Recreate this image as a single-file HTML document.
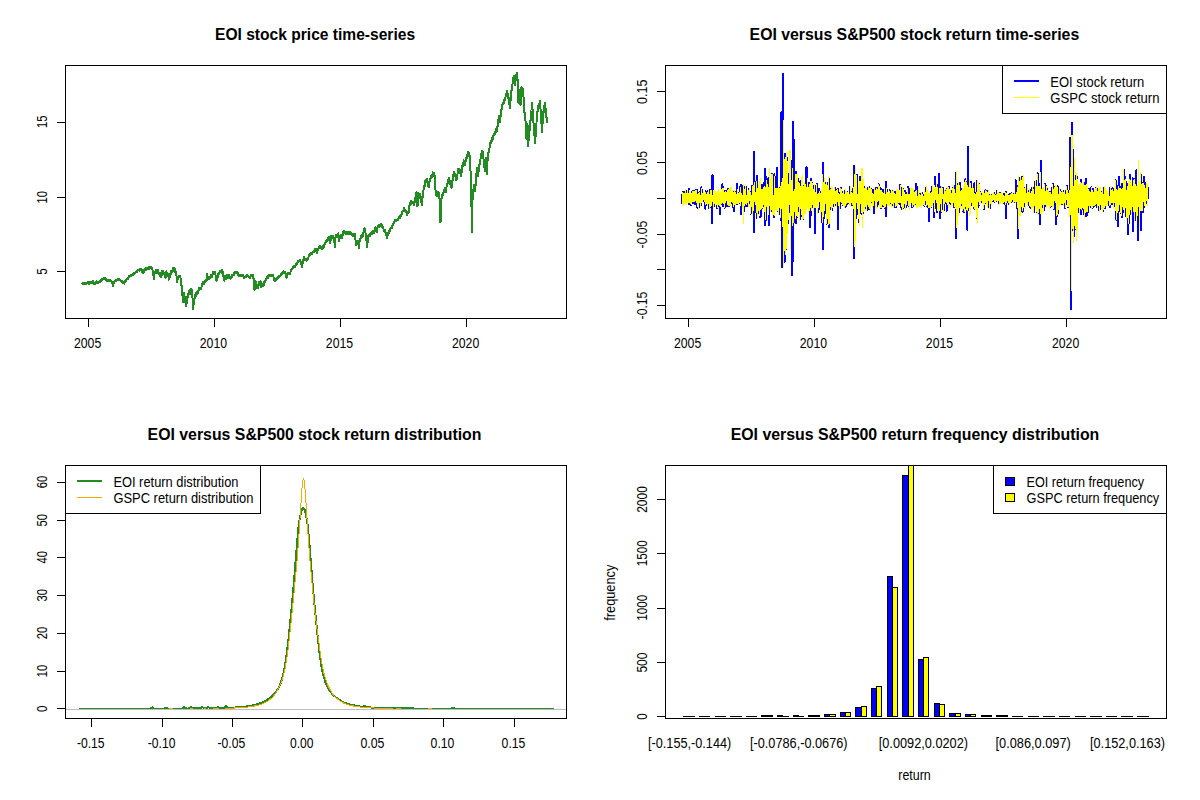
<!DOCTYPE html>
<html><head><meta charset="utf-8"><title>EOI vs S&amp;P500</title>
<style>html,body{margin:0;padding:0;background:#fff}svg{display:block}</style></head>
<body>
<svg width="1200" height="800" viewBox="0 0 1200 800">
<rect width="1200" height="800" fill="#fff"/>
<g shape-rendering="crispEdges">
<polyline points="82.3,283.6 82.4,283.3 82.5,283.4 82.6,284.0 82.7,284.0 82.8,284.0 82.9,283.4 83.0,283.2 83.1,283.6 83.2,283.9 83.3,283.1 83.4,283.2 83.5,284.1 83.6,283.9 83.7,283.9 83.8,284.2 83.9,283.2 84.0,283.3 84.1,283.4 84.2,283.6 84.3,284.0 84.4,284.0 84.5,283.5 84.6,283.4 84.7,283.4 84.8,283.5 84.9,283.5 85.0,283.8 85.1,283.1 85.2,283.4 85.3,283.9 85.4,283.9 85.5,284.1 85.6,283.6 85.7,283.4 85.8,282.7 85.9,283.2 86.0,283.4 86.1,283.8 86.2,283.8 86.3,283.3 86.4,283.2 86.5,282.7 86.6,283.1 86.7,282.9 86.8,283.0 86.9,283.1 87.0,283.1 87.1,283.5 87.2,282.6 87.3,282.8 87.4,282.2 87.5,282.3 87.6,282.6 87.7,282.3 87.8,282.7 87.9,282.9 88.0,282.6 88.1,282.8 88.2,282.9 88.3,282.8 88.4,282.9 88.5,282.3 88.6,283.3 88.7,283.8 88.8,284.0 88.9,283.9 89.0,283.1 89.1,283.3 89.2,283.2 89.3,282.9 89.4,282.7 89.5,282.7 89.6,282.8 89.7,283.1 89.8,282.3 89.9,282.9 90.0,282.6 90.1,282.5 90.2,282.5 90.3,282.0 90.4,282.3 90.5,282.4 90.6,282.4 90.7,282.6 90.8,282.5 90.9,282.7 91.0,282.5 91.1,282.2 91.2,282.5 91.3,282.6 91.4,282.4 91.5,282.3 91.6,282.9 91.7,282.8 91.8,282.7 91.9,283.3 92.0,283.0 92.1,282.7 92.2,282.8 92.3,281.8 92.4,282.5 92.5,282.2 92.6,281.6 92.7,281.5 92.8,281.6 92.9,281.8 93.0,281.6 93.1,281.4 93.2,281.3 93.3,281.4 93.4,281.8 93.5,281.8 93.6,282.5 93.7,282.7 93.8,282.9 93.9,283.3 94.0,283.7 94.1,283.9 94.2,283.4 94.3,283.1 94.4,282.7 94.5,283.4 94.6,284.0 94.7,283.4 94.8,283.5 94.9,282.9 95.0,283.0 95.1,283.1 95.2,282.9 95.3,283.1 95.4,282.8 95.5,282.8 95.6,283.5 95.7,283.7 95.8,282.9 95.9,282.5 96.0,283.3 96.1,283.2 96.2,282.1 96.3,282.4 96.4,281.2 96.5,281.3 96.6,282.0 96.7,282.3 96.8,282.0 96.9,281.9 97.0,282.2 97.1,282.5 97.2,282.2 97.3,282.3 97.4,282.0 97.5,282.1 97.6,281.9 97.7,282.6 97.8,282.7 97.9,282.7 98.0,282.8 98.1,282.6 98.2,282.3 98.3,282.7 98.4,282.3 98.5,281.8 98.6,281.8 98.7,282.0 98.8,282.1 98.9,282.1 99.0,281.7 99.1,281.5 99.2,281.3 99.3,281.6 99.4,282.0 99.5,282.2 99.6,282.1 99.7,281.6 99.8,281.7 99.9,282.0 100.0,281.9 100.1,281.8 100.2,281.6 100.3,281.2 100.4,281.4 100.5,281.5 100.6,281.3 100.7,281.2 100.8,281.0 100.9,280.2 101.0,281.0 101.1,281.0 101.2,280.7 101.3,280.8 101.4,280.6 101.5,280.5 101.6,280.3 101.7,280.4 101.8,279.7 101.9,280.1 102.0,279.3 102.1,279.1 102.2,278.9 102.3,278.7 102.4,278.9 102.5,279.5 102.6,279.6 102.7,279.7 102.8,279.4 102.9,279.2 103.0,278.8 103.1,278.4 103.2,278.6 103.3,278.6 103.4,278.3 103.5,278.1 103.6,278.4 103.7,277.8 103.8,277.8 103.9,277.8 104.0,278.6 104.1,278.5 104.2,278.5 104.3,278.6 104.4,278.5 104.5,277.9 104.6,277.7 104.7,278.1 104.8,279.0 104.9,278.8 105.0,279.4 105.1,279.4 105.2,279.7 105.3,279.6 105.4,279.2 105.5,279.1 105.6,279.4 105.7,279.7 105.8,280.0 105.9,280.0 106.0,279.4 106.1,279.3 106.2,279.6 106.3,279.8 106.4,280.7 106.5,279.9 106.6,280.1 106.7,280.2 106.8,280.5 106.9,280.8 107.0,280.7 107.1,280.3 107.2,280.6 107.3,280.2 107.4,280.0 107.5,280.6 107.6,280.2 107.7,280.1 107.8,279.7 107.9,279.7 108.0,280.0 108.1,280.8 108.2,280.3 108.3,279.9 108.4,280.6 108.5,280.1 108.6,280.5 108.7,280.9 108.8,280.8 108.9,281.0 109.0,280.7 109.1,280.9 109.2,280.4 109.3,280.6 109.4,280.6 109.5,280.1 109.6,281.0 109.7,280.6 109.8,280.2 109.9,280.5 110.0,280.3 110.1,280.6 110.2,280.8 110.3,280.8 110.4,280.6 110.5,280.3 110.6,280.4 110.7,280.3 110.8,280.5 110.9,280.7 111.0,280.5 111.1,280.7 111.2,280.6 111.3,280.8 111.4,281.0 111.5,280.9 111.6,281.0 111.7,281.1 111.8,281.6 111.9,281.7 112.0,281.9 112.1,282.6 112.2,282.7 112.3,282.8 112.4,283.0 112.5,283.6 112.6,284.0 112.7,284.4 112.8,284.4 112.9,284.9 113.0,285.7 113.1,285.5 113.2,284.7 113.3,284.0 113.4,283.8 113.5,283.6 113.6,283.3 113.7,282.8 113.8,282.2 113.9,282.0 114.0,281.6 114.1,282.0 114.2,281.3 114.3,281.3 114.4,282.2 114.5,282.2 114.6,281.9 114.7,281.8 114.8,281.6 114.9,281.0 115.0,280.5 115.1,280.4 115.2,280.6 115.3,280.2 115.4,280.2 115.5,280.0 115.6,280.4 115.7,280.0 115.8,280.1 115.9,280.3 116.0,280.4 116.1,280.1 116.2,280.6 116.3,280.8 116.4,280.3 116.5,279.9 116.6,280.3 116.7,280.1 116.8,279.8 116.9,279.8 117.0,279.8 117.1,280.2 117.2,280.0 117.3,280.0 117.4,279.4 117.5,279.8 117.6,279.5 117.7,279.8 117.8,279.9 117.9,279.8 118.0,278.8 118.1,279.3 118.2,279.9 118.3,279.8 118.4,279.5 118.5,279.6 118.6,280.2 118.7,280.2 118.8,280.1 118.9,279.6 119.0,279.4 119.1,279.8 119.2,279.6 119.3,279.4 119.4,279.6 119.5,279.6 119.6,279.5 119.7,279.8 119.8,279.7 119.9,279.7 120.0,279.4 120.1,279.4 120.2,279.7 120.3,279.7 120.4,280.7 120.5,280.6 120.6,280.4 120.7,280.8 120.8,280.6 120.9,280.9 121.0,281.1 121.1,281.3 121.2,281.2 121.3,281.3 121.4,280.6 121.5,281.5 121.6,281.3 121.7,281.6 121.8,281.7 121.9,281.6 122.0,281.1 122.1,281.5 122.2,281.9 122.3,282.0 122.4,282.6 122.5,282.2 122.6,282.7 122.7,282.8 122.8,282.9 122.9,282.4 123.0,282.0 123.1,282.0 123.2,282.7 123.3,282.9 123.4,282.7 123.5,283.1 123.6,283.1 123.7,283.1 123.8,282.7 123.9,282.4 124.0,283.0 124.1,283.4 124.2,283.6 124.3,283.4 124.4,282.4 124.5,282.6 124.6,282.3 124.7,281.7 124.8,281.5 124.9,281.2 125.0,281.4 125.1,281.9 125.2,282.0 125.3,282.1 125.4,281.8 125.5,281.7 125.6,281.4 125.7,281.3 125.8,281.2 125.9,281.2 126.0,281.2 126.1,280.2 126.2,280.0 126.3,280.1 126.4,279.5 126.5,279.2 126.6,279.0 126.7,279.2 126.8,278.8 126.9,278.6 127.0,278.9 127.1,279.1 127.2,278.9 127.3,278.5 127.4,278.3 127.5,278.2 127.6,278.3 127.7,278.6 127.8,279.0 127.9,278.6 128.0,278.0 128.1,278.3 128.2,277.8 128.3,277.7 128.4,277.4 128.5,277.8 128.6,277.4 128.7,277.4 128.8,277.4 128.9,277.2 129.0,277.1 129.1,277.0 129.2,276.3 129.3,276.4 129.4,276.7 129.5,276.8 129.6,276.4 129.7,276.8 129.8,276.1 129.9,275.7 130.0,276.0 130.1,275.7 130.2,275.9 130.3,275.7 130.4,275.2 130.5,275.5 130.6,275.5 130.7,275.3 130.8,275.8 130.9,275.8 131.0,274.5 131.1,274.9 131.2,274.8 131.3,275.0 131.4,274.7 131.5,274.7 131.6,274.8 131.7,275.2 131.8,275.0 131.9,275.1 132.0,274.6 132.1,275.1 132.2,274.9 132.3,274.7 132.4,274.7 132.5,274.7 132.6,275.2 132.7,275.0 132.8,274.3 132.9,273.6 133.0,273.8 133.1,273.7 133.2,274.0 133.3,274.0 133.4,273.3 133.5,273.8 133.6,273.4 133.7,273.7 133.8,273.0 133.9,273.2 134.0,273.7 134.1,273.3 134.2,273.1 134.3,273.2 134.4,273.4 134.5,273.3 134.6,273.1 134.7,273.8 134.8,273.1 134.9,272.5 135.0,272.8 135.1,272.7 135.2,272.7 135.3,273.1 135.4,272.8 135.5,272.6 135.6,272.9 135.7,272.5 135.8,272.4 135.9,271.9 136.0,272.1 136.1,272.4 136.2,272.0 136.3,272.2 136.4,271.8 136.5,271.9 136.6,271.2 136.7,272.0 136.8,271.7 136.9,271.2 137.0,270.6 137.1,270.6 137.2,270.7 137.3,270.7 137.4,270.5 137.5,271.0 137.6,271.1 137.7,270.6 137.8,270.7 137.9,270.3 138.0,270.5 138.1,270.4 138.2,269.8 138.3,270.2 138.4,270.4 138.5,269.7 138.6,270.4 138.7,270.5 138.8,270.4 138.9,269.5 139.0,270.0 139.1,270.2 139.2,270.6 139.3,269.5 139.4,269.4 139.5,269.7 139.6,269.3 139.7,269.4 139.8,269.3 139.9,269.5 140.0,269.3 140.1,269.2 140.2,269.3 140.3,269.8 140.4,269.6 140.5,269.3 140.6,269.0 140.7,269.2 140.8,269.1 140.9,269.3 141.0,269.0 141.1,268.8 141.2,268.7 141.3,269.0 141.4,269.0 141.5,269.2 141.6,269.9 141.7,270.6 141.8,270.5 141.9,271.1 142.0,271.2 142.1,271.2 142.2,271.3 142.3,271.9 142.4,272.1 142.5,272.6 142.6,273.4 142.7,273.2 142.8,273.1 142.9,273.2 143.0,273.2 143.1,273.4 143.2,272.8 143.3,272.5 143.4,272.3 143.5,271.8 143.6,271.7 143.7,271.5 143.8,272.4 143.9,271.4 144.0,271.7 144.1,270.7 144.2,269.9 144.3,269.5 144.4,269.9 144.5,269.7 144.6,269.5 144.7,269.8 144.8,269.8 144.9,270.3 145.0,270.0 145.1,270.2 145.2,270.1 145.3,269.4 145.4,269.1 145.5,268.9 145.6,268.4 145.7,268.4 145.8,269.2 145.9,269.6 146.0,269.3 146.1,269.6 146.2,270.2 146.3,268.8 146.4,268.4 146.5,268.4 146.6,268.5 146.7,268.6 146.8,268.8 146.9,268.9 147.0,269.4 147.1,268.6 147.2,268.8 147.3,268.1 147.4,268.3 147.5,268.5 147.6,268.9 147.7,268.8 147.8,267.8 147.9,267.9 148.0,268.7 148.1,269.1 148.2,268.7 148.3,267.9 148.4,268.0 148.5,268.1 148.6,267.9 148.7,267.5 148.8,268.2 148.9,268.8 149.0,268.5 149.1,268.4 149.2,268.1 149.3,268.0 149.4,267.7 149.5,267.8 149.6,267.5 149.7,267.2 149.8,267.6 149.9,267.1 150.0,266.7 150.1,267.3 150.2,267.8 150.3,266.7 150.4,267.2 150.5,266.8 150.6,267.4 150.7,267.9 150.8,267.2 150.9,267.9 151.0,267.5 151.1,267.8 151.2,267.7 151.3,268.0 151.4,268.3 151.5,268.5 151.6,268.2 151.7,267.8 151.8,268.2 151.9,268.3 152.0,268.7 152.1,268.4 152.2,269.2 152.3,268.8 152.4,269.4 152.5,270.4 152.6,270.0 152.7,270.2 152.8,270.7 152.9,270.9 153.0,272.0 153.1,272.7 153.2,273.1 153.3,273.5 153.4,274.7 153.5,275.9 153.6,276.3 153.7,276.6 153.8,277.4 153.9,278.3 154.0,279.2 154.1,278.1 154.2,276.3 154.3,274.5 154.4,274.3 154.5,273.8 154.6,273.0 154.7,272.6 154.8,272.6 154.9,272.8 155.0,273.1 155.1,272.9 155.2,272.5 155.3,272.7 155.4,271.8 155.5,272.1 155.6,271.2 155.7,272.2 155.8,271.7 155.9,272.1 156.0,272.5 156.1,271.8 156.2,271.4 156.3,270.5 156.4,269.8 156.5,272.6 156.6,272.0 156.7,271.1 156.8,271.9 156.9,272.4 157.0,271.3 157.1,272.4 157.2,271.4 157.3,272.3 157.4,271.1 157.5,270.7 157.6,271.0 157.7,270.3 157.8,269.8 157.9,271.9 158.0,272.3 158.1,271.7 158.2,272.0 158.3,273.0 158.4,273.3 158.5,272.5 158.6,272.5 158.7,272.5 158.8,272.8 158.9,272.6 159.0,273.2 159.1,272.8 159.2,273.1 159.3,274.2 159.4,273.9 159.5,274.8 159.6,273.9 159.7,275.1 159.8,275.9 159.9,275.9 160.0,273.7 160.1,273.5 160.2,274.7 160.3,273.2 160.4,272.8 160.5,274.8 160.6,275.2 160.7,276.7 160.8,276.9 160.9,277.0 161.0,276.9 161.1,276.8 161.2,276.1 161.3,275.3 161.4,274.0 161.5,274.8 161.6,274.4 161.7,273.7 161.8,273.5 161.9,272.7 162.0,270.8 162.1,271.9 162.2,272.4 162.3,274.3 162.4,275.3 162.5,275.4 162.6,273.8 162.7,273.5 162.8,272.5 162.9,271.6 163.0,271.1 163.1,271.3 163.2,272.3 163.3,272.4 163.4,273.5 163.5,272.8 163.6,272.6 163.7,273.1 163.8,273.5 163.9,273.6 164.0,273.6 164.1,272.4 164.2,273.7 164.3,272.9 164.4,274.3 164.5,273.5 164.6,274.2 164.7,275.0 164.8,275.0 164.9,275.0 165.0,274.9 165.1,275.1 165.2,276.7 165.3,276.9 165.4,277.0 165.5,276.6 165.6,277.6 165.7,276.5 165.8,276.0 165.9,274.6 166.0,273.9 166.1,273.0 166.2,271.6 166.3,271.5 166.4,271.3 166.5,271.8 166.6,274.0 166.7,273.4 166.8,273.9 166.9,273.3 167.0,273.1 167.1,273.7 167.2,273.0 167.3,274.1 167.4,273.1 167.5,273.9 167.6,273.8 167.7,273.9 167.8,275.0 167.9,274.6 168.0,275.4 168.1,275.3 168.2,276.6 168.3,276.9 168.4,275.3 168.5,276.2 168.6,276.5 168.7,277.4 168.8,279.8 168.9,279.5 169.0,279.5 169.1,278.8 169.2,277.9 169.3,277.8 169.4,277.2 169.5,277.3 169.6,276.3 169.7,277.9 169.8,276.5 169.9,275.7 170.0,276.6 170.1,274.1 170.2,275.3 170.3,273.8 170.4,274.4 170.5,274.3 170.6,273.9 170.7,271.7 170.8,272.3 170.9,274.3 171.0,273.1 171.1,271.8 171.2,271.3 171.3,272.2 171.4,271.4 171.5,272.9 171.6,272.6 171.7,272.6 171.8,271.2 171.9,270.9 172.0,270.7 172.1,271.5 172.2,270.7 172.3,270.9 172.4,271.3 172.5,270.8 172.6,271.2 172.7,269.5 172.8,270.1 172.9,270.1 173.0,269.6 173.1,268.3 173.2,268.2 173.3,268.3 173.4,269.3 173.5,270.0 173.6,269.9 173.7,270.2 173.8,270.3 173.9,271.4 174.0,270.3 174.1,269.4 174.2,268.8 174.3,268.4 174.4,268.7 174.5,267.7 174.6,269.2 174.7,270.0 174.8,269.1 174.9,269.4 175.0,268.8 175.1,271.7 175.2,271.8 175.3,272.2 175.4,272.6 175.5,270.7 175.6,271.0 175.7,271.4 175.8,272.7 175.9,272.8 176.0,272.2 176.1,272.8 176.2,275.1 176.3,274.9 176.4,276.0 176.5,275.9 176.6,276.8 176.7,279.9 176.8,280.4 176.9,281.0 177.0,281.7 177.1,280.6 177.2,280.1 177.3,279.3 177.4,279.8 177.5,280.1 177.6,279.7 177.7,278.5 177.8,278.8 177.9,277.9 178.0,277.8 178.1,278.5 178.2,277.7 178.3,276.9 178.4,276.4 178.5,277.1 178.6,277.5 178.7,276.1 178.8,276.7 178.9,277.4 179.0,277.0 179.1,277.5 179.2,277.1 179.3,276.2 179.4,276.6 179.5,276.9 179.6,276.8 179.7,276.8 179.8,276.8 179.9,276.5 180.0,275.7 180.1,276.6 180.2,276.4 180.3,277.3 180.4,277.6 180.5,277.7 180.6,278.1 180.7,278.6 180.8,278.7 180.9,278.5 181.0,280.3 181.1,281.0 181.2,282.7 181.3,284.1 181.4,285.2 181.5,284.7 181.6,285.3 181.7,285.6 181.8,285.9 181.9,288.7 182.0,288.0 182.1,289.0 182.2,290.1 182.3,292.1 182.4,293.8 182.5,295.9 182.6,297.8 182.7,299.2 182.8,298.9 182.9,300.0 183.0,302.1 183.1,301.2 183.2,300.0 183.3,300.4 183.4,298.4 183.5,297.9 183.6,297.8 183.7,295.4 183.8,293.6 183.9,294.3 184.0,294.3 184.1,292.6 184.2,293.7 184.3,295.1 184.4,295.9 184.5,296.5 184.6,297.0 184.7,297.2 184.8,296.7 184.9,297.6 185.0,298.6 185.1,300.1 185.2,299.6 185.3,301.5 185.4,302.2 185.5,302.3 185.6,302.9 185.7,303.5 185.8,304.8 185.9,305.7 186.0,305.8 186.1,306.2 186.2,304.9 186.3,304.7 186.4,303.8 186.5,303.4 186.6,304.0 186.7,302.8 186.8,302.2 186.9,300.1 187.0,300.6 187.1,299.5 187.2,297.9 187.3,297.0 187.4,297.3 187.5,297.0 187.6,297.7 187.7,296.9 187.8,297.5 187.9,297.6 188.0,295.8 188.1,295.7 188.2,294.7 188.3,293.4 188.4,293.2 188.5,293.4 188.6,292.5 188.7,291.7 188.8,291.5 188.9,293.0 189.0,291.9 189.1,291.2 189.2,291.6 189.3,291.5 189.4,290.9 189.5,290.9 189.6,291.1 189.7,290.4 189.8,290.0 189.9,291.3 190.0,293.8 190.1,292.7 190.2,291.0 190.3,290.5 190.4,290.2 190.5,290.0 190.6,289.0 190.7,288.7 190.8,290.2 190.9,290.3 191.0,290.8 191.1,290.8 191.2,291.3 191.3,290.6 191.4,290.2 191.5,290.6 191.6,289.7 191.7,289.9 191.8,290.1 191.9,289.8 192.0,290.1 192.1,290.6 192.2,292.0 192.3,294.6 192.4,295.8 192.5,298.2 192.6,300.2 192.7,303.3 192.8,305.4 192.9,307.0 193.0,308.7 193.1,309.4 193.2,309.0 193.3,307.3 193.4,305.6 193.5,304.6 193.6,304.3 193.7,302.8 193.8,302.3 193.9,302.1 194.0,301.5 194.1,300.8 194.2,300.8 194.3,301.1 194.4,298.3 194.5,299.1 194.6,298.8 194.7,298.3 194.8,298.6 194.9,298.1 195.0,296.8 195.1,296.5 195.2,295.2 195.3,295.5 195.4,296.2 195.5,297.1 195.6,296.2 195.7,295.9 195.8,295.8 195.9,294.4 196.0,294.9 196.1,295.0 196.2,294.5 196.3,294.7 196.4,294.1 196.5,292.1 196.6,292.0 196.7,292.1 196.8,292.9 196.9,292.9 197.0,292.9 197.1,294.0 197.2,294.4 197.3,293.3 197.4,293.9 197.5,293.1 197.6,293.9 197.7,293.5 197.8,293.0 197.9,292.4 198.0,293.0 198.1,291.6 198.2,290.6 198.3,290.9 198.4,291.2 198.5,291.4 198.6,289.6 198.7,288.2 198.8,288.5 198.9,288.5 199.0,288.2 199.1,288.8 199.2,288.6 199.3,289.5 199.4,290.2 199.5,290.5 199.6,289.1 199.7,289.1 199.8,288.5 199.9,287.7 200.0,289.1 200.1,288.8 200.2,289.1 200.3,289.0 200.4,289.3 200.5,289.0 200.6,289.5 200.7,289.0 200.8,289.3 200.9,289.5 201.0,289.2 201.1,288.1 201.2,289.4 201.3,287.9 201.4,287.4 201.5,287.0 201.6,285.1 201.7,285.5 201.8,286.7 201.9,286.0 202.0,285.9 202.1,285.3 202.2,285.3 202.3,283.7 202.4,284.1 202.5,284.2 202.6,283.7 202.7,283.1 202.8,283.6 202.9,282.0 203.0,281.6 203.1,281.8 203.2,281.9 203.3,282.7 203.4,282.8 203.5,282.3 203.6,282.7 203.7,283.0 203.8,283.1 203.9,283.3 204.0,283.9 204.1,284.1 204.2,283.0 204.3,282.6 204.4,282.6 204.5,283.4 204.6,282.6 204.7,281.3 204.8,281.5 204.9,282.4 205.0,281.7 205.1,281.0 205.2,280.7 205.3,280.6 205.4,281.4 205.5,280.6 205.6,281.3 205.7,281.2 205.8,281.0 205.9,281.4 206.0,280.5 206.1,279.4 206.2,279.8 206.3,279.9 206.4,280.5 206.5,280.8 206.6,279.9 206.7,277.6 206.8,275.9 206.9,274.1 207.0,273.6 207.1,275.1 207.2,274.7 207.3,276.7 207.4,277.8 207.5,279.3 207.6,278.8 207.7,278.7 207.8,278.8 207.9,278.5 208.0,278.0 208.1,278.3 208.2,277.4 208.3,278.3 208.4,278.8 208.5,278.2 208.6,278.2 208.7,278.5 208.8,279.3 208.9,278.4 209.0,279.3 209.1,278.5 209.2,278.7 209.3,278.7 209.4,278.8 209.5,278.2 209.6,278.0 209.7,277.7 209.8,278.1 209.9,277.0 210.0,276.5 210.1,276.4 210.2,276.7 210.3,277.3 210.4,277.9 210.5,277.3 210.6,276.5 210.7,275.8 210.8,276.0 210.9,275.3 211.0,276.5 211.1,276.9 211.2,276.6 211.3,276.4 211.4,275.7 211.5,276.0 211.6,276.0 211.7,275.6 211.8,276.4 211.9,276.3 212.0,275.6 212.1,276.2 212.2,276.6 212.3,275.8 212.4,275.4 212.5,274.0 212.6,274.4 212.7,274.1 212.8,273.1 212.9,274.3 213.0,273.6 213.1,273.2 213.2,271.8 213.3,272.8 213.4,272.7 213.5,274.0 213.6,274.0 213.7,272.9 213.8,272.9 213.9,273.1 214.0,272.7 214.1,272.4 214.2,272.6 214.3,272.0 214.4,271.8 214.5,272.4 214.6,273.2 214.7,272.7 214.8,272.6 214.9,272.1 215.0,272.9 215.1,273.2 215.2,273.0 215.3,273.6 215.4,273.9 215.5,274.8 215.6,275.8 215.7,276.2 215.8,276.2 215.9,277.0 216.0,277.1 216.1,278.0 216.2,279.7 216.3,280.3 216.4,280.6 216.5,280.9 216.6,281.0 216.7,280.7 216.8,279.1 216.9,279.3 217.0,279.5 217.1,279.5 217.2,279.2 217.3,279.1 217.4,278.4 217.5,277.9 217.6,277.9 217.7,276.2 217.8,275.8 217.9,275.3 218.0,274.5 218.1,274.3 218.2,275.1 218.3,274.3 218.4,275.0 218.5,274.2 218.6,274.1 218.7,274.0 218.8,273.9 218.9,273.3 219.0,273.0 219.1,272.5 219.2,272.6 219.3,273.2 219.4,272.9 219.5,271.8 219.6,271.8 219.7,270.7 219.8,271.2 219.9,271.3 220.0,272.1 220.1,271.4 220.2,271.3 220.3,271.2 220.4,271.4 220.5,271.7 220.6,271.0 220.7,271.5 220.8,271.3 220.9,271.8 221.0,272.4 221.1,272.3 221.2,271.8 221.3,271.2 221.4,270.6 221.5,270.6 221.6,271.0 221.7,270.6 221.8,269.9 221.9,270.3 222.0,270.3 222.1,270.9 222.2,271.9 222.3,271.4 222.4,273.9 222.5,273.7 222.6,273.5 222.7,274.1 222.8,273.7 222.9,273.5 223.0,273.8 223.1,272.2 223.2,274.1 223.3,273.7 223.4,276.5 223.5,275.3 223.6,276.2 223.7,278.3 223.8,279.6 223.9,280.4 224.0,279.8 224.1,280.4 224.2,279.8 224.3,279.7 224.4,280.6 224.5,280.4 224.6,279.0 224.7,278.8 224.8,279.4 224.9,278.1 225.0,276.7 225.1,277.2 225.2,276.8 225.3,277.1 225.4,276.3 225.5,276.6 225.6,277.6 225.7,276.7 225.8,276.6 225.9,278.1 226.0,277.5 226.1,278.5 226.2,279.0 226.3,277.5 226.4,278.5 226.5,276.5 226.6,276.7 226.7,276.4 226.8,276.5 226.9,276.9 227.0,274.9 227.1,276.3 227.2,277.4 227.3,276.2 227.4,275.5 227.5,276.2 227.6,277.4 227.7,276.6 227.8,277.9 227.9,277.1 228.0,276.5 228.1,277.0 228.2,275.9 228.3,275.5 228.4,275.5 228.5,274.9 228.6,275.5 228.7,275.6 228.8,275.6 228.9,275.3 229.0,275.5 229.1,275.7 229.2,275.0 229.3,276.2 229.4,275.5 229.5,275.5 229.6,276.5 229.7,277.4 229.8,277.6 229.9,278.1 230.0,277.6 230.1,277.0 230.2,278.2 230.3,278.4 230.4,278.2 230.5,278.9 230.6,278.5 230.7,277.8 230.8,277.3 230.9,277.7 231.0,277.7 231.1,277.4 231.2,277.5 231.3,276.8 231.4,277.0 231.5,276.8 231.6,277.3 231.7,277.1 231.8,276.1 231.9,276.2 232.0,276.3 232.1,275.8 232.2,275.7 232.3,275.1 232.4,275.0 232.5,275.1 232.6,274.9 232.7,274.7 232.8,275.2 232.9,275.1 233.0,274.6 233.1,275.0 233.2,275.1 233.3,275.0 233.4,274.2 233.5,273.7 233.6,273.5 233.7,273.6 233.8,274.1 233.9,273.4 234.0,273.6 234.1,273.4 234.2,273.9 234.3,273.6 234.4,274.6 234.5,274.2 234.6,273.4 234.7,273.2 234.8,272.8 234.9,272.2 235.0,272.9 235.1,272.9 235.2,271.6 235.3,271.9 235.4,272.1 235.5,272.0 235.6,271.8 235.7,271.9 235.8,272.1 235.9,272.5 236.0,272.1 236.1,272.3 236.2,271.8 236.3,272.2 236.4,272.0 236.5,272.2 236.6,272.4 236.7,271.8 236.8,272.5 236.9,272.9 237.0,272.6 237.1,272.8 237.2,272.8 237.3,272.8 237.4,272.2 237.5,272.4 237.6,272.7 237.7,273.6 237.8,273.3 237.9,274.4 238.0,274.1 238.1,274.2 238.2,274.5 238.3,274.8 238.4,274.9 238.5,275.4 238.6,275.5 238.7,276.1 238.8,275.9 238.9,275.7 239.0,275.6 239.1,275.3 239.2,275.4 239.3,275.4 239.4,275.7 239.5,275.6 239.6,275.7 239.7,275.3 239.8,275.9 239.9,275.5 240.0,275.3 240.1,275.0 240.2,275.2 240.3,274.5 240.4,275.0 240.5,274.9 240.6,275.3 240.7,275.3 240.8,275.2 240.9,275.3 241.0,275.9 241.1,275.3 241.2,276.0 241.3,275.6 241.4,276.2 241.5,275.6 241.6,275.8 241.7,275.5 241.8,275.1 241.9,275.5 242.0,275.4 242.1,275.4 242.2,275.1 242.3,276.1 242.4,275.9 242.5,276.0 242.6,276.1 242.7,275.8 242.8,275.3 242.9,275.2 243.0,275.0 243.1,276.0 243.2,275.9 243.3,276.2 243.4,276.4 243.5,276.8 243.6,276.5 243.7,277.3 243.8,277.3 243.9,277.5 244.0,278.3 244.1,277.4 244.2,277.5 244.3,277.9 244.4,277.9 244.5,277.2 244.6,277.2 244.7,277.4 244.8,277.4 244.9,277.1 245.0,276.6 245.1,277.0 245.2,277.4 245.3,276.9 245.4,276.9 245.5,277.3 245.6,277.1 245.7,276.5 245.8,276.1 245.9,275.9 246.0,276.3 246.1,276.3 246.2,275.6 246.3,276.4 246.4,276.5 246.5,276.0 246.6,276.3 246.7,275.9 246.8,276.0 246.9,275.8 247.0,275.6 247.1,275.1 247.2,275.1 247.3,275.6 247.4,276.0 247.5,275.3 247.6,275.6 247.7,275.5 247.8,275.6 247.9,275.6 248.0,275.7 248.1,276.0 248.2,275.6 248.3,275.7 248.4,275.7 248.5,276.0 248.6,276.6 248.7,276.8 248.8,276.7 248.9,276.8 249.0,277.6 249.1,277.5 249.2,277.5 249.3,277.9 249.4,277.7 249.5,277.7 249.6,277.4 249.7,277.1 249.8,278.1 249.9,278.2 250.0,278.2 250.1,277.5 250.2,276.8 250.3,276.7 250.4,277.0 250.5,276.6 250.6,276.1 250.7,276.4 250.8,276.2 250.9,275.4 251.0,274.9 251.1,275.0 251.2,274.9 251.3,275.4 251.4,275.5 251.5,275.6 251.6,275.9 251.7,275.9 251.8,275.3 251.9,275.9 252.0,276.2 252.1,275.5 252.2,275.2 252.3,275.2 252.4,275.6 252.5,276.1 252.6,276.1 252.7,275.8 252.8,275.4 252.9,275.1 253.0,275.1 253.1,276.2 253.2,277.0 253.3,277.2 253.4,278.2 253.5,278.0 253.6,280.4 253.7,279.4 253.8,280.1 253.9,282.0 254.0,283.2 254.1,284.2 254.2,285.5 254.3,287.1 254.4,286.6 254.5,289.7 254.6,288.9 254.7,287.1 254.8,287.2 254.9,285.9 255.0,284.6 255.1,284.5 255.2,284.7 255.3,284.5 255.4,282.2 255.5,281.2 255.6,282.6 255.7,283.3 255.8,282.9 255.9,282.9 256.0,283.2 256.1,284.4 256.2,283.6 256.3,285.1 256.4,285.6 256.5,285.3 256.6,283.9 256.7,285.3 256.8,284.7 256.9,285.4 257.0,286.2 257.1,286.1 257.2,286.1 257.3,285.7 257.4,287.4 257.5,288.5 257.6,288.4 257.7,287.4 257.8,287.4 257.9,288.1 258.0,288.6 258.1,288.3 258.2,287.8 258.3,286.9 258.4,286.8 258.5,286.5 258.6,285.2 258.7,284.6 258.8,283.2 258.9,283.6 259.0,282.4 259.1,283.3 259.2,282.5 259.3,281.8 259.4,282.7 259.5,282.4 259.6,283.4 259.7,283.2 259.8,282.6 259.9,283.1 260.0,283.1 260.1,282.9 260.2,284.4 260.3,283.4 260.4,283.6 260.5,282.3 260.6,281.4 260.7,281.9 260.8,282.7 260.9,283.4 261.0,284.5 261.1,284.2 261.2,286.1 261.3,287.1 261.4,287.2 261.5,287.0 261.6,285.0 261.7,286.1 261.8,286.2 261.9,285.0 262.0,284.7 262.1,284.6 262.2,285.4 262.3,285.3 262.4,284.9 262.5,285.2 262.6,283.8 262.7,284.9 262.8,283.8 262.9,283.5 263.0,283.4 263.1,284.2 263.2,285.1 263.3,286.3 263.4,285.1 263.5,285.2 263.6,285.4 263.7,285.6 263.8,283.8 263.9,283.6 264.0,283.3 264.1,282.5 264.2,281.3 264.3,282.1 264.4,282.5 264.5,282.2 264.6,282.1 264.7,281.4 264.8,281.8 264.9,281.3 265.0,281.0 265.1,281.9 265.2,281.5 265.3,281.1 265.4,281.1 265.5,280.3 265.6,280.1 265.7,279.9 265.8,278.8 265.9,278.7 266.0,279.4 266.1,278.8 266.2,279.0 266.3,279.5 266.4,279.9 266.5,278.5 266.6,278.8 266.7,278.7 266.8,277.9 266.9,277.8 267.0,277.6 267.1,277.2 267.2,277.5 267.3,276.5 267.4,276.9 267.5,277.1 267.6,276.5 267.7,276.8 267.8,277.0 267.9,277.5 268.0,277.7 268.1,277.1 268.2,276.9 268.3,276.0 268.4,276.2 268.5,276.6 268.6,276.5 268.7,276.3 268.8,275.0 268.9,275.7 269.0,276.3 269.1,275.8 269.2,276.2 269.3,275.3 269.4,275.9 269.5,275.5 269.6,275.5 269.7,275.3 269.8,276.5 269.9,276.3 270.0,275.1 270.1,275.2 270.2,274.8 270.3,275.2 270.4,275.8 270.5,275.8 270.6,275.4 270.7,275.8 270.8,275.4 270.9,275.7 271.0,275.4 271.1,275.7 271.2,276.2 271.3,275.7 271.4,275.5 271.5,275.4 271.6,275.8 271.7,275.8 271.8,275.5 271.9,275.7 272.0,276.0 272.1,276.1 272.2,276.5 272.3,276.2 272.4,275.7 272.5,275.8 272.6,275.1 272.7,275.1 272.8,275.8 272.9,275.0 273.0,275.5 273.1,275.2 273.2,276.2 273.3,276.5 273.4,276.5 273.5,277.0 273.6,277.7 273.7,277.8 273.8,277.9 273.9,278.4 274.0,279.5 274.1,279.8 274.2,279.4 274.3,280.2 274.4,279.4 274.5,279.1 274.6,279.6 274.7,280.1 274.8,280.6 274.9,280.9 275.0,281.2 275.1,280.5 275.2,281.0 275.3,280.9 275.4,280.6 275.5,280.9 275.6,281.0 275.7,280.0 275.8,279.9 275.9,280.1 276.0,279.4 276.1,279.0 276.2,279.4 276.3,279.4 276.4,279.7 276.5,279.6 276.6,279.6 276.7,278.6 276.8,278.9 276.9,278.7 277.0,278.9 277.1,278.7 277.2,278.2 277.3,277.9 277.4,278.9 277.5,279.1 277.6,278.4 277.7,278.4 277.8,278.4 277.9,277.7 278.0,277.1 278.1,277.3 278.2,277.3 278.3,277.2 278.4,277.1 278.5,276.5 278.6,277.4 278.7,276.8 278.8,277.0 278.9,277.0 279.0,277.1 279.1,276.5 279.2,276.9 279.3,276.8 279.4,276.4 279.5,276.1 279.6,277.0 279.7,276.4 279.8,276.1 279.9,275.9 280.0,276.2 280.1,276.0 280.2,275.9 280.3,276.0 280.4,275.6 280.5,274.7 280.6,274.8 280.7,275.3 280.8,274.1 280.9,274.5 281.0,274.1 281.1,274.2 281.2,274.5 281.3,274.2 281.4,275.0 281.5,274.5 281.6,273.5 281.7,273.2 281.8,273.4 281.9,273.9 282.0,272.9 282.1,272.5 282.2,273.2 282.3,273.3 282.4,273.4 282.5,273.3 282.6,272.4 282.7,272.0 282.8,272.1 282.9,271.8 283.0,271.9 283.1,271.4 283.2,271.3 283.3,271.4 283.4,271.9 283.5,271.7 283.6,272.4 283.7,272.7 283.8,272.3 283.9,272.3 284.0,272.3 284.1,271.9 284.2,271.7 284.3,271.8 284.4,271.9 284.5,272.2 284.6,271.8 284.7,272.2 284.8,271.9 284.9,271.5 285.0,271.5 285.1,271.6 285.2,271.9 285.3,273.0 285.4,273.2 285.5,273.4 285.6,273.1 285.7,274.4 285.8,274.9 285.9,274.7 286.0,274.8 286.1,275.5 286.2,275.8 286.3,276.6 286.4,277.1 286.5,277.5 286.6,277.4 286.7,277.9 286.8,277.3 286.9,276.8 287.0,276.8 287.1,276.1 287.2,275.7 287.3,275.6 287.4,275.7 287.5,275.4 287.6,274.7 287.7,274.0 287.8,273.2 287.9,273.9 288.0,274.1 288.1,273.5 288.2,273.7 288.3,273.6 288.4,273.8 288.5,273.4 288.6,273.3 288.7,273.6 288.8,273.5 288.9,272.7 289.0,273.7 289.1,273.8 289.2,272.7 289.3,272.8 289.4,273.0 289.5,272.6 289.6,273.6 289.7,274.5 289.8,273.7 289.9,272.8 290.0,273.1 290.1,272.8 290.2,272.5 290.3,272.5 290.4,272.3 290.5,271.9 290.6,271.7 290.7,271.3 290.8,270.8 290.9,270.3 291.0,270.3 291.1,269.9 291.2,269.3 291.3,269.2 291.4,269.6 291.5,269.7 291.6,269.1 291.7,269.2 291.8,268.9 291.9,268.5 292.0,269.2 292.1,268.5 292.2,268.7 292.3,268.7 292.4,269.3 292.5,268.8 292.6,268.5 292.7,268.5 292.8,268.3 292.9,268.0 293.0,267.3 293.1,267.6 293.2,267.1 293.3,267.0 293.4,266.7 293.5,267.5 293.6,267.2 293.7,266.9 293.8,266.9 293.9,265.7 294.0,266.7 294.1,266.3 294.2,266.4 294.3,266.3 294.4,266.4 294.5,266.8 294.6,266.3 294.7,265.6 294.8,265.8 294.9,266.2 295.0,266.8 295.1,266.1 295.2,266.3 295.3,265.4 295.4,265.1 295.5,265.3 295.6,264.7 295.7,264.7 295.8,265.2 295.9,264.9 296.0,265.5 296.1,265.0 296.2,264.1 296.3,264.2 296.4,264.1 296.5,264.0 296.6,264.4 296.7,264.4 296.8,264.5 296.9,264.4 297.0,263.6 297.1,263.0 297.2,263.5 297.3,263.7 297.4,263.1 297.5,262.8 297.6,263.0 297.7,262.6 297.8,262.0 297.9,261.9 298.0,261.2 298.1,262.3 298.2,262.3 298.3,262.1 298.4,261.5 298.5,261.7 298.6,261.4 298.7,261.4 298.8,261.0 298.9,261.0 299.0,260.9 299.1,261.1 299.2,260.9 299.3,260.6 299.4,260.5 299.5,260.6 299.6,260.6 299.7,260.7 299.8,260.3 299.9,260.7 300.0,260.2 300.1,260.5 300.2,260.4 300.3,261.0 300.4,261.1 300.5,261.4 300.6,261.6 300.7,261.5 300.8,262.0 300.9,261.5 301.0,262.0 301.1,261.9 301.2,263.3 301.3,263.8 301.4,264.5 301.5,264.6 301.6,265.6 301.7,266.2 301.8,266.2 301.9,266.5 302.0,266.7 302.1,265.6 302.2,265.6 302.3,265.3 302.4,264.2 302.5,263.5 302.6,263.3 302.7,262.5 302.8,261.9 302.9,261.9 303.0,261.7 303.1,261.1 303.2,260.4 303.3,260.0 303.4,259.7 303.5,259.8 303.6,259.1 303.7,258.6 303.8,258.2 303.9,258.0 304.0,258.3 304.1,257.8 304.2,257.0 304.3,257.6 304.4,258.0 304.5,258.7 304.6,258.2 304.7,258.7 304.8,259.6 304.9,259.8 305.0,259.6 305.1,258.9 305.2,259.5 305.3,259.3 305.4,260.1 305.5,259.7 305.6,259.6 305.7,259.6 305.8,259.7 305.9,259.9 306.0,260.1 306.1,259.5 306.2,259.6 306.3,260.0 306.4,259.7 306.5,259.9 306.6,260.2 306.7,259.9 306.8,260.6 306.9,260.1 307.0,260.3 307.1,260.2 307.2,259.7 307.3,258.9 307.4,259.2 307.5,258.3 307.6,258.5 307.7,257.8 307.8,257.7 307.9,257.8 308.0,257.5 308.1,258.3 308.2,258.4 308.3,257.5 308.4,258.6 308.5,257.1 308.6,256.6 308.7,255.2 308.8,255.6 308.9,256.3 309.0,256.2 309.1,255.8 309.2,255.9 309.3,255.4 309.4,255.7 309.5,255.3 309.6,254.9 309.7,255.0 309.8,255.7 309.9,255.3 310.0,255.4 310.1,254.9 310.2,254.3 310.3,253.5 310.4,254.1 310.5,254.3 310.6,254.2 310.7,253.6 310.8,254.1 310.9,253.8 311.0,253.3 311.1,253.7 311.2,253.5 311.3,253.9 311.4,254.1 311.5,253.3 311.6,253.5 311.7,253.3 311.8,253.0 311.9,253.1 312.0,253.4 312.1,254.4 312.2,253.9 312.3,253.2 312.4,253.3 312.5,252.7 312.6,252.8 312.7,252.1 312.8,252.5 312.9,252.3 313.0,252.0 313.1,252.4 313.2,252.3 313.3,251.6 313.4,251.8 313.5,252.2 313.6,251.8 313.7,252.3 313.8,251.5 313.9,251.6 314.0,251.7 314.1,251.4 314.2,251.6 314.3,250.5 314.4,250.4 314.5,249.9 314.6,250.0 314.7,250.4 314.8,249.8 314.9,249.3 315.0,249.3 315.1,248.9 315.2,248.8 315.3,249.2 315.4,248.5 315.5,248.5 315.6,249.1 315.7,249.1 315.8,249.3 315.9,249.0 316.0,249.3 316.1,249.4 316.2,249.7 316.3,250.9 316.4,251.3 316.5,251.5 316.6,251.3 316.7,251.5 316.8,252.9 316.9,252.1 317.0,251.9 317.1,252.3 317.2,252.2 317.3,251.9 317.4,251.0 317.5,251.0 317.6,250.6 317.7,249.6 317.8,249.0 317.9,248.7 318.0,249.6 318.1,248.7 318.2,248.6 318.3,248.8 318.4,248.8 318.5,248.1 318.6,248.4 318.7,248.2 318.8,247.7 318.9,248.1 319.0,248.0 319.1,247.5 319.2,247.4 319.3,247.0 319.4,248.0 319.5,247.0 319.6,245.8 319.7,246.7 319.8,246.7 319.9,246.8 320.0,246.4 320.1,246.4 320.2,245.9 320.3,246.9 320.4,246.7 320.5,247.5 320.6,247.8 320.7,247.7 320.8,247.7 320.9,248.2 321.0,248.2 321.1,248.3 321.2,247.8 321.3,247.9 321.4,247.8 321.5,248.0 321.6,248.3 321.7,248.7 321.8,249.5 321.9,248.7 322.0,248.4 322.1,248.1 322.2,248.4 322.3,248.1 322.4,247.4 322.5,246.4 322.6,246.8 322.7,246.6 322.8,246.5 322.9,248.4 323.0,248.4 323.1,247.9 323.2,246.6 323.3,245.4 323.4,245.7 323.5,246.2 323.6,245.8 323.7,246.7 323.8,246.8 323.9,246.4 324.0,246.5 324.1,245.8 324.2,244.5 324.3,244.2 324.4,244.8 324.5,243.7 324.6,244.2 324.7,244.6 324.8,244.1 324.9,243.2 325.0,242.9 325.1,243.2 325.2,243.0 325.3,242.8 325.4,242.0 325.5,241.8 325.6,242.7 325.7,242.4 325.8,241.9 325.9,241.1 326.0,242.0 326.1,242.1 326.2,242.1 326.3,240.5 326.4,240.8 326.5,242.2 326.6,240.7 326.7,241.0 326.8,241.5 326.9,241.3 327.0,241.4 327.1,240.5 327.2,239.5 327.3,239.7 327.4,239.3 327.5,239.3 327.6,239.5 327.7,238.9 327.8,240.3 327.9,239.6 328.0,237.7 328.1,238.5 328.2,239.1 328.3,239.5 328.4,238.6 328.5,237.0 328.6,238.8 328.7,238.5 328.8,238.0 328.9,237.4 329.0,237.8 329.1,238.8 329.2,239.2 329.3,238.4 329.4,237.5 329.5,238.4 329.6,238.9 329.7,239.0 329.8,241.3 329.9,242.2 330.0,243.1 330.1,242.2 330.2,241.1 330.3,240.5 330.4,240.0 330.5,240.8 330.6,239.8 330.7,239.5 330.8,238.3 330.9,237.7 331.0,236.6 331.1,236.1 331.2,236.1 331.3,236.2 331.4,236.0 331.5,236.6 331.6,236.9 331.7,237.2 331.8,237.2 331.9,237.2 332.0,236.9 332.1,236.5 332.2,236.2 332.3,237.0 332.4,236.9 332.5,236.9 332.6,237.2 332.7,237.2 332.8,237.1 332.9,237.3 333.0,236.8 333.1,237.9 333.2,237.0 333.3,236.8 333.4,236.3 333.5,236.7 333.6,237.3 333.7,237.5 333.8,237.6 333.9,238.4 334.0,238.7 334.1,239.3 334.2,240.3 334.3,241.2 334.4,241.2 334.5,242.5 334.6,242.6 334.7,244.4 334.8,246.1 334.9,247.0 335.0,247.1 335.1,246.0 335.2,243.9 335.3,242.3 335.4,239.2 335.5,237.4 335.6,236.9 335.7,235.4 335.8,236.0 335.9,235.8 336.0,235.2 336.1,235.9 336.2,235.2 336.3,236.9 336.4,236.5 336.5,236.7 336.6,237.1 336.7,235.9 336.8,237.1 336.9,237.3 337.0,236.0 337.1,236.7 337.2,236.4 337.3,236.9 337.4,236.7 337.5,235.6 337.6,235.5 337.7,235.0 337.8,235.8 337.9,235.7 338.0,235.2 338.1,234.2 338.2,234.0 338.3,233.3 338.4,234.5 338.5,235.2 338.6,236.5 338.7,236.8 338.8,238.9 338.9,240.1 339.0,241.5 339.1,240.2 339.2,239.2 339.3,238.5 339.4,239.8 339.5,238.1 339.6,238.7 339.7,238.8 339.8,238.1 339.9,237.5 340.0,237.7 340.1,237.7 340.2,237.5 340.3,237.1 340.4,237.3 340.5,235.9 340.6,235.5 340.7,236.3 340.8,236.5 340.9,237.6 341.0,236.9 341.1,236.3 341.2,236.6 341.3,236.4 341.4,235.4 341.5,237.3 341.6,236.8 341.7,236.9 341.8,236.9 341.9,237.6 342.0,238.4 342.1,237.5 342.2,236.6 342.3,237.5 342.4,237.6 342.5,235.2 342.6,235.8 342.7,235.8 342.8,235.2 342.9,234.7 343.0,234.5 343.1,234.5 343.2,234.2 343.3,232.7 343.4,232.3 343.5,231.4 343.6,233.2 343.7,233.4 343.8,233.6 343.9,233.0 344.0,232.5 344.1,230.8 344.2,232.2 344.3,231.7 344.4,231.6 344.5,231.6 344.6,232.2 344.7,233.0 344.8,232.4 344.9,232.7 345.0,233.6 345.1,233.2 345.2,233.2 345.3,231.6 345.4,231.8 345.5,231.7 345.6,231.7 345.7,231.9 345.8,233.8 345.9,233.7 346.0,234.4 346.1,233.9 346.2,232.9 346.3,232.0 346.4,232.0 346.5,233.0 346.6,232.5 346.7,232.0 346.8,232.3 346.9,231.9 347.0,232.0 347.1,232.3 347.2,232.8 347.3,232.6 347.4,233.0 347.5,233.8 347.6,233.3 347.7,233.5 347.8,232.1 347.9,231.8 348.0,232.5 348.1,233.0 348.2,232.5 348.3,232.4 348.4,231.8 348.5,233.1 348.6,234.3 348.7,232.9 348.8,232.0 348.9,232.0 349.0,232.4 349.1,232.0 349.2,232.2 349.3,233.8 349.4,234.4 349.5,233.9 349.6,233.1 349.7,233.0 349.8,232.3 349.9,231.9 350.0,232.3 350.1,232.3 350.2,232.0 350.3,232.6 350.4,233.2 350.5,233.0 350.6,233.9 350.7,233.8 350.8,233.7 350.9,234.4 351.0,233.3 351.1,234.4 351.2,233.8 351.3,234.3 351.4,234.5 351.5,234.8 351.6,234.0 351.7,235.0 351.8,235.3 351.9,234.8 352.0,233.8 352.1,234.1 352.2,234.0 352.3,234.5 352.4,235.4 352.5,235.6 352.6,234.9 352.7,235.7 352.8,234.3 352.9,235.2 353.0,235.4 353.1,235.9 353.2,236.1 353.3,235.0 353.4,235.1 353.5,235.6 353.6,235.7 353.7,235.5 353.8,235.7 353.9,235.6 354.0,235.6 354.1,234.8 354.2,234.2 354.3,234.8 354.4,235.8 354.5,236.5 354.6,235.4 354.7,234.7 354.8,235.7 354.9,234.9 355.0,234.0 355.1,235.4 355.2,236.7 355.3,239.1 355.4,238.9 355.5,239.6 355.6,241.0 355.7,241.4 355.8,242.7 355.9,243.8 356.0,244.9 356.1,244.3 356.2,244.7 356.3,244.2 356.4,243.8 356.5,244.0 356.6,242.3 356.7,241.9 356.8,242.6 356.9,243.4 357.0,242.0 357.1,241.2 357.2,241.3 357.3,242.6 357.4,242.8 357.5,243.5 357.6,242.4 357.7,241.1 357.8,242.4 357.9,241.2 358.0,242.4 358.1,242.4 358.2,243.4 358.3,243.6 358.4,244.6 358.5,245.3 358.6,245.5 358.7,243.9 358.8,246.0 358.9,246.7 359.0,247.9 359.1,246.4 359.2,244.7 359.3,242.9 359.4,244.3 359.5,242.5 359.6,241.6 359.7,241.1 359.8,241.4 359.9,241.7 360.0,241.4 360.1,240.0 360.2,240.0 360.3,238.7 360.4,238.8 360.5,238.3 360.6,238.8 360.7,238.1 360.8,238.0 360.9,237.3 361.0,236.3 361.1,236.5 361.2,236.0 361.3,236.3 361.4,237.6 361.5,237.3 361.6,236.5 361.7,236.2 361.8,235.3 361.9,235.8 362.0,235.1 362.1,235.7 362.2,236.5 362.3,237.2 362.4,237.3 362.5,236.3 362.6,235.6 362.7,236.2 362.8,236.3 362.9,236.4 363.0,236.5 363.1,235.3 363.2,235.6 363.3,234.0 363.4,232.2 363.5,232.3 363.6,232.5 363.7,231.9 363.8,231.9 363.9,232.7 364.0,232.2 364.1,230.4 364.2,231.8 364.3,230.5 364.4,229.3 364.5,228.5 364.6,229.1 364.7,230.5 364.8,230.4 364.9,231.5 365.0,231.6 365.1,231.8 365.2,230.4 365.3,231.6 365.4,232.6 365.5,233.3 365.6,233.6 365.7,234.4 365.8,235.9 365.9,235.6 366.0,235.5 366.1,236.7 366.2,236.6 366.3,238.0 366.4,240.0 366.5,241.2 366.6,243.5 366.7,244.3 366.8,246.0 366.9,246.9 367.0,245.9 367.1,245.4 367.2,243.6 367.3,244.1 367.4,243.7 367.5,242.5 367.6,242.0 367.7,240.8 367.8,240.5 367.9,239.4 368.0,236.7 368.1,235.9 368.2,237.6 368.3,236.4 368.4,236.8 368.5,236.8 368.6,236.9 368.7,236.2 368.8,235.9 368.9,235.4 369.0,236.2 369.1,235.5 369.2,235.4 369.3,235.5 369.4,236.3 369.5,235.8 369.6,235.6 369.7,235.3 369.8,235.8 369.9,236.3 370.0,234.3 370.1,235.3 370.2,234.4 370.3,234.3 370.4,233.1 370.5,234.5 370.6,234.8 370.7,234.4 370.8,234.7 370.9,233.9 371.0,233.2 371.1,232.9 371.2,234.0 371.3,233.0 371.4,234.2 371.5,234.0 371.6,233.8 371.7,234.4 371.8,234.1 371.9,232.8 372.0,232.5 372.1,232.1 372.2,232.4 372.3,232.3 372.4,232.5 372.5,231.3 372.6,231.9 372.7,232.1 372.8,233.2 372.9,233.5 373.0,233.0 373.1,232.4 373.2,232.3 373.3,232.2 373.4,231.0 373.5,230.7 373.6,231.6 373.7,231.3 373.8,231.1 373.9,230.9 374.0,231.4 374.1,232.0 374.2,232.9 374.3,231.4 374.4,230.7 374.5,230.7 374.6,230.5 374.7,230.2 374.8,230.8 374.9,229.8 375.0,229.5 375.1,229.5 375.2,228.6 375.3,229.3 375.4,228.6 375.5,227.5 375.6,229.5 375.7,229.0 375.8,228.9 375.9,228.2 376.0,228.6 376.1,229.3 376.2,228.8 376.3,229.5 376.4,229.3 376.5,230.3 376.6,231.2 376.7,232.2 376.8,230.9 376.9,231.4 377.0,231.9 377.1,232.2 377.2,230.7 377.3,229.0 377.4,228.2 377.5,227.8 377.6,228.1 377.7,226.8 377.8,227.3 377.9,226.5 378.0,226.8 378.1,226.9 378.2,226.3 378.3,226.9 378.4,226.2 378.5,225.6 378.6,225.8 378.7,224.7 378.8,225.3 378.9,225.4 379.0,225.4 379.1,225.2 379.2,225.4 379.3,224.9 379.4,224.7 379.5,225.7 379.6,226.3 379.7,226.6 379.8,226.2 379.9,225.6 380.0,226.2 380.1,226.1 380.2,225.6 380.3,225.1 380.4,225.6 380.5,225.6 380.6,225.9 380.7,225.4 380.8,225.0 380.9,224.9 381.0,224.2 381.1,224.0 381.2,224.8 381.3,225.2 381.4,226.0 381.5,225.5 381.6,225.0 381.7,225.4 381.8,225.4 381.9,225.2 382.0,225.8 382.1,226.3 382.2,227.1 382.3,226.0 382.4,226.2 382.5,225.9 382.6,226.6 382.7,227.8 382.8,227.3 382.9,228.3 383.0,227.9 383.1,227.9 383.2,227.9 383.3,227.7 383.4,227.7 383.5,229.2 383.6,229.4 383.7,229.9 383.8,230.3 383.9,230.8 384.0,230.3 384.1,230.7 384.2,230.8 384.3,230.9 384.4,232.1 384.5,231.6 384.6,231.6 384.7,229.9 384.8,231.5 384.9,231.2 385.0,231.3 385.1,231.7 385.2,232.4 385.3,231.8 385.4,230.7 385.5,231.8 385.6,232.4 385.7,232.4 385.8,233.3 385.9,233.2 386.0,234.0 386.1,234.0 386.2,234.4 386.3,235.1 386.4,235.6 386.5,235.6 386.6,235.9 386.7,237.0 386.8,236.7 386.9,237.6 387.0,238.5 387.1,238.3 387.2,238.0 387.3,237.3 387.4,237.2 387.5,236.0 387.6,235.1 387.7,235.0 387.8,235.5 387.9,234.7 388.0,233.2 388.1,233.4 388.2,233.7 388.3,234.0 388.4,233.1 388.5,232.7 388.6,232.3 388.7,233.0 388.8,231.1 388.9,231.3 389.0,231.6 389.1,231.7 389.2,231.9 389.3,231.7 389.4,230.5 389.5,229.8 389.6,230.0 389.7,230.3 389.8,231.1 389.9,230.2 390.0,230.3 390.1,229.6 390.2,229.6 390.3,228.9 390.4,228.5 390.5,228.3 390.6,228.2 390.7,228.1 390.8,227.7 390.9,228.1 391.0,228.0 391.1,227.7 391.2,227.8 391.3,227.7 391.4,227.9 391.5,228.5 391.6,228.3 391.7,228.3 391.8,228.1 391.9,228.0 392.0,226.8 392.1,227.0 392.2,225.8 392.3,226.0 392.4,225.7 392.5,225.4 392.6,225.5 392.7,225.5 392.8,225.6 392.9,224.6 393.0,224.9 393.1,224.5 393.2,224.6 393.3,224.2 393.4,223.8 393.5,223.6 393.6,223.5 393.7,223.1 393.8,222.4 393.9,222.1 394.0,222.6 394.1,222.4 394.2,223.1 394.3,222.1 394.4,222.0 394.5,222.0 394.6,221.6 394.7,221.7 394.8,221.2 394.9,220.9 395.0,220.4 395.1,221.0 395.2,220.5 395.3,220.0 395.4,220.0 395.5,220.1 395.6,220.2 395.7,220.3 395.8,220.9 395.9,220.7 396.0,220.7 396.1,221.1 396.2,220.3 396.3,220.3 396.4,220.7 396.5,220.4 396.6,220.3 396.7,220.3 396.8,220.6 396.9,220.3 397.0,220.3 397.1,220.2 397.2,219.5 397.3,220.1 397.4,219.1 397.5,220.1 397.6,220.4 397.7,220.1 397.8,219.6 397.9,219.2 398.0,219.0 398.1,219.6 398.2,219.1 398.3,219.0 398.4,219.0 398.5,218.9 398.6,218.8 398.7,218.6 398.8,217.7 398.9,217.2 399.0,218.0 399.1,218.0 399.2,218.2 399.3,217.8 399.4,217.5 399.5,217.8 399.6,217.1 399.7,216.9 399.8,217.8 399.9,217.2 400.0,216.7 400.1,216.4 400.2,216.1 400.3,216.0 400.4,215.9 400.5,215.9 400.6,216.1 400.7,216.1 400.8,215.9 400.9,215.9 401.0,215.3 401.1,215.2 401.2,214.4 401.3,214.3 401.4,214.5 401.5,214.2 401.6,213.4 401.7,213.0 401.8,212.8 401.9,212.9 402.0,212.6 402.1,213.8 402.2,212.9 402.3,212.8 402.4,212.1 402.5,211.0 402.6,211.4 402.7,210.9 402.8,211.2 402.9,210.5 403.0,210.5 403.1,211.0 403.2,210.4 403.3,210.7 403.4,210.7 403.5,210.4 403.6,210.0 403.7,209.0 403.8,208.1 403.9,208.4 404.0,208.3 404.1,209.0 404.2,208.8 404.3,208.7 404.4,209.2 404.5,209.8 404.6,210.8 404.7,210.4 404.8,210.9 404.9,210.3 405.0,210.8 405.1,210.2 405.2,210.1 405.3,210.7 405.4,210.5 405.5,210.1 405.6,210.3 405.7,211.2 405.8,210.5 405.9,210.5 406.0,210.5 406.1,211.6 406.2,212.0 406.3,212.5 406.4,212.2 406.5,212.8 406.6,213.2 406.7,213.8 406.8,214.1 406.9,214.7 407.0,215.2 407.1,215.5 407.2,213.8 407.3,213.6 407.4,214.1 407.5,214.2 407.6,214.1 407.7,213.2 407.8,213.4 407.9,212.8 408.0,213.2 408.1,212.4 408.2,212.1 408.3,211.8 408.4,212.4 408.5,212.6 408.6,212.8 408.7,211.5 408.8,210.0 408.9,208.8 409.0,208.2 409.1,207.2 409.2,206.8 409.3,205.9 409.4,206.1 409.5,205.7 409.6,204.9 409.7,204.6 409.8,204.3 409.9,204.3 410.0,203.8 410.1,202.9 410.2,203.1 410.3,203.1 410.4,203.6 410.5,203.0 410.6,202.8 410.7,202.0 410.8,201.9 410.9,200.7 411.0,201.5 411.1,201.8 411.2,201.7 411.3,202.0 411.4,202.3 411.5,201.9 411.6,202.2 411.7,202.8 411.8,203.6 411.9,202.7 412.0,202.4 412.1,202.4 412.2,202.9 412.3,202.8 412.4,203.0 412.5,203.1 412.6,202.8 412.7,202.9 412.8,202.4 412.9,202.5 413.0,202.0 413.1,202.9 413.2,202.6 413.3,202.9 413.4,202.8 413.5,203.0 413.6,203.2 413.7,203.5 413.8,203.9 413.9,204.5 414.0,205.0 414.1,204.4 414.2,203.8 414.3,204.4 414.4,202.6 414.5,202.4 414.6,202.1 414.7,201.5 414.8,200.7 414.9,199.5 415.0,200.1 415.1,198.8 415.2,199.1 415.3,198.8 415.4,198.0 415.5,197.2 415.6,196.5 415.7,196.7 415.8,195.9 415.9,195.8 416.0,194.9 416.1,194.4 416.2,193.8 416.3,193.8 416.4,193.0 416.5,192.1 416.6,194.6 416.7,195.5 416.8,197.2 416.9,198.5 417.0,199.9 417.1,200.3 417.2,202.6 417.3,203.4 417.4,204.7 417.5,206.5 417.6,204.9 417.7,201.9 417.8,201.0 417.9,199.6 418.0,197.6 418.1,195.2 418.2,193.2 418.3,193.3 418.4,194.6 418.5,194.8 418.6,194.5 418.7,194.7 418.8,194.2 418.9,194.9 419.0,195.9 419.1,196.7 419.2,197.2 419.3,196.4 419.4,197.6 419.5,195.7 419.6,195.0 419.7,194.3 419.8,194.2 419.9,193.8 420.0,193.9 420.1,193.7 420.2,194.5 420.3,194.2 420.4,194.0 420.5,196.2 420.6,196.5 420.7,196.4 420.8,196.9 420.9,197.6 421.0,198.3 421.1,198.4 421.2,200.7 421.3,200.7 421.4,201.0 421.5,203.0 421.6,202.9 421.7,202.9 421.8,202.3 421.9,205.2 422.0,204.1 422.1,202.4 422.2,200.1 422.3,199.6 422.4,198.6 422.5,197.4 422.6,197.2 422.7,197.4 422.8,195.4 422.9,193.2 423.0,193.0 423.1,191.0 423.2,190.6 423.3,191.4 423.4,190.7 423.5,190.3 423.6,189.1 423.7,188.4 423.8,189.7 423.9,187.7 424.0,188.1 424.1,188.3 424.2,187.5 424.3,186.0 424.4,186.9 424.5,185.8 424.6,185.6 424.7,185.8 424.8,186.0 424.9,184.7 425.0,183.7 425.1,183.5 425.2,181.5 425.3,181.8 425.4,180.4 425.5,181.0 425.6,181.1 425.7,181.6 425.8,180.1 425.9,181.8 426.0,181.1 426.1,179.9 426.2,180.5 426.3,181.0 426.4,179.7 426.5,180.5 426.6,178.6 426.7,178.6 426.8,179.2 426.9,179.4 427.0,179.5 427.1,180.6 427.2,181.6 427.3,181.3 427.4,181.1 427.5,180.7 427.6,181.4 427.7,182.6 427.8,181.9 427.9,182.6 428.0,184.5 428.1,183.8 428.2,184.1 428.3,185.9 428.4,185.2 428.5,185.7 428.6,185.9 428.7,187.2 428.8,185.8 428.9,186.0 429.0,185.5 429.1,185.7 429.2,183.0 429.3,182.4 429.4,182.2 429.5,181.4 429.6,181.2 429.7,181.2 429.8,179.7 429.9,180.8 430.0,181.0 430.1,180.9 430.2,179.9 430.3,179.1 430.4,178.4 430.5,177.7 430.6,178.2 430.7,178.3 430.8,177.1 430.9,176.8 431.0,176.1 431.1,176.8 431.2,176.7 431.3,176.9 431.4,177.7 431.5,177.5 431.6,176.7 431.7,176.5 431.8,176.8 431.9,177.1 432.0,175.4 432.1,176.4 432.2,174.3 432.3,175.5 432.4,175.4 432.5,174.2 432.6,173.4 432.7,172.4 432.8,173.2 432.9,172.6 433.0,173.3 433.1,172.8 433.2,173.5 433.3,173.3 433.4,174.6 433.5,173.9 433.6,173.8 433.7,173.2 433.8,172.9 433.9,173.5 434.0,175.7 434.1,175.0 434.2,175.6 434.3,175.3 434.4,175.5 434.5,176.0 434.6,175.7 434.7,175.9 434.8,178.3 434.9,180.1 435.0,182.0 435.1,184.5 435.2,186.6 435.3,188.4 435.4,189.0 435.5,190.0 435.6,192.2 435.7,190.9 435.8,191.1 435.9,191.7 436.0,192.3 436.1,193.0 436.2,193.7 436.3,195.4 436.4,194.3 436.5,195.0 436.6,194.8 436.7,194.2 436.8,195.2 436.9,194.6 437.0,196.6 437.1,196.2 437.2,195.9 437.3,194.8 437.4,194.1 437.5,195.1 437.6,195.2 437.7,194.8 437.8,194.5 437.9,191.4 438.0,192.5 438.1,192.1 438.2,192.5 438.3,192.3 438.4,192.1 438.5,192.3 438.6,193.4 438.7,192.6 438.8,194.3 438.9,195.0 439.0,195.6 439.1,196.7 439.2,197.9 439.3,197.2 439.4,198.8 439.5,199.1 439.6,201.3 439.7,204.4 439.8,207.5 439.9,208.7 440.0,210.9 440.1,213.3 440.2,216.0 440.3,217.5 440.4,220.3 440.5,222.5 440.6,217.9 440.7,212.9 440.8,207.8 440.9,203.1 441.0,199.6 441.1,199.6 441.2,199.4 441.3,199.0 441.4,198.7 441.5,198.6 441.6,198.8 441.7,197.6 441.8,197.0 441.9,196.4 442.0,197.8 442.1,197.3 442.2,196.4 442.3,194.9 442.4,195.9 442.5,195.2 442.6,193.5 442.7,194.5 442.8,194.5 442.9,195.1 443.0,194.2 443.1,192.9 443.2,192.8 443.3,192.2 443.4,192.8 443.5,193.4 443.6,190.4 443.7,192.3 443.8,191.7 443.9,190.7 444.0,191.2 444.1,190.9 444.2,190.0 444.3,190.0 444.4,189.6 444.5,189.5 444.6,189.9 444.7,189.2 444.8,190.3 444.9,189.5 445.0,188.2 445.1,188.0 445.2,188.5 445.3,189.8 445.4,189.6 445.5,189.9 445.6,191.3 445.7,192.3 445.8,191.1 445.9,191.6 446.0,192.4 446.1,191.1 446.2,190.1 446.3,189.0 446.4,187.0 446.5,187.0 446.6,185.9 446.7,186.7 446.8,184.9 446.9,186.3 447.0,186.2 447.1,185.3 447.2,183.3 447.3,184.3 447.4,183.4 447.5,182.7 447.6,182.8 447.7,183.1 447.8,181.6 447.9,181.8 448.0,183.2 448.1,180.5 448.2,180.8 448.3,180.1 448.4,179.9 448.5,179.5 448.6,178.5 448.7,179.4 448.8,179.8 448.9,178.0 449.0,178.3 449.1,179.6 449.2,179.2 449.3,180.1 449.4,179.8 449.5,181.2 449.6,180.2 449.7,180.7 449.8,180.8 449.9,181.7 450.0,181.7 450.1,182.3 450.2,181.9 450.3,182.6 450.4,183.9 450.5,185.3 450.6,185.2 450.7,186.6 450.8,186.1 450.9,183.3 451.0,184.9 451.1,186.9 451.2,186.6 451.3,187.3 451.4,187.6 451.5,187.5 451.6,187.6 451.7,185.7 451.8,184.5 451.9,183.1 452.0,182.4 452.1,182.6 452.2,181.0 452.3,180.2 452.4,180.7 452.5,181.3 452.6,180.9 452.7,180.2 452.8,178.0 452.9,178.6 453.0,176.0 453.1,175.0 453.2,176.3 453.3,174.9 453.4,174.9 453.5,175.6 453.6,175.3 453.7,173.9 453.8,175.8 453.9,173.9 454.0,172.3 454.1,172.0 454.2,174.2 454.3,174.0 454.4,174.0 454.5,173.6 454.6,174.0 454.7,175.4 454.8,175.8 454.9,175.4 455.0,175.3 455.1,176.1 455.2,176.5 455.3,175.1 455.4,176.6 455.5,175.0 455.6,175.6 455.7,176.2 455.8,177.2 455.9,178.4 456.0,179.5 456.1,180.2 456.2,178.6 456.3,178.7 456.4,179.3 456.5,179.9 456.6,178.9 456.7,178.3 456.8,178.4 456.9,178.3 457.0,176.9 457.1,176.3 457.2,175.4 457.3,174.8 457.4,174.0 457.5,174.1 457.6,172.8 457.7,172.4 457.8,172.0 457.9,171.0 458.0,170.8 458.1,169.9 458.2,169.9 458.3,169.0 458.4,169.3 458.5,171.4 458.6,171.1 458.7,169.9 458.8,171.1 458.9,170.3 459.0,170.1 459.1,170.1 459.2,170.5 459.3,168.7 459.4,169.7 459.5,169.4 459.6,170.5 459.7,171.4 459.8,171.6 459.9,171.5 460.0,172.7 460.1,172.4 460.2,172.2 460.3,172.4 460.4,172.4 460.5,174.2 460.6,174.0 460.7,173.8 460.8,175.1 460.9,175.7 461.0,175.7 461.1,175.6 461.2,174.6 461.3,173.2 461.4,173.3 461.5,172.8 461.6,171.9 461.7,170.8 461.8,168.7 461.9,167.5 462.0,166.2 462.1,166.0 462.2,166.0 462.3,165.6 462.4,165.5 462.5,166.2 462.6,166.8 462.7,165.2 462.8,164.9 462.9,165.7 463.0,163.9 463.1,165.4 463.2,164.8 463.3,164.4 463.4,163.0 463.5,162.5 463.6,160.1 463.7,161.7 463.8,162.0 463.9,160.7 464.0,161.9 464.1,162.9 464.2,163.2 464.3,162.6 464.4,162.8 464.5,164.1 464.6,165.4 464.7,164.8 464.8,164.0 464.9,163.7 465.0,163.2 465.1,162.2 465.2,163.1 465.3,162.4 465.4,162.6 465.5,161.9 465.6,160.6 465.7,160.1 465.8,159.2 465.9,159.1 466.0,159.8 466.1,157.7 466.2,157.3 466.3,158.7 466.4,157.5 466.5,157.8 466.6,157.8 466.7,157.5 466.8,158.4 466.9,157.3 467.0,157.7 467.1,154.9 467.2,155.5 467.3,155.2 467.4,155.3 467.5,154.8 467.6,153.6 467.7,153.6 467.8,155.1 467.9,155.1 468.0,155.8 468.1,155.3 468.2,153.9 468.3,152.1 468.4,152.1 468.5,152.3 468.6,152.1 468.7,154.0 468.8,154.3 468.9,154.2 469.0,153.9 469.1,153.8 469.2,154.9 469.3,154.3 469.4,155.1 469.5,155.3 469.6,156.1 469.7,156.9 469.8,157.6 469.9,157.9 470.0,157.7 470.1,160.5 470.2,163.4 470.3,166.9 470.4,168.2 470.5,170.8 470.6,173.0 470.7,177.9 470.8,181.2 470.9,182.1 471.0,184.4 471.1,189.0 471.2,195.4 471.3,199.3 471.4,203.0 471.5,207.3 471.6,213.1 471.7,218.3 471.8,222.1 471.9,225.9 472.0,231.8 472.1,224.7 472.2,218.6 472.3,210.7 472.4,204.4 472.5,199.6 472.6,199.5 472.7,197.3 472.8,196.9 472.9,196.1 473.0,195.6 473.1,195.0 473.2,194.1 473.3,191.6 473.4,190.0 473.5,188.7 473.6,188.9 473.7,188.9 473.8,189.8 473.9,189.7 474.0,187.4 474.1,185.8 474.2,185.4 474.3,184.7 474.4,186.2 474.5,186.2 474.6,187.5 474.7,187.5 474.8,188.0 474.9,190.5 475.0,191.0 475.1,190.8 475.2,190.2 475.3,189.0 475.4,187.6 475.5,186.4 475.6,184.6 475.7,183.5 475.8,180.6 475.9,180.4 476.0,178.1 476.1,176.5 476.2,175.2 476.3,174.3 476.4,174.7 476.5,173.5 476.6,171.2 476.7,171.9 476.8,169.6 476.9,169.2 477.0,168.3 477.1,168.6 477.2,169.1 477.3,170.9 477.4,171.6 477.5,173.2 477.6,174.1 477.7,174.0 477.8,174.5 477.9,175.4 478.0,175.1 478.1,175.7 478.2,175.6 478.3,174.5 478.4,173.6 478.5,172.1 478.6,171.3 478.7,170.2 478.8,170.6 478.9,169.5 479.0,168.9 479.1,167.8 479.2,167.4 479.3,166.9 479.4,165.8 479.5,164.5 479.6,164.0 479.7,162.4 479.8,161.5 479.9,162.2 480.0,161.2 480.1,160.7 480.2,161.4 480.3,160.7 480.4,159.9 480.5,159.0 480.6,157.2 480.7,157.2 480.8,155.7 480.9,155.5 481.0,154.7 481.1,155.2 481.2,155.9 481.3,155.4 481.4,153.7 481.5,153.1 481.6,154.1 481.7,153.6 481.8,153.6 481.9,153.8 482.0,152.7 482.1,152.4 482.2,152.2 482.3,152.6 482.4,150.8 482.5,150.6 482.6,151.4 482.7,151.6 482.8,151.3 482.9,152.3 483.0,153.0 483.1,153.6 483.2,153.4 483.3,154.3 483.4,157.2 483.5,159.1 483.6,160.3 483.7,161.6 483.8,163.0 483.9,163.5 484.0,166.5 484.1,166.4 484.2,166.9 484.3,165.2 484.4,166.3 484.5,167.6 484.6,168.1 484.7,169.5 484.8,169.7 484.9,171.1 485.0,169.8 485.1,168.1 485.2,167.2 485.3,166.4 485.4,165.4 485.5,163.2 485.6,161.8 485.7,161.4 485.8,160.4 485.9,158.5 486.0,157.8 486.1,159.6 486.2,161.1 486.3,161.8 486.4,164.0 486.5,166.2 486.6,167.7 486.7,168.1 486.8,170.8 486.9,172.3 487.0,174.3 487.1,172.1 487.2,169.4 487.3,166.2 487.4,162.1 487.5,161.4 487.6,159.1 487.7,158.0 487.8,158.5 487.9,157.8 488.0,156.2 488.1,155.1 488.2,154.7 488.3,154.7 488.4,153.4 488.5,152.5 488.6,152.6 488.7,152.0 488.8,151.7 488.9,150.5 489.0,150.8 489.1,150.6 489.2,150.3 489.3,148.8 489.4,148.8 489.5,148.3 489.6,147.1 489.7,146.2 489.8,147.1 489.9,145.1 490.0,145.9 490.1,145.9 490.2,143.4 490.3,142.5 490.4,143.7 490.5,143.7 490.6,144.1 490.7,143.3 490.8,142.2 490.9,141.6 491.0,141.7 491.1,141.0 491.2,142.0 491.3,142.1 491.4,141.4 491.5,142.2 491.6,140.5 491.7,140.5 491.8,140.9 491.9,138.1 492.0,138.2 492.1,138.8 492.2,139.8 492.3,139.0 492.4,138.7 492.5,139.4 492.6,139.1 492.7,137.6 492.8,136.6 492.9,137.0 493.0,137.4 493.1,136.7 493.2,136.9 493.3,135.4 493.4,135.5 493.5,136.0 493.6,135.1 493.7,135.8 493.8,134.5 493.9,134.7 494.0,134.2 494.1,134.3 494.2,133.8 494.3,134.4 494.4,134.6 494.5,135.2 494.6,133.8 494.7,133.0 494.8,133.3 494.9,132.2 495.0,132.4 495.1,133.1 495.2,133.9 495.3,134.5 495.4,133.5 495.5,132.4 495.6,132.7 495.7,132.6 495.8,132.4 495.9,132.0 496.0,130.4 496.1,130.0 496.2,129.1 496.3,129.4 496.4,130.1 496.5,131.8 496.6,130.6 496.7,131.7 496.8,130.1 496.9,128.8 497.0,128.6 497.1,129.7 497.2,128.8 497.3,126.3 497.4,126.7 497.5,127.2 497.6,125.7 497.7,124.6 497.8,123.8 497.9,123.9 498.0,121.3 498.1,120.3 498.2,120.9 498.3,119.9 498.4,119.1 498.5,119.0 498.6,117.7 498.7,117.9 498.8,117.5 498.9,116.2 499.0,116.2 499.1,115.7 499.2,116.4 499.3,116.9 499.4,116.1 499.5,117.5 499.6,118.1 499.7,118.8 499.8,120.2 499.9,120.4 500.0,121.7 500.1,121.6 500.2,121.1 500.3,120.3 500.4,118.2 500.5,117.5 500.6,116.5 500.7,113.5 500.8,113.8 500.9,113.5 501.0,112.5 501.1,110.7 501.2,111.9 501.3,110.6 501.4,109.6 501.5,110.9 501.6,108.8 501.7,107.6 501.8,107.2 501.9,107.5 502.0,107.4 502.1,106.3 502.2,106.4 502.3,106.6 502.4,105.4 502.5,103.8 502.6,103.3 502.7,103.7 502.8,104.5 502.9,104.2 503.0,103.1 503.1,103.1 503.2,104.1 503.3,103.5 503.4,104.3 503.5,104.1 503.6,103.0 503.7,101.9 503.8,102.2 503.9,102.2 504.0,101.0 504.1,99.9 504.2,101.1 504.3,101.3 504.4,100.7 504.5,101.8 504.6,100.2 504.7,100.2 504.8,100.5 504.9,100.3 505.0,100.2 505.1,99.6 505.2,99.4 505.3,98.5 505.4,99.0 505.5,96.7 505.6,96.6 505.7,95.6 505.8,96.3 505.9,95.6 506.0,95.0 506.1,94.7 506.2,94.1 506.3,94.2 506.4,94.7 506.5,94.3 506.6,92.8 506.7,92.9 506.8,91.8 506.9,91.0 507.0,92.7 507.1,92.3 507.2,94.0 507.3,95.1 507.4,94.7 507.5,94.2 507.6,93.9 507.7,94.1 507.8,95.0 507.9,96.1 508.0,94.2 508.1,95.2 508.2,95.7 508.3,95.8 508.4,97.3 508.5,99.1 508.6,97.8 508.7,98.3 508.8,99.5 508.9,99.3 509.0,101.0 509.1,102.0 509.2,102.9 509.3,102.4 509.4,104.3 509.5,104.2 509.6,104.8 509.7,105.7 509.8,106.2 509.9,107.6 510.0,108.6 510.1,106.6 510.2,105.6 510.3,103.6 510.4,101.6 510.5,101.1 510.6,99.6 510.7,98.4 510.8,97.2 510.9,96.1 511.0,95.6 511.1,93.5 511.2,93.0 511.3,92.4 511.4,90.9 511.5,90.1 511.6,90.0 511.7,90.1 511.8,88.0 511.9,86.2 512.0,86.8 512.1,88.4 512.2,88.1 512.3,87.0 512.4,85.4 512.5,84.2 512.6,83.1 512.7,83.1 512.8,81.8 512.9,80.7 513.0,79.6 513.1,80.2 513.2,79.4 513.3,79.4 513.4,77.6 513.5,79.7 513.6,78.5 513.7,78.2 513.8,78.7 513.9,77.2 514.0,75.4 514.1,76.4 514.2,78.3 514.3,78.9 514.4,80.6 514.5,80.9 514.6,81.9 514.7,83.5 514.8,83.2 514.9,84.4 515.0,85.3 515.1,84.6 515.2,84.2 515.3,82.7 515.4,81.3 515.5,80.1 515.6,80.8 515.7,79.6 515.8,78.4 515.9,78.2 516.0,76.2 516.1,76.7 516.2,75.6 516.3,76.3 516.4,75.9 516.5,74.4 516.6,75.4 516.7,76.3 516.8,75.5 516.9,73.3 517.0,72.5 517.1,74.5 517.2,75.4 517.3,76.7 517.4,76.8 517.5,78.4 517.6,79.9 517.7,80.4 517.8,81.9 517.9,82.8 518.0,82.6 518.1,86.0 518.2,90.0 518.3,94.0 518.4,98.6 518.5,102.6 518.6,101.3 518.7,98.5 518.8,98.0 518.9,95.7 519.0,95.1 519.1,95.0 519.2,93.8 519.3,91.2 519.4,90.0 519.5,90.2 519.6,90.9 519.7,93.4 519.8,95.6 519.9,95.4 520.0,97.3 520.1,99.7 520.2,101.5 520.3,101.5 520.4,103.5 520.5,105.1 520.6,103.1 520.7,100.3 520.8,99.6 520.9,97.1 521.0,97.0 521.1,95.7 521.2,94.2 521.3,92.6 521.4,89.6 521.5,87.4 521.6,88.6 521.7,89.4 521.8,87.4 521.9,88.8 522.0,89.3 522.1,88.3 522.2,88.1 522.3,88.0 522.4,88.7 522.5,89.1 522.6,89.4 522.7,90.3 522.8,90.1 522.9,88.9 523.0,90.4 523.1,91.4 523.2,92.5 523.3,94.1 523.4,96.3 523.5,97.0 523.6,98.9 523.7,101.0 523.8,103.1 523.9,104.2 524.0,107.6 524.1,109.0 524.2,110.3 524.3,109.2 524.4,110.9 524.5,113.0 524.6,112.5 524.7,113.0 524.8,112.8 524.9,113.1 525.0,114.9 525.1,117.1 525.2,115.5 525.3,117.7 525.4,118.0 525.5,121.1 525.6,121.8 525.7,121.5 525.8,123.1 525.9,123.7 526.0,124.6 526.1,127.3 526.2,129.6 526.3,133.1 526.4,135.4 526.5,139.2 526.6,137.6 526.7,135.9 526.8,135.4 526.9,132.8 527.0,130.6 527.1,130.0 527.2,128.3 527.3,127.9 527.4,126.4 527.5,124.2 527.6,128.2 527.7,133.2 527.8,137.0 527.9,141.2 528.0,145.7 528.1,145.6 528.2,144.0 528.3,142.4 528.4,139.9 528.5,141.2 528.6,140.0 528.7,138.0 528.8,138.0 528.9,137.1 529.0,135.8 529.1,134.5 529.2,133.6 529.3,133.1 529.4,133.6 529.5,130.8 529.6,130.1 529.7,130.3 529.8,129.1 529.9,127.8 530.0,127.3 530.1,126.7 530.2,125.8 530.3,125.1 530.4,123.1 530.5,120.0 530.6,120.0 530.7,120.2 530.8,118.1 530.9,116.3 531.0,114.9 531.1,114.8 531.2,113.2 531.3,111.9 531.4,111.0 531.5,110.5 531.6,108.8 531.7,106.3 531.8,104.7 531.9,103.0 532.0,103.1 532.1,104.1 532.2,104.2 532.3,104.9 532.4,106.4 532.5,108.7 532.6,109.7 532.7,110.6 532.8,112.5 532.9,114.0 533.0,115.5 533.1,116.7 533.2,118.1 533.3,119.9 533.4,120.7 533.5,123.1 533.6,125.0 533.7,125.5 533.8,125.4 533.9,126.9 534.0,129.0 534.1,131.0 534.2,131.3 534.3,132.1 534.4,133.3 534.5,135.5 534.6,135.0 534.7,137.1 534.8,138.7 534.9,141.9 535.0,143.5 535.1,141.9 535.2,140.5 535.3,139.2 535.4,138.3 535.5,136.6 535.6,136.6 535.7,134.8 535.8,133.4 535.9,131.4 536.0,130.1 536.1,129.1 536.2,127.8 536.3,127.2 536.4,124.1 536.5,122.9 536.6,119.8 536.7,119.4 536.8,118.7 536.9,117.1 537.0,116.3 537.1,115.5 537.2,113.7 537.3,113.6 537.4,111.3 537.5,111.5 537.6,111.6 537.7,110.7 537.8,109.6 537.9,108.9 538.0,107.5 538.1,106.7 538.2,105.5 538.3,106.8 538.4,106.9 538.5,105.7 538.6,104.6 538.7,104.1 538.8,104.2 538.9,103.6 539.0,104.0 539.1,104.6 539.2,105.6 539.3,104.2 539.4,102.9 539.5,102.9 539.6,103.2 539.7,103.0 539.8,101.8 539.9,101.5 540.0,101.0 540.1,101.9 540.2,104.5 540.3,106.6 540.4,108.1 540.5,108.7 540.6,110.4 540.7,112.7 540.8,114.4 540.9,117.0 541.0,119.0 541.1,119.8 541.2,119.3 541.3,120.0 541.4,123.2 541.5,124.2 541.6,125.1 541.7,126.3 541.8,128.4 541.9,131.1 542.0,132.5 542.1,129.0 542.2,127.4 542.3,126.4 542.4,124.5 542.5,124.4 542.6,122.2 542.7,120.4 542.8,118.4 542.9,115.7 543.0,114.1 543.1,113.9 543.2,113.1 543.3,112.8 543.4,113.3 543.5,111.1 543.6,112.4 543.7,109.9 543.8,108.1 543.9,108.6 544.0,106.3 544.1,106.3 544.2,106.6 544.3,106.8 544.4,105.7 544.5,105.8 544.6,105.6 544.7,104.1 544.8,103.6 544.9,103.2 545.0,104.3 545.1,104.7 545.2,105.6 545.3,106.0 545.4,105.9 545.5,107.6 545.6,109.2 545.7,111.4 545.8,114.2 545.9,114.9 546.0,115.7 546.1,116.2 546.2,116.8 546.3,117.8 546.4,117.7 546.5,117.1 546.6,118.6 546.7,118.9 546.8,120.8 546.9,121.2 547.0,122.4 547.1,120.9 547.2,121.8 547.3,120.8 547.4,119.0 547.5,119.0" fill="none" stroke="#228B22" stroke-width="2" stroke-linejoin="round" stroke-linecap="round"/>
<rect x="65.5" y="65.5" width="501.0" height="253.0" fill="none" stroke="#000" stroke-width="1"/>
<line x1="88.5" y1="318.5" x2="88.5" y2="326.5" stroke="#000" stroke-width="1"/>
<line x1="214.5" y1="318.5" x2="214.5" y2="326.5" stroke="#000" stroke-width="1"/>
<line x1="340.5" y1="318.5" x2="340.5" y2="326.5" stroke="#000" stroke-width="1"/>
<line x1="466.5" y1="318.5" x2="466.5" y2="326.5" stroke="#000" stroke-width="1"/>
<line x1="57" y1="122.5" x2="65.5" y2="122.5" stroke="#000" stroke-width="1"/>
<line x1="57" y1="197.5" x2="65.5" y2="197.5" stroke="#000" stroke-width="1"/>
<line x1="57" y1="271.5" x2="65.5" y2="271.5" stroke="#000" stroke-width="1"/>
<polyline points="682.3,204.5 682.4,197.5 682.5,194.1 682.6,193.5 682.7,196.6 682.8,199.5 682.9,200.4 683.0,192.1 683.1,194.8 683.2,203.2 683.3,202.2 683.4,201.0 683.5,204.2 683.6,195.0 683.7,194.1 683.8,197.2 683.9,194.8 684.0,194.9 684.1,201.7 684.2,198.5 684.3,191.5 684.4,198.7 684.5,203.1 684.6,198.8 684.7,195.5 684.8,201.7 684.9,194.0 685.0,197.5 685.1,196.1 685.2,202.9 685.3,201.4 685.4,195.8 685.5,190.9 685.6,198.3 685.7,193.2 685.8,203.0 685.9,199.3 686.0,198.8 686.1,199.7 686.2,196.9 686.3,198.5 686.4,197.0 686.5,199.4 686.6,192.8 686.7,197.1 686.8,199.5 686.9,198.9 687.0,201.0 687.1,202.4 687.2,195.0 687.3,190.6 687.4,200.4 687.5,197.2 687.6,196.5 687.7,202.2 687.8,195.1 687.9,194.4 688.0,201.3 688.1,199.1 688.2,195.2 688.3,196.0 688.4,194.8 688.5,193.3 688.6,195.3 688.7,194.1 688.8,196.0 688.9,204.3 689.0,197.6 689.1,191.6 689.2,188.6 689.3,193.3 689.4,197.6 689.5,198.2 689.6,196.9 689.7,196.3 689.8,200.9 689.9,201.4 690.0,202.3 690.1,198.1 690.2,196.2 690.3,197.7 690.4,199.9 690.5,197.9 690.6,198.9 690.7,200.5 690.8,200.1 690.9,199.0 691.0,204.5 691.1,195.0 691.2,198.4 691.3,204.9 691.4,200.3 691.5,197.9 691.6,200.8 691.7,202.3 691.8,194.8 691.9,195.7 692.0,200.4 692.1,197.1 692.2,191.3 692.3,199.1 692.4,198.8 692.5,192.7 692.6,194.0 692.7,201.1 692.8,202.6 692.9,198.5 693.0,190.9 693.1,203.1 693.2,197.2 693.3,200.0 693.4,198.5 693.5,197.4 693.6,193.2 693.7,197.2 693.8,194.9 693.9,197.8 694.0,194.9 694.1,196.9 694.2,196.4 694.3,201.3 694.4,197.0 694.5,202.8 694.6,199.0 694.7,201.7 694.8,195.9 694.9,192.2 695.0,190.8 695.1,199.2 695.2,199.5 695.3,204.0 695.4,194.7 695.5,201.5 695.6,194.3 695.7,200.6 695.8,190.3 695.9,195.7 696.0,201.7 696.1,195.5 696.2,201.2 696.3,202.8 696.4,198.3 696.5,202.0 696.6,199.8 696.7,196.1 696.8,189.5 696.9,197.7 697.0,202.5 697.1,198.6 697.2,207.2 697.3,201.1 697.4,199.0 697.5,198.1 697.6,193.9 697.7,196.8 697.8,196.6 697.9,195.9 698.0,196.5 698.1,196.8 698.2,201.5 698.3,193.6 698.4,199.8 698.5,208.8 698.6,195.6 698.7,200.2 698.8,203.0 699.0,204.2 699.1,193.1 699.2,197.1 699.3,196.9 699.4,192.2 699.5,196.5 699.6,194.9 699.7,196.4 699.8,202.5 699.9,192.7 700.0,199.3 700.1,202.6 700.2,205.3 700.3,203.4 700.4,199.7 700.5,195.8 700.6,197.9 700.7,199.0 700.8,192.8 700.9,202.2 701.0,194.6 701.1,204.9 701.2,201.5 701.3,199.4 701.4,197.1 701.5,187.3 701.6,199.2 701.7,200.6 701.8,198.7 701.9,196.5 702.0,199.7 702.1,194.7 702.2,198.0 702.3,201.3 702.4,195.6 702.5,195.8 702.6,198.5 702.7,198.6 702.8,197.6 702.9,200.2 703.0,195.6 703.1,195.1 703.2,197.8 703.3,194.8 703.4,193.1 703.5,196.4 703.6,195.7 703.7,199.0 703.8,201.0 703.9,193.7 704.0,196.9 704.1,197.1 704.2,198.0 704.3,200.7 704.4,196.9 704.5,193.8 704.6,197.7 704.7,198.1 704.8,195.9 704.9,198.7 705.0,197.6 705.1,201.9 705.2,195.3 705.3,202.7 705.4,199.2 705.5,209.0 705.6,191.2 705.7,196.8 705.8,195.4 705.9,194.2 706.0,194.7 706.1,200.0 706.2,201.8 706.3,194.6 706.4,198.1 706.5,202.0 706.6,201.8 706.7,200.2 706.8,195.9 706.9,200.6 707.0,200.6 707.1,198.8 707.2,203.1 707.3,194.5 707.4,204.2 707.5,199.0 707.6,197.0 707.7,190.8 707.8,196.2 707.9,202.6 708.0,197.6 708.1,204.1 708.2,199.2 708.3,194.6 708.4,194.4 708.5,190.1 708.6,194.3 708.7,192.4 708.8,201.4 708.9,189.6 709.0,198.9 709.1,200.5 709.2,195.1 709.3,196.6 709.4,208.3 709.5,192.3 709.6,200.3 709.7,202.7 709.8,203.1 709.9,193.8 710.0,198.9 710.1,194.0 710.2,190.4 710.3,201.7 710.4,200.8 710.5,198.8 710.6,195.4 710.7,207.3 710.8,196.3 710.9,194.6 711.0,201.1 711.1,200.8 711.2,195.5 711.3,206.4 711.4,205.2 711.5,189.9 711.6,199.8 711.7,199.0 711.8,194.0 711.9,197.9 712.0,198.0 712.1,203.9 712.2,200.7 712.3,223.2 712.4,200.9 712.5,175.2 712.6,197.5 712.7,197.0 712.8,196.4 712.9,198.2 713.0,197.0 713.1,200.9 713.2,195.1 713.3,204.3 713.4,197.8 713.5,200.9 713.6,190.7 713.7,206.4 713.8,193.1 713.9,199.5 714.0,194.5 714.1,191.4 714.2,199.5 714.3,201.7 714.4,196.8 714.5,199.5 714.6,196.1 714.7,199.0 714.8,191.4 714.9,191.8 715.0,191.7 715.1,198.2 715.2,198.2 715.3,200.9 715.4,192.5 715.5,201.5 715.6,198.4 715.7,201.6 715.8,198.9 715.9,204.5 716.0,196.5 716.1,197.3 716.2,197.6 716.3,194.6 716.4,199.1 716.5,200.5 716.6,197.2 716.7,203.3 716.8,197.2 716.9,204.9 717.0,202.0 717.1,194.9 717.2,205.1 717.3,206.4 717.4,208.4 717.5,196.4 717.6,207.1 717.7,193.3 717.8,197.8 717.9,201.9 718.0,204.1 718.1,204.7 718.2,198.8 718.3,202.4 718.4,203.9 718.5,191.0 718.6,203.2 718.7,198.2 718.8,196.8 718.9,198.8 719.0,200.8 719.1,205.0 719.2,195.4 719.3,200.4 719.4,193.0 719.5,201.8 719.6,199.8 719.7,200.5 719.8,195.3 719.9,203.9 720.0,214.0 720.1,194.6 720.2,206.6 720.3,199.5 720.4,194.4 720.5,195.0 720.6,194.5 720.7,193.5 720.8,195.1 720.9,203.1 721.0,195.5 721.1,204.6 721.2,200.2 721.3,196.8 721.4,199.4 721.5,199.2 721.6,190.2 721.7,195.6 721.8,197.3 721.9,192.8 722.0,197.8 722.1,201.5 722.2,199.7 722.3,198.3 722.4,196.8 722.5,184.0 722.6,196.1 722.7,203.7 722.8,201.3 722.9,198.1 723.0,196.7 723.1,206.0 723.2,200.3 723.3,188.3 723.4,194.3 723.5,202.0 723.6,200.1 723.7,199.8 723.8,201.5 723.9,200.1 724.0,202.6 724.1,190.9 724.2,195.9 724.3,198.8 724.4,200.0 724.5,199.0 724.6,198.0 724.7,207.8 724.8,199.2 724.9,196.6 725.0,199.7 725.1,204.1 725.2,203.2 725.3,201.4 725.4,191.6 725.5,195.0 725.6,201.4 725.7,198.8 725.8,191.1 725.9,197.8 726.0,190.9 726.1,198.9 726.2,197.8 726.3,200.7 726.4,197.1 726.5,195.4 726.6,195.9 726.7,195.5 726.8,193.5 726.9,198.6 727.0,200.9 727.1,193.6 727.2,197.7 727.3,205.9 727.4,199.0 727.5,199.4 727.6,203.3 727.7,193.6 727.8,197.8 727.9,196.5 728.0,199.2 728.1,188.8 728.2,205.9 728.3,198.3 728.4,200.2 728.5,199.7 728.6,199.3 728.7,202.1 728.8,202.2 728.9,199.3 729.0,202.0 729.1,199.2 729.2,192.5 729.3,196.9 729.4,206.3 729.5,205.0 729.6,190.0 729.7,199.7 729.8,201.6 729.9,194.5 730.0,197.6 730.1,203.6 730.2,196.5 730.3,197.6 730.4,198.1 730.5,199.2 730.6,193.9 730.7,202.7 730.8,195.5 730.9,188.3 731.0,194.2 731.1,202.9 731.2,193.2 731.3,188.0 731.4,192.3 731.5,195.9 731.6,196.2 731.7,195.5 731.8,192.6 731.9,199.6 732.0,192.0 732.1,196.8 732.3,197.4 732.4,197.8 732.5,198.2 732.6,200.7 732.7,201.7 732.8,200.5 732.9,197.9 733.0,191.9 733.1,195.7 733.2,202.0 733.3,196.9 733.4,207.5 733.5,203.1 733.6,192.4 733.7,205.2 733.8,198.5 733.9,200.4 734.0,211.0 734.1,197.9 734.2,206.0 734.3,203.0 734.4,200.9 734.5,194.1 734.6,191.5 734.7,197.7 734.8,200.2 734.9,195.9 735.0,203.0 735.1,205.2 735.2,196.8 735.3,199.8 735.4,202.8 735.5,203.6 735.6,200.9 735.7,197.6 735.8,194.9 735.9,192.3 736.0,195.2 736.1,202.1 736.2,202.8 736.3,195.4 736.4,204.0 736.5,192.8 736.6,200.2 736.7,202.7 736.8,197.0 736.9,194.6 737.0,183.5 737.1,197.2 737.2,199.0 737.3,203.6 737.4,188.3 737.5,203.8 737.6,201.1 737.7,196.6 737.8,195.1 737.9,200.4 738.0,196.7 738.1,194.1 738.2,196.8 738.3,195.5 738.4,193.8 738.5,196.0 738.6,194.1 738.7,202.1 738.8,194.7 738.9,203.6 739.0,193.4 739.1,192.8 739.2,201.3 739.3,201.0 739.4,196.2 739.5,192.8 739.6,194.6 739.7,198.3 739.8,199.0 739.9,202.1 740.0,200.3 740.1,187.1 740.2,202.1 740.3,197.5 740.4,194.8 740.5,193.4 740.6,193.9 740.7,198.3 740.8,191.2 740.9,204.2 741.0,184.5 741.1,197.6 741.2,197.3 741.3,214.0 741.4,200.1 741.5,196.8 741.6,196.8 741.7,195.5 741.8,194.0 741.9,195.9 742.0,194.9 742.1,199.0 742.2,195.7 742.3,197.8 742.4,201.8 742.5,199.5 742.6,197.0 742.7,194.0 742.8,199.5 742.9,207.5 743.0,206.3 743.1,205.2 743.2,199.3 743.3,203.6 743.4,185.6 743.5,191.5 743.6,204.8 743.7,203.8 743.8,211.5 743.9,202.3 744.0,198.4 744.1,198.0 744.2,201.5 744.3,194.0 744.4,199.3 744.5,203.9 744.6,194.4 744.7,192.8 744.8,189.9 744.9,203.9 745.0,193.3 745.1,186.6 745.2,195.9 745.3,195.6 745.4,197.5 745.5,194.3 745.6,204.1 745.7,186.6 745.8,186.7 745.9,197.7 746.0,193.8 746.1,195.9 746.2,204.3 746.3,201.3 746.4,199.0 746.5,206.5 746.6,203.2 746.7,200.0 746.8,195.5 746.9,202.6 747.0,194.3 747.1,200.4 747.2,193.7 747.3,193.8 747.4,197.1 747.5,203.0 747.6,199.7 747.7,198.0 747.8,200.7 747.9,201.5 748.0,192.5 748.1,206.0 748.2,197.4 748.3,198.0 748.4,204.6 748.5,192.3 748.6,199.6 748.7,189.2 748.8,193.9 748.9,193.6 749.0,190.2 749.1,199.8 749.2,192.0 749.3,197.7 749.4,194.2 749.5,198.2 749.6,197.6 749.7,195.2 749.8,193.3 749.9,197.3 750.0,202.7 750.1,191.7 750.2,192.7 750.3,195.4 750.4,203.1 750.5,198.4 750.6,195.2 750.7,213.6 750.8,196.4 750.9,208.3 751.0,206.6 751.1,201.3 751.2,199.5 751.3,200.1 751.4,198.2 751.5,199.6 751.6,199.1 751.7,199.7 751.8,196.5 751.9,201.0 752.0,198.3 752.1,188.1 752.2,185.9 752.3,196.4 752.4,195.1 752.5,191.9 752.6,202.6 752.7,206.5 752.8,200.7 752.9,213.1 753.0,198.4 753.1,193.1 753.2,209.4 753.3,191.6 753.4,192.6 753.5,187.1 753.6,198.7 753.7,206.8 753.8,188.2 753.9,191.3 754.0,152.0 754.1,195.2 754.2,232.2 754.3,194.5 754.4,196.1 754.5,194.2 754.6,204.6 754.7,197.2 754.8,182.2 754.9,194.2 755.0,200.5 755.1,194.6 755.2,193.4 755.3,195.9 755.4,202.8 755.5,198.9 755.6,198.3 755.7,198.7 755.8,198.2 755.9,198.3 756.0,199.7 756.1,202.9 756.2,194.6 756.3,195.1 756.4,212.7 756.5,194.7 756.6,206.3 756.7,194.0 756.8,181.1 756.9,205.6 757.0,212.9 757.1,195.8 757.2,218.6 757.3,175.7 757.4,206.5 757.5,211.0 757.6,201.0 757.7,198.2 757.8,188.5 757.9,202.6 758.0,190.0 758.1,190.4 758.2,203.3 758.3,193.3 758.4,186.2 758.5,211.6 758.6,193.7 758.7,213.1 758.8,191.8 758.9,195.0 759.0,213.4 759.1,207.3 759.2,202.7 759.3,188.7 759.4,194.0 759.5,199.3 759.6,187.4 759.7,217.5 759.8,209.3 759.9,202.9 760.0,182.3 760.1,181.7 760.2,200.6 760.3,205.0 760.4,191.9 760.5,211.9 760.6,202.2 760.7,216.2 760.8,196.3 760.9,210.2 761.0,198.1 761.1,189.5 761.2,202.6 761.3,207.0 761.4,197.4 761.5,195.4 761.6,197.1 761.7,194.2 761.8,201.1 761.9,195.6 762.0,193.9 762.1,185.0 762.2,208.6 762.3,201.2 762.4,191.0 762.5,197.0 762.6,204.9 762.7,204.3 762.8,203.9 762.9,194.7 763.0,201.4 763.1,204.4 763.2,204.5 763.3,187.3 763.4,198.4 763.5,198.0 763.6,201.5 763.7,197.5 763.8,193.3 763.9,198.8 764.0,203.1 764.1,183.2 764.2,206.6 764.3,194.8 764.4,203.2 764.5,197.2 764.6,211.1 764.7,194.4 764.8,204.3 764.9,211.4 765.0,169.2 765.1,184.7 765.2,208.1 765.3,225.5 765.5,210.4 765.6,196.6 765.7,193.4 765.8,199.8 765.9,220.0 766.0,196.1 766.1,200.1 766.2,177.4 766.3,189.7 766.4,197.4 766.5,205.0 766.6,193.2 766.7,196.0 766.8,205.4 766.9,204.2 767.0,206.1 767.1,191.8 767.2,203.5 767.3,190.3 767.4,207.9 767.5,194.5 767.6,198.9 767.7,185.5 767.8,194.6 767.9,203.3 768.0,190.7 768.1,201.2 768.2,198.8 768.3,186.6 768.4,204.6 768.5,178.0 768.6,193.7 768.7,225.5 768.8,189.0 768.9,212.0 769.0,190.4 769.1,203.5 769.2,197.7 769.3,198.8 769.4,190.3 769.5,184.4 769.6,185.8 769.7,190.4 769.8,195.2 769.9,188.7 770.0,196.2 770.1,189.5 770.2,182.8 770.3,202.5 770.4,199.4 770.5,210.7 770.6,191.4 770.7,202.5 770.8,204.9 770.9,209.9 771.0,197.3 771.1,196.4 771.2,207.4 771.3,194.5 771.4,190.7 771.5,205.8 771.6,198.3 771.7,190.2 771.8,202.6 771.9,194.0 772.0,174.0 772.1,185.4 772.2,211.4 772.3,199.3 772.4,198.3 772.5,201.1 772.6,208.9 772.7,187.3 772.8,195.2 772.9,201.1 773.0,211.5 773.1,199.5 773.2,194.0 773.3,196.7 773.4,200.3 773.5,212.3 773.6,196.0 773.7,208.6 773.8,206.4 773.9,199.2 774.0,217.6 774.1,215.8 774.2,213.2 774.3,195.9 774.4,203.6 774.5,174.5 774.6,182.2 774.7,198.2 774.8,205.3 774.9,198.2 775.0,206.6 775.1,192.1 775.2,206.8 775.3,199.2 775.4,196.5 775.5,200.7 775.6,201.3 775.7,199.6 775.8,200.9 775.9,206.0 776.0,186.5 776.1,206.2 776.2,196.1 776.3,196.0 776.4,193.6 776.5,203.8 776.6,192.9 776.7,187.4 776.8,195.0 776.9,193.9 777.0,168.0 777.1,189.2 777.2,209.6 777.3,190.2 777.4,209.3 777.5,203.9 777.6,188.4 777.7,197.2 777.8,189.9 777.9,201.5 778.0,191.2 778.1,211.3 778.2,197.0 778.3,200.8 778.4,205.5 778.5,187.9 778.6,194.0 778.7,194.1 778.8,212.5 778.9,196.5 779.0,206.2 779.1,194.3 779.2,190.1 779.3,205.3 779.4,203.0 779.5,193.6 779.6,213.0 779.7,200.6 779.8,214.5 779.9,189.6 780.0,188.5 780.1,197.5 780.2,202.0 780.3,187.4 780.4,203.7 780.5,187.2 780.6,188.2 780.7,200.6 780.8,192.8 780.9,220.1 781.0,191.0 781.1,195.5 781.2,181.7 781.3,203.0 781.4,205.9 781.5,111.8 781.6,192.8 781.7,199.0 781.8,267.0 781.9,193.6 782.0,205.3 782.1,181.5 782.2,201.1 782.3,182.7 782.4,201.2 782.5,224.3 782.6,182.8 782.7,185.6 782.8,74.0 782.9,213.0 783.0,211.8 783.1,172.8 783.2,229.7 783.3,210.2 783.4,196.9 783.5,229.5 783.6,195.1 783.7,183.4 783.8,197.7 783.9,169.2 784.0,243.1 784.1,184.0 784.2,159.0 784.3,199.3 784.4,202.7 784.5,262.0 784.6,195.3 784.7,184.5 784.8,248.4 784.9,247.7 785.0,215.7 785.1,183.5 785.2,153.6 785.3,169.1 785.4,185.3 785.5,183.8 785.6,210.6 785.7,192.0 785.8,209.3 785.9,174.9 786.0,203.7 786.1,191.1 786.2,227.1 786.3,196.5 786.4,248.9 786.5,167.7 786.6,215.4 786.7,158.4 786.8,232.0 786.9,157.6 787.0,186.2 787.1,187.1 787.2,187.2 787.3,224.7 787.4,228.2 787.5,173.0 787.6,217.6 787.7,223.9 787.8,178.2 787.9,185.1 788.0,181.7 788.1,199.5 788.2,183.4 788.3,197.3 788.4,191.8 788.5,213.3 788.6,199.3 788.7,208.2 788.8,193.8 788.9,199.1 789.0,186.3 789.1,202.1 789.2,196.1 789.3,175.6 789.4,184.5 789.5,188.4 789.6,183.3 789.7,191.3 789.8,195.3 789.9,191.4 790.0,202.5 790.1,212.6 790.2,191.6 790.3,183.5 790.4,189.4 790.5,181.1 790.6,195.0 790.7,160.6 790.8,204.8 790.9,207.2 791.0,186.0 791.1,176.9 791.2,190.9 791.3,190.2 791.4,208.8 791.5,208.0 791.6,204.4 791.7,210.7 791.8,210.6 791.9,195.8 792.0,275.4 792.1,205.1 792.2,188.8 792.3,173.2 792.4,213.2 792.5,200.6 792.6,262.0 792.7,186.8 792.8,173.6 792.9,202.4 793.0,122.0 793.1,196.6 793.2,211.5 793.3,200.8 793.4,197.9 793.5,194.5 793.6,192.5 793.7,192.1 793.8,222.7 793.9,196.5 794.0,140.0 794.1,202.2 794.2,208.0 794.3,207.1 794.4,202.5 794.5,209.7 794.6,198.2 794.7,199.0 794.8,208.7 794.9,202.1 795.0,207.3 795.1,194.7 795.2,191.9 795.3,208.3 795.4,205.3 795.5,183.0 795.6,190.8 795.7,205.5 795.8,220.4 795.9,193.2 796.0,172.2 796.1,193.1 796.2,223.1 796.3,212.6 796.4,187.8 796.5,192.0 796.6,189.9 796.7,217.8 796.8,182.0 796.9,195.0 797.0,209.1 797.1,212.2 797.2,214.6 797.3,191.2 797.4,213.1 797.5,179.1 797.6,179.3 797.7,185.3 797.8,188.3 797.9,178.7 798.0,195.6 798.1,201.3 798.2,183.1 798.3,186.4 798.4,202.4 798.5,207.9 798.7,194.1 798.8,187.8 798.9,194.5 799.0,195.7 799.1,186.8 799.2,190.0 799.3,191.4 799.4,195.1 799.5,211.9 799.6,183.6 799.7,217.5 799.8,219.4 799.9,181.9 800.0,198.4 800.1,197.3 800.2,207.5 800.3,190.4 800.4,192.8 800.5,188.7 800.6,204.9 800.7,201.6 800.8,194.4 800.9,202.7 801.0,193.3 801.1,212.1 801.2,180.5 801.3,201.3 801.4,191.0 801.5,208.0 801.6,203.5 801.7,205.7 801.8,210.7 801.9,198.3 802.0,208.3 802.1,196.4 802.2,182.9 802.3,199.8 802.4,216.6 802.5,215.7 802.6,216.9 802.7,192.8 802.8,192.4 802.9,195.0 803.0,219.3 803.1,206.4 803.2,186.4 803.3,205.6 803.4,204.7 803.5,207.9 803.6,193.1 803.7,197.0 803.8,198.3 803.9,197.0 804.0,206.0 804.1,212.5 804.2,200.2 804.3,199.0 804.4,207.8 804.5,189.2 804.6,183.3 804.7,192.9 804.8,205.6 804.9,193.0 805.0,200.2 805.1,190.3 805.2,211.3 805.3,200.7 805.4,200.6 805.5,194.2 805.6,202.6 805.7,187.1 805.8,195.8 805.9,202.9 806.0,191.3 806.1,192.6 806.2,195.4 806.3,198.4 806.4,197.9 806.5,167.0 806.6,206.4 806.7,189.5 806.8,203.6 806.9,197.2 807.0,201.6 807.1,205.4 807.2,202.7 807.3,204.6 807.4,197.3 807.5,191.7 807.6,198.6 807.7,182.3 807.8,186.0 807.9,202.9 808.0,188.4 808.1,196.2 808.2,191.0 808.3,191.4 808.4,189.5 808.5,206.8 808.6,208.4 808.7,198.9 808.8,202.6 808.9,183.0 809.0,206.3 809.1,187.1 809.2,197.4 809.3,205.3 809.4,200.8 809.5,199.4 809.6,189.4 809.7,194.0 809.8,202.5 809.9,188.8 810.0,227.0 810.1,197.4 810.2,190.8 810.3,192.1 810.4,205.9 810.5,205.4 810.6,194.6 810.7,198.7 810.8,189.3 810.9,194.3 811.0,178.9 811.1,192.0 811.2,202.0 811.3,214.9 811.4,205.0 811.5,190.0 811.6,207.3 811.7,203.9 811.8,194.1 811.9,191.8 812.0,200.7 812.1,196.3 812.2,182.6 812.3,199.3 812.4,205.7 812.5,194.9 812.6,195.4 812.7,189.6 812.8,194.6 812.9,194.8 813.0,196.9 813.1,196.0 813.2,197.7 813.3,185.5 813.4,193.2 813.5,193.1 813.6,192.3 813.7,196.1 813.8,211.0 813.9,200.0 814.0,198.5 814.1,203.2 814.2,202.0 814.3,198.1 814.4,207.6 814.5,200.4 814.6,185.5 814.7,196.3 814.8,199.4 814.9,196.7 815.0,233.0 815.1,207.0 815.2,209.7 815.3,203.2 815.4,204.3 815.5,194.3 815.6,194.0 815.7,193.8 815.8,202.6 815.9,200.1 816.0,205.5 816.1,196.4 816.2,203.0 816.3,194.6 816.4,196.2 816.5,202.0 816.6,198.2 816.7,199.9 816.8,199.6 816.9,183.9 817.0,201.1 817.1,200.8 817.2,196.7 817.3,191.5 817.4,196.7 817.5,197.2 817.6,212.9 817.7,205.2 817.8,198.8 817.9,202.4 818.0,202.1 818.1,201.2 818.2,202.0 818.3,195.5 818.4,199.6 818.5,194.3 818.6,204.8 818.7,203.1 818.8,203.4 818.9,195.5 819.0,204.9 819.1,204.8 819.2,191.0 819.3,193.9 819.4,188.7 819.5,195.6 819.6,201.1 819.7,194.5 819.8,194.2 819.9,196.7 820.0,193.0 820.1,192.8 820.2,202.4 820.3,192.7 820.4,209.8 820.5,203.3 820.6,191.5 820.7,205.9 820.8,200.0 820.9,204.7 821.0,201.5 821.1,196.2 821.2,200.0 821.3,208.2 821.4,203.0 821.5,192.7 821.6,208.0 821.7,204.7 821.8,195.8 821.9,192.2 822.0,193.1 822.1,197.7 822.2,201.1 822.3,207.2 822.4,189.7 822.5,222.7 822.6,198.6 822.7,198.9 822.8,173.8 822.9,197.9 823.0,162.6 823.1,199.8 823.2,199.8 823.3,249.0 823.4,212.8 823.5,207.1 823.6,189.0 823.7,215.8 823.8,205.6 823.9,218.1 824.0,202.3 824.1,192.8 824.2,207.7 824.3,201.6 824.4,184.5 824.5,196.6 824.6,195.8 824.7,206.4 824.8,206.4 824.9,186.7 825.0,186.8 825.1,183.7 825.2,185.9 825.3,193.9 825.4,190.3 825.5,183.3 825.6,186.3 825.7,193.4 825.8,201.3 825.9,188.1 826.0,208.2 826.1,206.0 826.2,190.1 826.3,208.7 826.4,213.8 826.5,186.1 826.6,224.1 826.7,191.2 826.8,182.9 826.9,218.6 827.0,203.9 827.1,185.7 827.2,202.3 827.3,201.4 827.4,216.7 827.5,197.3 827.6,203.4 827.7,189.9 827.8,183.6 827.9,198.4 828.0,191.1 828.1,208.9 828.2,202.5 828.3,223.8 828.4,198.0 828.5,194.9 828.6,191.0 828.7,206.6 828.8,178.4 828.9,213.6 829.0,227.0 829.1,206.9 829.2,222.2 829.3,192.2 829.4,195.2 829.5,197.0 829.6,203.8 829.7,193.6 829.8,205.1 829.9,193.2 830.0,203.7 830.1,206.0 830.2,189.0 830.3,195.9 830.4,199.9 830.5,190.3 830.6,201.2 830.7,189.5 830.8,200.1 830.9,197.3 831.0,193.5 831.1,201.5 831.2,202.7 831.3,209.3 831.4,200.0 831.5,200.6 831.6,196.1 831.7,202.0 831.8,195.4 832.0,189.0 832.1,193.1 832.2,199.8 832.3,198.6 832.4,204.4 832.5,209.8 832.6,198.0 832.7,205.8 832.8,197.1 832.9,198.3 833.0,200.5 833.1,203.0 833.2,198.2 833.3,192.9 833.4,199.1 833.5,197.9 833.6,197.5 833.7,202.5 833.8,192.5 833.9,202.1 834.0,196.8 834.1,200.3 834.2,200.2 834.3,199.9 834.4,198.5 834.5,205.6 834.6,200.7 834.7,198.2 834.8,197.5 834.9,188.1 835.0,198.9 835.1,199.8 835.2,196.7 835.3,193.1 835.4,198.9 835.5,202.0 835.6,190.6 835.7,199.9 835.8,192.2 835.9,196.0 836.0,204.7 836.1,198.1 836.2,198.7 836.3,204.3 836.4,200.5 836.5,197.7 836.6,200.8 836.7,199.0 836.8,190.4 836.9,192.3 837.0,193.8 837.1,198.6 837.2,200.5 837.3,203.2 837.4,198.3 837.5,194.0 837.6,188.7 837.7,190.7 837.8,199.6 837.9,194.4 838.0,229.0 838.1,195.8 838.2,194.6 838.3,194.5 838.4,196.4 838.5,199.0 838.6,198.0 838.7,198.1 838.8,193.0 838.9,203.0 839.0,202.7 839.1,199.4 839.2,195.1 839.3,201.0 839.4,197.4 839.5,200.6 839.6,193.9 839.7,197.6 839.8,208.6 839.9,193.5 840.0,198.4 840.1,195.3 840.2,192.5 840.3,195.6 840.4,195.5 840.5,197.0 840.6,198.3 840.7,197.6 840.8,188.1 840.9,200.1 841.0,200.2 841.1,190.4 841.2,189.9 841.3,194.6 841.4,197.3 841.5,198.7 841.6,199.9 841.7,202.6 841.8,194.0 841.9,198.8 842.0,196.3 842.1,197.7 842.2,201.6 842.3,191.9 842.4,196.2 842.5,194.7 842.6,204.6 842.7,196.1 842.8,198.3 842.9,203.8 843.0,198.3 843.1,203.8 843.2,193.0 843.3,196.6 843.4,203.8 843.5,199.9 843.6,197.4 843.7,197.0 843.8,196.5 843.9,193.0 844.0,202.0 844.1,201.8 844.2,198.1 844.3,198.6 844.4,195.4 844.5,194.9 844.6,204.3 844.7,201.7 844.8,196.2 844.9,207.6 845.0,195.6 845.1,194.4 845.2,195.2 845.3,205.2 845.4,190.1 845.5,199.8 845.6,202.7 845.7,202.3 845.8,206.4 845.9,204.1 846.0,197.5 846.1,193.3 846.2,201.1 846.3,196.1 846.4,194.1 846.5,192.0 846.6,198.4 846.7,191.6 846.8,201.9 846.9,193.1 847.0,196.6 847.1,198.6 847.2,194.9 847.3,199.2 847.4,202.6 847.5,203.9 847.6,199.9 847.7,200.4 847.8,198.2 847.9,201.7 848.0,193.6 848.1,200.1 848.2,196.2 848.3,196.0 848.4,199.4 848.5,194.9 848.6,198.1 848.7,197.3 848.8,203.6 848.9,198.6 849.0,198.6 849.1,199.0 849.2,200.5 849.3,197.8 849.4,193.8 849.5,201.0 849.6,204.9 849.7,202.9 849.8,203.4 849.9,194.6 850.0,195.7 850.1,204.1 850.2,202.2 850.3,186.8 850.4,193.7 850.5,199.2 850.6,196.6 850.7,192.9 850.8,191.3 850.9,193.9 851.0,193.0 851.1,197.5 851.2,202.1 851.3,198.1 851.4,193.1 851.5,195.9 851.6,200.9 851.7,201.5 851.8,196.4 851.9,203.8 852.0,195.8 852.1,196.1 852.2,194.5 852.3,204.9 852.4,203.4 852.5,198.3 852.6,194.9 852.7,197.6 852.8,197.2 852.9,200.2 853.0,189.2 853.1,199.6 853.2,196.5 853.3,196.2 853.4,198.7 853.5,199.0 853.6,210.4 853.7,208.3 853.8,215.0 853.9,208.9 854.0,166.0 854.1,190.1 854.2,193.4 854.3,258.0 854.4,178.3 854.5,178.4 854.6,208.8 854.7,199.5 854.8,186.7 854.9,203.5 855.0,200.3 855.1,202.4 855.2,211.0 855.3,210.9 855.4,224.7 855.5,203.3 855.6,198.5 855.7,198.6 855.8,212.5 855.9,218.2 856.0,206.6 856.1,199.2 856.2,188.9 856.3,195.5 856.4,197.1 856.5,192.7 856.6,204.1 856.7,179.5 856.8,174.5 856.9,201.8 857.0,205.1 857.1,204.3 857.2,194.3 857.3,192.6 857.4,207.5 857.5,199.6 857.6,207.1 857.7,198.6 857.8,204.4 857.9,195.3 858.0,202.6 858.1,207.0 858.2,214.7 858.3,210.6 858.4,187.7 858.5,190.7 858.6,198.3 858.7,218.4 858.8,200.8 858.9,203.4 859.0,192.8 859.1,202.9 859.2,189.7 859.3,200.3 859.4,222.6 859.5,203.5 859.6,181.7 859.7,212.8 859.8,189.1 859.9,190.9 860.0,192.3 860.1,204.3 860.2,203.8 860.3,192.3 860.4,176.7 860.5,209.0 860.6,196.3 860.7,192.6 860.8,198.5 860.9,201.0 861.0,194.8 861.1,177.6 861.2,196.2 861.3,203.2 861.4,204.1 861.5,214.3 861.6,195.9 861.7,185.7 861.8,196.0 861.9,201.0 862.0,198.6 862.1,189.7 862.2,192.7 862.3,191.4 862.4,189.2 862.5,196.0 862.6,198.4 862.7,204.6 862.8,202.0 862.9,194.8 863.0,186.2 863.1,213.4 863.2,185.0 863.3,198.7 863.4,206.1 863.5,188.6 863.6,194.4 863.7,198.4 863.8,202.0 863.9,202.3 864.0,190.0 864.1,203.2 864.2,196.6 864.3,186.7 864.4,197.3 864.5,200.3 864.6,199.9 864.7,208.9 864.8,201.1 864.9,195.4 865.0,207.1 865.2,193.2 865.3,194.2 865.4,198.5 865.5,201.5 865.6,188.7 865.7,201.9 865.8,191.2 865.9,195.3 866.0,196.4 866.1,200.2 866.2,197.4 866.3,201.6 866.4,195.0 866.5,198.6 866.6,187.5 866.7,188.1 866.8,194.3 866.9,210.1 867.0,194.9 867.1,191.8 867.2,193.0 867.3,191.1 867.4,195.5 867.5,196.9 867.6,196.9 867.7,198.0 867.8,199.8 867.9,199.8 868.0,201.4 868.1,193.3 868.2,193.4 868.3,199.5 868.4,194.2 868.5,194.7 868.6,191.7 868.7,187.1 868.8,207.1 868.9,209.4 869.0,197.4 869.1,187.2 869.2,198.3 869.3,203.6 869.4,196.6 869.5,202.3 869.6,198.6 869.7,191.5 869.8,201.3 869.9,208.7 870.0,196.3 870.1,199.9 870.2,204.3 870.3,209.5 870.4,193.7 870.5,189.0 870.6,192.8 870.7,192.1 870.8,189.7 870.9,198.6 871.0,190.3 871.1,200.6 871.2,196.1 871.3,199.3 871.4,189.1 871.5,190.5 871.6,189.4 871.7,191.0 871.8,201.8 871.9,198.2 872.0,200.8 872.1,194.4 872.2,197.6 872.3,192.4 872.4,195.0 872.5,197.7 872.6,206.2 872.7,190.0 872.8,199.1 872.9,191.8 873.0,199.1 873.1,196.7 873.2,205.4 873.3,201.5 873.4,194.8 873.5,195.4 873.6,195.9 873.7,191.9 873.8,199.3 873.9,204.4 874.0,205.5 874.1,198.2 874.2,194.8 874.3,213.5 874.4,192.3 874.5,200.1 874.6,195.8 874.7,197.5 874.8,187.5 874.9,194.9 875.0,198.0 875.1,192.6 875.2,196.6 875.3,194.3 875.4,201.4 875.5,199.1 875.6,191.7 875.7,195.5 875.8,196.0 875.9,200.7 876.0,204.9 876.1,207.0 876.2,194.3 876.3,198.4 876.4,204.7 876.5,206.9 876.6,193.2 876.7,195.4 876.8,206.5 876.9,187.9 877.0,194.8 877.1,199.2 877.2,192.9 877.3,201.8 877.4,191.9 877.5,199.1 877.6,195.8 877.7,189.3 877.8,197.3 877.9,198.6 878.0,202.7 878.1,194.1 878.2,201.7 878.3,200.6 878.4,192.8 878.5,194.4 878.6,200.8 878.7,184.4 878.8,199.2 878.9,202.3 879.0,198.7 879.1,194.6 879.2,194.1 879.3,194.7 879.4,205.1 879.5,199.1 879.6,199.4 879.7,203.6 879.8,187.5 879.9,201.9 880.0,195.4 880.1,190.3 880.2,201.7 880.3,200.4 880.4,199.3 880.5,194.2 880.6,192.4 880.7,201.1 880.8,196.4 880.9,208.5 881.0,196.7 881.1,197.0 881.2,198.1 881.3,196.8 881.4,201.4 881.5,200.1 881.6,189.2 881.7,206.3 881.8,203.3 881.9,200.7 882.0,202.9 882.1,198.7 882.2,200.6 882.3,192.8 882.4,190.7 882.5,204.1 882.6,193.5 882.7,201.4 882.8,201.0 882.9,202.4 883.0,198.9 883.1,196.4 883.2,195.7 883.3,196.4 883.4,206.1 883.5,194.7 883.6,202.8 883.7,200.4 883.8,204.1 883.9,192.9 884.0,195.3 884.1,199.8 884.2,194.5 884.3,190.0 884.4,206.8 884.5,195.8 884.6,193.5 884.7,207.8 884.8,193.1 884.9,199.6 885.0,202.4 885.1,199.2 885.2,204.4 885.3,200.4 885.4,198.4 885.5,202.0 885.6,204.1 885.7,216.0 885.8,200.0 885.9,202.9 886.0,182.0 886.1,196.3 886.2,199.0 886.3,189.7 886.4,199.4 886.5,189.1 886.6,202.1 886.7,196.2 886.8,191.3 886.9,197.1 887.0,205.6 887.1,192.4 887.2,200.8 887.3,208.9 887.4,195.6 887.5,197.9 887.6,200.0 887.7,199.6 887.8,198.7 887.9,203.6 888.0,196.6 888.1,195.1 888.2,199.8 888.3,197.0 888.4,197.8 888.5,195.5 888.6,197.9 888.7,205.4 888.8,193.8 888.9,195.5 889.0,194.1 889.1,194.9 889.2,199.9 889.3,196.5 889.4,202.0 889.5,204.4 889.6,201.0 889.7,190.4 889.8,197.4 889.9,197.4 890.0,198.4 890.1,202.9 890.2,196.1 890.3,196.6 890.4,195.6 890.5,201.7 890.6,199.1 890.7,201.4 890.8,196.2 890.9,201.4 891.0,193.9 891.1,198.1 891.2,191.8 891.3,197.2 891.4,203.2 891.5,200.7 891.6,198.6 891.7,205.5 891.8,201.5 891.9,197.9 892.0,195.2 892.1,200.4 892.2,197.2 892.3,200.0 892.4,193.7 892.5,192.2 892.6,196.4 892.7,198.5 892.8,191.1 892.9,202.6 893.0,202.0 893.1,205.3 893.2,192.2 893.3,199.9 893.4,198.8 893.5,199.2 893.6,194.0 893.7,194.2 893.8,196.9 893.9,206.8 894.0,199.4 894.1,194.0 894.2,198.8 894.3,200.6 894.4,203.7 894.5,195.6 894.6,202.9 894.7,196.7 894.8,191.9 894.9,196.6 895.0,194.1 895.1,196.1 895.2,197.5 895.3,203.4 895.4,202.9 895.5,200.5 895.6,195.0 895.7,199.0 895.8,193.0 895.9,198.9 896.0,206.7 896.1,196.1 896.2,201.2 896.3,195.7 896.4,193.5 896.5,194.8 896.6,198.9 896.7,190.6 896.8,191.4 896.9,192.4 897.0,199.6 897.1,205.5 897.2,195.6 897.3,202.2 897.4,198.1 897.5,195.6 897.6,202.0 897.7,197.0 897.8,190.5 897.9,193.0 898.0,197.8 898.1,203.5 898.2,196.4 898.4,198.8 898.5,196.4 898.6,200.9 898.7,197.9 898.8,192.1 898.9,198.8 899.0,191.4 899.1,203.4 899.2,199.3 899.3,197.0 899.4,200.4 899.5,203.9 899.6,204.0 899.7,192.8 899.8,200.7 899.9,204.0 900.0,192.0 900.1,200.5 900.2,184.9 900.3,194.9 900.4,195.1 900.5,201.5 900.6,194.1 900.7,201.0 900.8,201.9 900.9,198.0 901.0,196.4 901.1,193.4 901.2,201.4 901.3,207.0 901.4,196.8 901.5,205.1 901.6,198.8 901.7,200.2 901.8,198.6 901.9,198.6 902.0,204.5 902.1,196.6 902.2,194.0 902.3,187.8 902.4,209.4 902.5,197.1 902.6,195.8 902.7,200.9 902.8,200.2 902.9,196.1 903.0,197.9 903.1,197.2 903.2,199.3 903.3,195.4 903.4,189.0 903.5,191.9 903.6,202.9 903.7,195.4 903.8,192.0 903.9,207.7 904.0,199.4 904.1,196.0 904.2,195.7 904.3,195.0 904.4,198.2 904.5,198.3 904.6,197.7 904.7,190.6 904.8,198.9 904.9,203.6 905.0,198.8 905.1,195.3 905.2,197.5 905.3,203.9 905.4,199.5 905.5,195.6 905.6,208.1 905.7,197.7 905.8,199.3 905.9,193.4 906.0,198.0 906.1,194.6 906.2,199.9 906.3,196.3 906.4,200.8 906.5,197.5 906.6,200.2 906.7,194.7 906.8,205.4 906.9,193.1 907.0,194.9 907.1,195.9 907.2,200.7 907.3,195.6 907.4,199.6 907.5,196.9 907.6,196.0 907.7,200.1 907.8,193.7 907.9,187.1 908.0,193.8 908.1,201.6 908.2,198.4 908.3,197.5 908.4,197.8 908.5,197.4 908.6,204.4 908.7,199.7 908.8,203.1 908.9,201.2 909.0,199.0 909.1,206.7 909.2,200.6 909.3,201.4 909.4,199.9 909.5,197.1 909.6,204.2 909.7,191.5 909.8,197.4 909.9,198.2 910.0,200.3 910.1,195.7 910.2,196.7 910.3,192.2 910.4,193.8 910.5,187.8 910.6,200.3 910.7,201.3 910.8,190.4 910.9,200.4 911.0,202.9 911.1,202.3 911.2,199.6 911.3,195.4 911.4,195.8 911.5,190.8 911.6,196.4 911.7,195.9 911.8,206.2 911.9,203.5 912.0,189.6 912.1,207.3 912.2,195.0 912.3,203.8 912.4,198.9 912.5,199.2 912.6,200.1 912.7,192.9 912.8,194.4 912.9,196.2 913.0,193.3 913.1,190.9 913.2,201.6 913.3,203.2 913.4,205.8 913.5,195.9 913.6,195.3 913.7,199.5 913.8,204.0 913.9,204.2 914.0,197.1 914.1,204.6 914.2,200.6 914.3,190.8 914.4,196.6 914.5,203.6 914.6,201.3 914.7,199.9 914.8,204.7 914.9,203.9 915.0,196.4 915.1,195.4 915.2,202.4 915.3,199.6 915.4,193.6 915.5,196.6 915.6,193.9 915.7,195.9 915.8,190.4 915.9,198.3 916.0,183.6 916.1,202.0 916.2,200.7 916.3,204.3 916.4,194.1 916.5,191.9 916.6,197.1 916.7,206.9 916.8,201.3 916.9,203.0 917.0,205.5 917.1,195.3 917.2,204.6 917.3,199.8 917.4,201.1 917.5,197.9 917.6,202.3 917.7,201.1 917.8,198.3 917.9,203.4 918.0,195.7 918.1,199.1 918.2,186.9 918.3,197.2 918.4,198.7 918.5,202.0 918.6,202.8 918.7,204.3 918.8,202.1 918.9,197.7 919.0,198.0 919.1,200.5 919.2,196.8 919.3,200.7 919.4,196.3 919.5,205.1 919.6,199.2 919.7,203.1 919.8,195.4 919.9,199.0 920.0,194.2 920.1,195.9 920.2,198.9 920.3,199.2 920.4,194.1 920.5,195.6 920.6,203.8 920.7,196.0 920.8,204.5 920.9,203.5 921.0,198.5 921.1,198.9 921.2,202.3 921.3,201.2 921.4,205.8 921.5,201.1 921.6,200.6 921.7,193.5 921.8,200.7 921.9,195.9 922.0,203.9 922.1,192.7 922.2,201.2 922.3,198.4 922.4,199.3 922.5,200.0 922.6,201.5 922.7,199.3 922.8,194.7 922.9,196.4 923.0,196.6 923.1,198.0 923.2,199.3 923.3,201.1 923.4,202.0 923.5,199.4 923.6,197.9 923.7,203.6 923.8,200.7 923.9,196.4 924.0,201.9 924.1,203.9 924.2,200.8 924.3,201.4 924.4,197.7 924.5,206.1 924.6,197.7 924.7,191.5 924.8,203.3 924.9,194.7 925.0,198.5 925.1,195.7 925.2,197.5 925.3,196.0 925.4,201.4 925.5,201.6 925.6,200.2 925.7,197.4 925.8,198.4 925.9,190.3 926.0,192.7 926.1,201.5 926.2,187.3 926.3,201.7 926.4,189.5 926.5,192.4 926.6,193.9 926.7,201.4 926.8,206.5 926.9,199.1 927.0,202.0 927.1,191.3 927.2,195.5 927.3,199.9 927.4,196.7 927.5,194.4 927.6,193.8 927.7,196.7 927.8,197.7 927.9,206.7 928.0,194.6 928.1,202.4 928.2,205.6 928.3,202.6 928.4,199.8 928.5,206.9 928.6,207.8 928.7,195.7 928.8,194.8 928.9,194.7 929.0,200.2 929.1,202.0 929.2,204.5 929.3,205.9 929.4,221.5 929.5,196.0 929.6,207.3 929.7,196.6 929.8,196.3 929.9,196.5 930.0,195.9 930.1,201.7 930.2,195.1 930.3,199.3 930.4,205.4 930.5,201.2 930.6,195.3 930.7,194.7 930.8,192.0 930.9,207.2 931.0,205.6 931.1,195.9 931.2,202.3 931.3,193.4 931.4,192.3 931.5,200.1 931.7,197.8 931.8,205.4 931.9,198.8 932.0,198.5 932.1,198.1 932.2,194.7 932.3,186.2 932.4,198.2 932.5,196.4 932.6,193.3 932.7,205.0 932.8,199.7 932.9,196.3 933.0,199.5 933.1,201.4 933.2,197.7 933.3,190.6 933.4,193.8 933.5,196.0 933.6,192.4 933.7,201.7 933.8,201.5 933.9,200.5 934.0,217.0 934.1,198.2 934.2,198.9 934.3,190.6 934.4,205.0 934.5,211.2 934.6,197.0 934.7,185.3 934.8,193.4 934.9,201.5 935.0,177.0 935.1,197.7 935.2,194.4 935.3,191.4 935.4,200.0 935.5,189.6 935.6,197.5 935.7,196.7 935.8,197.6 935.9,188.5 936.0,201.1 936.1,196.1 936.2,191.4 936.3,199.4 936.4,194.2 936.5,197.1 936.6,183.9 936.7,192.2 936.8,202.0 936.9,203.4 937.0,194.0 937.1,189.0 937.2,201.2 937.3,212.0 937.4,204.5 937.5,201.2 937.6,195.0 937.7,189.0 937.8,199.2 937.9,200.5 938.0,201.9 938.1,195.7 938.2,199.8 938.3,187.9 938.4,203.1 938.5,201.6 938.6,196.6 938.7,202.5 938.8,174.0 938.9,208.1 939.0,199.1 939.1,204.5 939.2,205.5 939.3,189.2 939.4,193.2 939.5,203.2 939.6,206.3 939.7,218.5 939.8,206.3 939.9,204.9 940.0,192.9 940.1,196.7 940.2,193.1 940.3,191.6 940.4,197.4 940.5,201.9 940.6,203.5 940.7,202.2 940.8,204.6 940.9,199.4 941.0,204.4 941.1,193.6 941.2,188.8 941.3,187.0 941.4,202.7 941.5,212.0 941.6,197.0 941.7,195.5 941.8,189.4 941.9,198.2 942.0,193.2 942.1,195.0 942.2,198.5 942.3,192.7 942.4,197.8 942.5,198.3 942.6,193.3 942.7,197.4 942.8,187.9 942.9,198.4 943.0,194.5 943.1,201.5 943.2,196.8 943.3,202.9 943.4,200.8 943.5,204.5 943.6,196.6 943.7,196.7 943.8,210.3 943.9,198.3 944.0,199.3 944.1,191.4 944.2,196.2 944.3,199.0 944.4,200.6 944.5,197.1 944.6,199.5 944.7,191.3 944.8,201.7 944.9,202.8 945.0,193.4 945.1,201.0 945.2,192.3 945.3,201.4 945.4,199.1 945.5,198.2 945.6,193.4 945.7,198.0 945.8,200.7 945.9,193.5 946.0,194.7 946.1,195.3 946.2,196.8 946.3,196.3 946.4,195.2 946.5,190.3 946.6,210.6 946.7,198.5 946.8,196.3 946.9,197.9 947.0,189.3 947.1,200.3 947.2,199.7 947.3,199.8 947.4,199.2 947.5,199.2 947.6,201.7 947.7,188.9 947.8,197.4 947.9,196.3 948.0,201.1 948.1,192.0 948.2,195.2 948.3,192.3 948.4,196.4 948.5,203.0 948.6,202.0 948.7,197.3 948.8,187.0 948.9,198.4 949.0,200.1 949.1,202.7 949.2,195.9 949.3,191.2 949.4,202.4 949.5,201.0 949.6,196.0 949.7,194.3 949.8,195.9 949.9,191.9 950.0,200.3 950.1,195.9 950.2,198.7 950.3,200.7 950.4,192.3 950.5,200.0 950.6,193.8 950.7,204.2 950.8,193.8 950.9,197.0 951.0,200.7 951.1,192.9 951.2,200.7 951.3,192.0 951.4,193.4 951.5,196.1 951.6,204.4 951.7,201.0 951.8,198.7 951.9,190.5 952.0,196.1 952.1,200.8 952.2,192.9 952.3,195.7 952.4,196.6 952.5,203.6 952.6,202.3 952.7,200.6 952.8,195.5 952.9,197.3 953.0,190.0 953.1,196.5 953.2,198.1 953.3,188.0 953.4,201.1 953.5,195.3 953.6,198.7 953.7,197.8 953.8,185.6 953.9,199.9 954.0,201.1 954.1,201.3 954.2,196.4 954.3,207.2 954.4,194.6 954.5,203.8 954.6,204.6 954.7,204.4 954.8,199.7 954.9,204.5 955.0,193.4 955.1,203.6 955.2,204.7 955.3,199.7 955.4,194.6 955.5,196.6 955.6,173.4 955.7,205.6 955.8,204.0 955.9,207.3 956.0,207.0 956.1,189.4 956.2,237.8 956.3,204.3 956.4,212.1 956.5,215.1 956.6,190.2 956.7,190.1 956.8,207.6 956.9,220.5 957.0,211.2 957.1,223.9 957.2,223.8 957.3,194.4 957.4,195.7 957.5,205.4 957.6,195.0 957.7,199.5 957.8,208.0 957.9,184.1 958.0,203.4 958.1,205.0 958.2,184.1 958.3,189.0 958.4,202.1 958.5,206.5 958.6,205.6 958.7,193.4 958.8,212.5 958.9,197.3 959.0,193.9 959.1,201.9 959.2,185.6 959.3,201.2 959.4,190.9 959.5,197.9 959.6,197.0 959.7,201.3 959.8,207.2 959.9,182.8 960.0,195.4 960.1,193.9 960.2,199.2 960.3,199.2 960.4,197.0 960.5,204.6 960.6,195.5 960.7,195.7 960.8,205.0 960.9,192.7 961.0,193.1 961.1,200.0 961.2,196.9 961.3,201.2 961.4,195.4 961.5,194.1 961.6,192.8 961.7,195.3 961.8,191.6 961.9,203.8 962.0,196.2 962.1,203.0 962.2,193.2 962.3,188.5 962.4,198.0 962.5,202.9 962.6,210.9 962.7,194.0 962.8,195.2 962.9,207.9 963.0,211.0 963.1,202.9 963.2,192.2 963.3,209.7 963.4,188.5 963.5,196.8 963.6,192.5 963.7,198.7 963.8,197.1 963.9,195.2 964.0,201.4 964.1,212.5 964.2,193.7 964.3,197.1 964.4,193.0 964.5,202.0 964.6,192.6 964.7,181.4 964.9,187.0 965.0,194.7 965.1,194.6 965.2,196.1 965.3,207.8 965.4,190.7 965.5,179.4 965.6,190.4 965.7,200.9 965.8,200.3 965.9,195.3 966.0,181.7 966.1,202.0 966.2,200.0 966.3,189.3 966.4,208.7 966.5,193.8 966.6,190.8 966.7,203.4 966.8,200.4 966.9,202.8 967.0,211.4 967.1,183.2 967.2,192.9 967.3,229.7 967.4,199.9 967.5,204.0 967.6,205.2 967.7,186.3 967.8,200.2 967.9,207.3 968.0,147.2 968.1,191.3 968.2,190.8 968.3,204.0 968.4,205.0 968.5,205.9 968.6,205.8 968.7,190.4 968.8,209.3 968.9,202.0 969.0,194.8 969.1,185.3 969.2,182.6 969.3,210.1 969.4,204.4 969.5,196.3 969.6,209.6 969.7,199.4 969.8,199.1 969.9,204.4 970.0,210.3 970.1,202.5 970.2,198.7 970.3,199.4 970.4,191.7 970.5,193.4 970.6,181.6 970.7,196.3 970.8,200.9 970.9,204.0 971.0,198.3 971.1,201.4 971.2,193.5 971.3,196.4 971.4,199.6 971.5,196.7 971.6,191.4 971.7,203.2 971.8,201.3 971.9,201.9 972.0,189.3 972.1,205.5 972.2,195.7 972.3,201.5 972.4,190.4 972.5,203.8 972.6,196.8 972.7,186.9 972.8,194.3 972.9,204.0 973.0,201.4 973.1,191.1 973.2,202.3 973.3,200.2 973.4,191.9 973.5,194.3 973.6,199.0 973.7,194.6 973.8,196.0 973.9,200.7 974.0,207.9 974.1,200.6 974.2,206.3 974.3,207.4 974.4,183.0 974.5,195.2 974.6,209.4 974.7,196.3 974.8,198.4 974.9,203.3 975.0,209.0 975.1,201.2 975.2,199.5 975.3,197.7 975.4,194.6 975.5,197.5 975.6,199.6 975.7,208.9 975.8,200.5 975.9,196.1 976.0,202.2 976.1,202.5 976.2,192.6 976.3,198.7 976.4,194.9 976.5,197.7 976.6,195.5 976.7,196.7 976.8,202.6 976.9,201.2 977.0,217.8 977.1,180.8 977.2,195.9 977.3,197.2 977.4,199.6 977.5,188.0 977.6,201.0 977.7,191.6 977.8,196.2 977.9,207.2 978.0,192.4 978.1,190.5 978.2,197.9 978.3,192.7 978.4,184.2 978.5,195.6 978.6,195.0 978.7,201.1 978.8,199.5 978.9,197.8 979.0,187.7 979.1,204.9 979.2,184.3 979.3,197.3 979.4,190.4 979.5,198.5 979.6,195.0 979.7,197.2 979.8,197.7 979.9,195.2 980.0,202.1 980.1,199.9 980.2,198.1 980.3,200.0 980.4,198.6 980.5,192.2 980.6,201.7 980.7,196.4 980.8,198.9 980.9,193.7 981.0,197.7 981.1,195.5 981.2,200.8 981.3,197.9 981.4,193.9 981.5,199.6 981.6,198.1 981.7,200.2 981.8,200.8 981.9,197.6 982.0,196.6 982.1,196.6 982.2,201.9 982.3,200.7 982.4,200.2 982.5,196.6 982.6,202.3 982.7,194.2 982.8,197.8 982.9,200.1 983.0,202.3 983.1,198.6 983.2,193.7 983.3,195.8 983.4,195.8 983.5,199.0 983.6,209.3 983.7,202.8 983.8,197.7 983.9,200.5 984.0,196.5 984.1,198.1 984.2,195.2 984.3,203.6 984.4,194.3 984.5,203.7 984.6,193.3 984.7,196.1 984.8,201.3 984.9,194.9 985.0,196.2 985.1,201.2 985.2,196.2 985.3,201.4 985.4,198.9 985.5,189.9 985.6,196.2 985.7,194.5 985.8,200.2 985.9,198.0 986.0,192.0 986.1,192.0 986.2,202.1 986.3,199.8 986.4,196.3 986.5,204.1 986.6,198.9 986.7,191.7 986.8,194.3 986.9,191.3 987.0,196.7 987.1,196.5 987.2,203.0 987.3,200.8 987.4,197.3 987.5,200.1 987.6,197.1 987.7,207.4 987.8,193.2 987.9,195.3 988.0,201.2 988.1,199.2 988.2,201.6 988.3,191.3 988.4,196.2 988.5,194.3 988.6,195.9 988.7,200.7 988.8,195.3 988.9,200.7 989.0,196.0 989.1,199.4 989.2,198.6 989.3,199.2 989.4,198.8 989.5,195.9 989.6,199.9 989.7,195.4 989.8,194.7 989.9,208.3 990.0,202.5 990.1,202.1 990.2,198.8 990.3,194.9 990.4,198.5 990.5,198.7 990.6,198.4 990.7,203.1 990.8,198.8 990.9,198.6 991.0,198.5 991.1,204.4 991.2,202.1 991.3,195.4 991.4,196.0 991.5,194.7 991.6,198.7 991.7,200.2 991.8,198.4 991.9,195.1 992.0,198.2 992.1,194.4 992.2,194.9 992.3,198.4 992.4,197.7 992.5,199.0 992.6,199.2 992.7,201.1 992.8,197.5 992.9,199.8 993.0,201.2 993.1,195.3 993.2,195.7 993.3,196.5 993.4,195.5 993.5,195.5 993.6,199.3 993.7,197.5 993.8,193.2 993.9,193.0 994.0,197.0 994.1,201.7 994.2,196.6 994.3,198.2 994.4,200.8 994.5,198.8 994.6,195.9 994.7,199.0 994.8,195.5 994.9,199.3 995.0,194.5 995.1,199.2 995.2,199.8 995.3,199.9 995.4,196.9 995.5,201.4 995.6,198.7 995.7,197.8 995.8,200.7 995.9,200.9 996.0,197.2 996.1,198.2 996.2,195.3 996.3,197.8 996.4,197.9 996.5,196.1 996.6,199.5 996.7,196.1 996.8,195.1 996.9,199.1 997.0,196.0 997.1,200.2 997.2,197.6 997.3,190.7 997.4,194.5 997.5,197.1 997.6,194.9 997.7,197.8 997.8,199.0 997.9,200.1 998.1,198.7 998.2,193.4 998.3,197.2 998.4,199.0 998.5,196.5 998.6,197.0 998.7,195.0 998.8,197.1 998.9,197.4 999.0,196.8 999.1,197.3 999.2,197.1 999.3,196.7 999.4,201.8 999.5,203.9 999.6,193.2 999.7,198.8 999.8,194.1 999.9,197.9 1000.0,196.7 1000.1,195.9 1000.2,202.2 1000.3,193.3 1000.4,197.2 1000.5,198.8 1000.6,198.3 1000.7,200.6 1000.8,199.1 1000.9,199.0 1001.0,196.9 1001.1,197.8 1001.2,199.5 1001.3,197.5 1001.4,193.4 1001.5,196.4 1001.6,201.0 1001.7,198.2 1001.8,194.1 1001.9,201.6 1002.0,195.6 1002.1,200.6 1002.2,198.2 1002.3,195.2 1002.4,199.3 1002.5,200.0 1002.6,197.4 1002.7,197.6 1002.8,194.2 1002.9,196.7 1003.0,203.4 1003.1,196.4 1003.2,201.2 1003.3,200.4 1003.4,195.6 1003.5,197.4 1003.6,198.7 1003.7,198.5 1003.8,201.8 1003.9,196.7 1004.0,200.5 1004.1,202.1 1004.2,198.3 1004.3,198.1 1004.4,197.8 1004.5,200.9 1004.6,197.8 1004.7,197.5 1004.8,199.5 1004.9,195.7 1005.0,200.3 1005.1,203.4 1005.2,198.0 1005.3,204.6 1005.4,193.4 1005.5,201.8 1005.6,191.7 1005.7,193.4 1005.8,199.0 1005.9,198.2 1006.0,218.0 1006.1,198.1 1006.2,200.9 1006.3,196.2 1006.4,199.8 1006.5,202.5 1006.6,199.5 1006.7,197.2 1006.8,199.7 1006.9,195.8 1007.0,202.0 1007.1,196.6 1007.2,199.2 1007.3,198.2 1007.4,195.7 1007.5,198.1 1007.6,200.1 1007.7,194.8 1007.8,195.9 1007.9,195.1 1008.0,196.6 1008.1,197.0 1008.2,199.2 1008.3,199.8 1008.4,198.2 1008.5,199.6 1008.6,197.3 1008.7,196.5 1008.8,202.1 1008.9,198.8 1009.0,202.2 1009.1,203.8 1009.2,199.3 1009.3,196.5 1009.4,197.1 1009.5,201.1 1009.6,196.4 1009.7,198.0 1009.8,197.0 1009.9,195.7 1010.0,201.1 1010.1,200.4 1010.2,201.0 1010.3,196.6 1010.4,193.6 1010.5,202.0 1010.6,196.0 1010.7,197.1 1010.8,199.0 1010.9,198.0 1011.0,201.9 1011.1,197.8 1011.2,197.2 1011.3,200.6 1011.4,198.4 1011.5,197.9 1011.6,197.8 1011.7,193.4 1011.8,201.0 1011.9,199.5 1012.0,195.5 1012.1,193.6 1012.2,198.0 1012.3,196.1 1012.4,197.6 1012.5,195.7 1012.6,199.0 1012.7,199.0 1012.8,199.6 1012.9,194.3 1013.0,194.2 1013.1,195.0 1013.2,194.1 1013.3,197.3 1013.4,197.3 1013.5,196.4 1013.6,197.1 1013.7,197.7 1013.8,198.7 1013.9,198.7 1014.0,200.7 1014.1,196.4 1014.2,194.0 1014.3,196.9 1014.4,200.6 1014.5,195.0 1014.6,194.0 1014.7,195.3 1014.8,202.6 1014.9,197.5 1015.0,196.0 1015.1,197.3 1015.2,200.9 1015.3,194.4 1015.4,199.2 1015.5,197.0 1015.6,180.0 1015.7,196.5 1015.8,198.6 1015.9,195.1 1016.0,196.3 1016.1,194.6 1016.2,200.4 1016.3,198.1 1016.4,195.0 1016.5,193.5 1016.6,197.2 1016.7,195.2 1016.8,197.8 1016.9,195.4 1017.0,201.9 1017.1,198.5 1017.2,198.5 1017.3,200.3 1017.4,189.8 1017.5,208.9 1017.6,195.9 1017.7,200.8 1017.8,195.0 1017.9,195.2 1018.0,237.8 1018.1,208.0 1018.2,212.0 1018.3,199.2 1018.4,200.7 1018.5,185.3 1018.6,177.7 1018.7,200.0 1018.8,192.3 1018.9,207.0 1019.0,199.6 1019.1,206.4 1019.2,206.5 1019.3,199.2 1019.4,204.5 1019.5,200.2 1019.6,200.3 1019.7,201.8 1019.8,195.1 1019.9,193.8 1020.0,182.0 1020.1,204.3 1020.2,195.1 1020.3,201.9 1020.4,187.7 1020.5,212.7 1020.6,177.5 1020.7,187.9 1020.8,183.5 1020.9,191.8 1021.0,211.4 1021.1,197.1 1021.2,183.6 1021.3,190.4 1021.4,200.7 1021.5,206.0 1021.6,202.6 1021.7,188.1 1021.8,203.4 1021.9,203.7 1022.0,179.1 1022.1,177.1 1022.2,198.8 1022.3,209.2 1022.4,211.6 1022.5,203.6 1022.6,180.1 1022.7,193.7 1022.8,210.5 1022.9,197.1 1023.0,211.3 1023.1,179.8 1023.2,204.6 1023.3,190.7 1023.4,191.1 1023.5,193.1 1023.6,197.1 1023.7,200.2 1023.8,189.2 1023.9,204.2 1024.0,192.3 1024.1,187.8 1024.2,198.1 1024.3,193.7 1024.4,194.1 1024.5,202.1 1024.6,195.8 1024.7,196.3 1024.8,204.7 1024.9,196.9 1025.0,195.1 1025.1,200.6 1025.2,206.7 1025.3,203.1 1025.4,205.7 1025.5,190.9 1025.6,198.1 1025.7,192.4 1025.8,202.6 1025.9,190.3 1026.0,203.3 1026.1,199.4 1026.2,202.0 1026.3,202.8 1026.4,200.7 1026.5,193.8 1026.6,201.0 1026.7,196.4 1026.8,202.2 1026.9,199.4 1027.0,195.8 1027.1,197.5 1027.2,184.8 1027.3,200.0 1027.4,197.4 1027.5,204.3 1027.6,201.7 1027.7,201.5 1027.8,203.4 1027.9,192.3 1028.0,195.2 1028.1,191.2 1028.2,202.1 1028.3,199.6 1028.4,202.2 1028.5,201.8 1028.6,198.9 1028.7,200.3 1028.8,192.2 1028.9,199.9 1029.0,202.3 1029.1,193.5 1029.2,192.4 1029.3,193.1 1029.4,205.8 1029.5,198.9 1029.6,193.7 1029.7,201.8 1029.8,198.0 1029.9,189.4 1030.0,204.7 1030.1,204.2 1030.2,207.0 1030.3,195.1 1030.4,193.1 1030.5,200.0 1030.6,203.4 1030.7,193.9 1030.8,192.6 1030.9,198.1 1031.0,197.5 1031.1,193.1 1031.2,194.9 1031.4,195.9 1031.5,209.4 1031.6,197.3 1031.7,197.0 1031.8,198.9 1031.9,194.0 1032.0,197.5 1032.1,187.4 1032.2,189.7 1032.3,207.4 1032.4,201.5 1032.5,188.4 1032.6,191.4 1032.7,196.0 1032.8,198.4 1032.9,198.7 1033.0,196.6 1033.1,204.8 1033.2,195.2 1033.3,188.2 1033.4,194.6 1033.5,205.8 1033.6,201.2 1033.7,212.5 1033.8,198.6 1033.9,197.0 1034.0,197.6 1034.1,194.2 1034.2,206.8 1034.3,193.9 1034.4,200.0 1034.5,195.2 1034.6,193.3 1034.7,197.3 1034.8,204.7 1034.9,201.6 1035.0,194.8 1035.1,204.8 1035.2,206.8 1035.3,196.2 1035.4,203.7 1035.5,181.4 1035.6,192.1 1035.7,200.0 1035.8,199.9 1035.9,204.8 1036.0,190.3 1036.1,189.7 1036.2,193.9 1036.3,189.5 1036.4,193.7 1036.5,191.6 1036.6,199.6 1036.7,190.2 1036.8,206.7 1036.9,203.5 1037.0,181.0 1037.1,212.5 1037.2,195.7 1037.3,203.1 1037.4,181.8 1037.5,211.7 1037.6,172.8 1037.7,206.0 1037.8,205.2 1037.9,209.1 1038.0,193.4 1038.1,190.5 1038.2,197.1 1038.3,213.4 1038.4,196.8 1038.5,189.7 1038.6,202.9 1038.7,200.1 1038.8,197.0 1038.9,202.9 1039.0,213.4 1039.1,196.6 1039.2,197.5 1039.3,189.1 1039.4,205.0 1039.5,191.2 1039.6,198.7 1039.7,206.7 1039.8,190.0 1039.9,188.6 1040.0,224.5 1040.1,209.8 1040.2,186.6 1040.3,189.8 1040.4,183.2 1040.5,200.5 1040.6,185.4 1040.7,188.9 1040.8,174.7 1040.9,186.4 1041.0,161.3 1041.1,199.9 1041.2,202.9 1041.3,212.8 1041.4,186.5 1041.5,192.8 1041.6,204.0 1041.7,199.8 1041.8,201.8 1041.9,199.3 1042.0,197.6 1042.1,193.3 1042.2,196.6 1042.3,191.9 1042.4,194.7 1042.5,204.3 1042.6,193.8 1042.7,200.4 1042.8,202.1 1042.9,195.3 1043.0,189.5 1043.1,201.9 1043.2,207.3 1043.3,189.3 1043.4,197.4 1043.5,195.6 1043.6,206.9 1043.7,210.3 1043.8,200.0 1043.9,199.4 1044.0,205.9 1044.1,192.4 1044.2,194.4 1044.3,194.4 1044.4,203.4 1044.5,188.7 1044.6,192.4 1044.7,203.7 1044.8,184.1 1044.9,191.0 1045.0,197.0 1045.1,190.2 1045.2,202.2 1045.3,193.7 1045.4,205.4 1045.5,202.5 1045.6,201.3 1045.7,198.7 1045.8,194.6 1045.9,202.0 1046.0,195.4 1046.1,195.0 1046.2,206.2 1046.3,186.2 1046.4,200.3 1046.5,197.8 1046.6,201.0 1046.7,201.2 1046.8,200.2 1046.9,194.8 1047.0,189.8 1047.1,194.4 1047.2,204.6 1047.3,189.0 1047.4,197.5 1047.5,200.1 1047.6,196.8 1047.7,203.4 1047.8,195.0 1047.9,191.7 1048.0,199.1 1048.1,202.3 1048.2,197.5 1048.3,194.4 1048.4,195.2 1048.5,195.2 1048.6,201.4 1048.7,191.8 1048.8,204.6 1048.9,192.2 1049.0,191.7 1049.1,202.1 1049.2,197.8 1049.3,199.6 1049.4,196.0 1049.5,201.5 1049.6,202.2 1049.7,207.9 1049.8,199.0 1049.9,200.7 1050.0,203.1 1050.1,194.3 1050.2,205.3 1050.3,197.1 1050.4,192.9 1050.5,200.8 1050.6,204.5 1050.7,194.2 1050.8,196.9 1050.9,197.0 1051.0,198.9 1051.1,191.9 1051.2,196.6 1051.3,201.7 1051.4,196.1 1051.5,205.7 1051.6,204.6 1051.7,198.7 1051.8,200.3 1051.9,202.7 1052.0,195.6 1052.1,187.4 1052.2,203.9 1052.3,203.7 1052.4,198.4 1052.5,196.5 1052.6,188.9 1052.7,198.0 1052.8,183.8 1052.9,195.4 1053.0,190.9 1053.1,197.6 1053.2,196.0 1053.3,199.7 1053.4,200.1 1053.5,198.2 1053.6,202.8 1053.7,197.5 1053.8,195.2 1053.9,209.3 1054.0,190.7 1054.1,189.6 1054.2,196.8 1054.3,196.6 1054.4,191.0 1054.5,199.0 1054.6,198.8 1054.7,201.7 1054.8,196.4 1054.9,201.2 1055.0,187.2 1055.1,202.3 1055.2,191.9 1055.3,189.5 1055.4,198.1 1055.5,198.3 1055.6,200.8 1055.7,195.7 1055.8,198.0 1055.9,187.4 1056.0,224.5 1056.1,197.0 1056.2,188.8 1056.3,191.3 1056.4,187.3 1056.5,195.7 1056.6,195.5 1056.7,187.0 1056.8,215.9 1056.9,200.6 1057.0,198.4 1057.1,203.6 1057.2,196.9 1057.3,201.6 1057.4,206.2 1057.5,185.9 1057.6,214.0 1057.7,212.1 1057.8,201.3 1057.9,200.6 1058.0,195.3 1058.1,208.2 1058.2,200.8 1058.3,203.7 1058.4,200.3 1058.5,204.5 1058.6,197.0 1058.7,202.4 1058.8,194.8 1058.9,198.3 1059.0,197.6 1059.1,203.1 1059.2,203.9 1059.3,195.6 1059.4,202.6 1059.5,190.7 1059.6,201.0 1059.7,201.4 1059.8,193.5 1059.9,189.6 1060.0,195.6 1060.1,194.5 1060.2,197.2 1060.3,197.2 1060.4,195.6 1060.5,191.3 1060.6,204.5 1060.7,195.9 1060.8,193.7 1060.9,196.2 1061.0,192.9 1061.1,196.5 1061.2,202.8 1061.3,194.4 1061.4,199.5 1061.5,196.0 1061.6,197.4 1061.7,194.3 1061.8,199.6 1061.9,197.3 1062.0,200.1 1062.1,194.2 1062.2,193.7 1062.3,198.3 1062.4,199.9 1062.5,200.4 1062.6,192.0 1062.7,193.7 1062.8,190.5 1062.9,199.6 1063.0,204.1 1063.1,197.2 1063.2,196.8 1063.3,193.9 1063.4,200.7 1063.5,200.3 1063.6,195.6 1063.7,205.1 1063.8,193.7 1063.9,200.3 1064.0,198.1 1064.1,195.5 1064.2,200.6 1064.3,202.2 1064.4,200.9 1064.6,192.7 1064.7,191.6 1064.8,191.7 1064.9,202.6 1065.0,197.2 1065.1,201.3 1065.2,204.9 1065.3,193.7 1065.4,208.2 1065.5,194.0 1065.6,196.2 1065.7,199.3 1065.8,199.6 1065.9,198.5 1066.0,199.1 1066.1,195.7 1066.2,194.5 1066.3,190.2 1066.4,199.4 1066.5,199.9 1066.6,185.6 1066.7,198.7 1066.8,199.4 1066.9,199.1 1067.0,197.5 1067.1,197.1 1067.2,201.4 1067.3,196.0 1067.4,199.6 1067.5,205.2 1067.6,198.7 1067.7,192.7 1067.8,201.3 1067.9,191.1 1068.0,194.9 1068.1,194.8 1068.2,197.7 1068.3,207.4 1068.4,193.8 1068.5,200.3 1068.6,193.3 1068.7,199.7 1068.8,200.6 1068.9,195.7 1069.0,198.4 1069.1,194.8 1069.2,203.9 1069.3,200.4 1069.4,199.0 1069.5,194.3 1069.6,201.7 1069.7,202.1 1069.8,201.5 1069.9,172.9 1070.0,137.6 1070.1,186.0 1070.2,203.5 1070.3,207.7 1070.4,187.2 1070.5,207.7 1070.6,193.2 1070.7,172.2 1070.8,202.9 1070.9,218.0 1071.0,309.5 1071.1,209.8 1071.2,205.8 1071.3,209.4 1071.4,198.2 1071.5,199.5 1071.6,206.8 1071.7,206.4 1071.8,198.5 1071.9,192.3 1072.0,123.1 1072.1,187.7 1072.2,186.3 1072.3,191.6 1072.4,189.5 1072.5,197.3 1072.6,230.4 1072.7,220.3 1072.8,210.7 1072.9,187.7 1073.0,150.0 1073.1,203.3 1073.2,187.7 1073.3,224.9 1073.4,179.2 1073.5,199.5 1073.6,193.4 1073.7,199.5 1073.8,186.7 1073.9,206.9 1074.0,225.1 1074.1,203.2 1074.2,236.0 1074.3,198.9 1074.4,212.6 1074.5,202.4 1074.6,188.4 1074.7,190.5 1074.8,212.8 1074.9,188.3 1075.0,205.3 1075.1,228.9 1075.2,200.3 1075.3,191.3 1075.4,192.0 1075.5,194.1 1075.6,194.0 1075.7,187.7 1075.8,195.2 1075.9,176.3 1076.0,176.0 1076.1,198.1 1076.2,201.6 1076.3,207.6 1076.4,188.6 1076.5,191.0 1076.6,206.8 1076.7,216.2 1076.8,176.8 1076.9,203.6 1077.0,207.2 1077.1,180.3 1077.2,196.7 1077.3,192.9 1077.4,196.7 1077.5,211.1 1077.6,195.9 1077.7,196.5 1077.8,209.1 1077.9,198.0 1078.0,205.0 1078.1,190.1 1078.2,197.6 1078.3,200.0 1078.4,203.7 1078.5,197.3 1078.6,194.9 1078.7,202.6 1078.8,188.8 1078.9,197.3 1079.0,204.3 1079.1,191.9 1079.2,194.4 1079.3,211.9 1079.4,202.6 1079.5,208.4 1079.6,202.0 1079.7,193.6 1079.8,184.7 1079.9,204.6 1080.0,196.8 1080.1,207.6 1080.2,198.7 1080.3,199.4 1080.4,205.0 1080.5,201.4 1080.6,198.3 1080.7,189.7 1080.8,204.9 1080.9,195.7 1081.0,179.6 1081.1,186.0 1081.2,214.5 1081.3,207.9 1081.4,202.7 1081.5,199.4 1081.6,210.0 1081.7,199.3 1081.8,189.9 1081.9,187.1 1082.0,190.8 1082.1,192.1 1082.2,189.3 1082.3,187.1 1082.4,187.2 1082.5,197.1 1082.6,204.9 1082.7,201.3 1082.8,206.6 1082.9,194.4 1083.0,199.3 1083.1,185.5 1083.2,187.2 1083.3,197.1 1083.4,205.6 1083.5,198.5 1083.6,201.0 1083.7,194.0 1083.8,199.9 1083.9,211.2 1084.0,189.4 1084.1,195.7 1084.2,194.6 1084.3,214.1 1084.4,195.8 1084.5,199.9 1084.6,217.2 1084.7,192.8 1084.8,199.1 1084.9,199.9 1085.0,183.0 1085.1,205.9 1085.2,203.1 1085.3,195.6 1085.4,207.0 1085.5,191.7 1085.6,208.5 1085.7,190.3 1085.8,196.3 1085.9,210.7 1086.0,196.7 1086.1,185.6 1086.2,200.6 1086.3,197.5 1086.4,178.5 1086.5,205.2 1086.6,215.7 1086.7,200.1 1086.8,197.4 1086.9,203.4 1087.0,186.9 1087.1,194.7 1087.2,196.8 1087.3,191.6 1087.4,190.3 1087.5,193.4 1087.6,212.3 1087.7,199.7 1087.8,189.9 1087.9,200.2 1088.0,192.6 1088.1,202.4 1088.2,204.6 1088.3,194.7 1088.4,198.7 1088.5,193.7 1088.6,197.1 1088.7,200.3 1088.8,194.9 1088.9,196.4 1089.0,192.1 1089.1,197.9 1089.2,204.5 1089.3,188.9 1089.4,192.1 1089.5,204.2 1089.6,200.1 1089.7,191.9 1089.8,203.6 1089.9,204.0 1090.0,207.4 1090.1,194.2 1090.2,198.6 1090.3,197.2 1090.4,200.3 1090.5,193.8 1090.6,202.4 1090.7,196.2 1090.8,200.6 1090.9,198.1 1091.0,197.7 1091.1,196.3 1091.2,197.2 1091.3,187.3 1091.4,198.0 1091.5,194.7 1091.6,194.9 1091.7,198.0 1091.8,205.3 1091.9,200.8 1092.0,204.7 1092.1,190.9 1092.2,192.3 1092.3,196.8 1092.4,195.7 1092.5,191.6 1092.6,198.6 1092.7,198.9 1092.8,207.7 1092.9,193.8 1093.0,198.4 1093.1,201.1 1093.2,203.9 1093.3,188.7 1093.4,195.5 1093.5,194.8 1093.6,206.7 1093.7,196.6 1093.8,198.0 1093.9,200.1 1094.0,195.4 1094.1,199.0 1094.2,204.8 1094.3,198.2 1094.4,190.8 1094.5,196.6 1094.6,203.8 1094.7,192.3 1094.8,193.7 1094.9,201.4 1095.0,203.9 1095.1,195.8 1095.2,196.4 1095.3,194.9 1095.4,197.9 1095.5,198.7 1095.6,203.5 1095.7,195.6 1095.8,195.1 1095.9,195.9 1096.0,187.6 1096.1,201.0 1096.2,196.1 1096.3,205.8 1096.4,201.1 1096.5,202.5 1096.6,195.7 1096.7,188.1 1096.8,199.7 1096.9,201.3 1097.0,197.2 1097.1,201.6 1097.2,193.2 1097.3,207.3 1097.4,199.4 1097.5,194.1 1097.6,201.3 1097.8,207.5 1097.9,201.5 1098.0,198.6 1098.1,195.5 1098.2,189.8 1098.3,206.3 1098.4,196.5 1098.5,201.7 1098.6,198.8 1098.7,190.7 1098.8,202.4 1098.9,194.6 1099.0,197.8 1099.1,194.3 1099.2,204.6 1099.3,196.8 1099.4,189.2 1099.5,211.0 1099.6,205.7 1099.7,201.7 1099.8,203.1 1099.9,204.3 1100.0,199.5 1100.1,191.3 1100.2,195.1 1100.3,204.1 1100.4,189.1 1100.5,203.8 1100.6,191.3 1100.7,197.3 1100.8,201.3 1100.9,203.1 1101.0,194.2 1101.1,208.4 1101.2,199.7 1101.3,202.3 1101.4,198.4 1101.5,205.4 1101.6,202.4 1101.7,195.2 1101.8,200.5 1101.9,205.2 1102.0,197.6 1102.1,199.3 1102.2,196.2 1102.3,196.9 1102.4,198.7 1102.5,193.7 1102.6,191.6 1102.7,189.2 1102.8,203.1 1102.9,198.4 1103.0,211.6 1103.1,197.7 1103.2,195.6 1103.3,197.8 1103.4,198.5 1103.5,199.8 1103.6,193.9 1103.7,199.0 1103.8,205.4 1103.9,194.9 1104.0,197.1 1104.1,194.4 1104.2,198.1 1104.3,198.2 1104.4,187.8 1104.5,201.9 1104.6,193.3 1104.7,202.6 1104.8,198.6 1104.9,207.9 1105.0,204.8 1105.1,200.3 1105.2,200.3 1105.3,195.2 1105.4,190.1 1105.5,192.1 1105.6,194.8 1105.7,203.5 1105.8,202.7 1105.9,197.9 1106.0,199.4 1106.1,204.1 1106.2,196.1 1106.3,199.3 1106.4,202.1 1106.5,192.5 1106.6,201.0 1106.7,197.0 1106.8,202.6 1106.9,198.4 1107.0,195.0 1107.1,194.0 1107.2,195.2 1107.3,193.7 1107.4,202.9 1107.5,201.5 1107.6,201.4 1107.7,195.6 1107.8,200.7 1107.9,193.6 1108.0,193.9 1108.1,192.2 1108.2,195.1 1108.3,197.1 1108.4,199.0 1108.5,199.0 1108.6,195.8 1108.7,200.1 1108.8,199.5 1108.9,193.3 1109.0,203.0 1109.1,197.2 1109.2,201.4 1109.3,196.8 1109.4,205.3 1109.5,199.8 1109.6,198.9 1109.7,197.5 1109.8,197.9 1109.9,202.9 1110.0,206.7 1110.1,195.2 1110.2,200.3 1110.3,198.0 1110.4,187.0 1110.5,199.8 1110.6,200.7 1110.7,193.3 1110.8,198.8 1110.9,193.4 1111.0,190.9 1111.1,203.5 1111.2,199.2 1111.3,202.1 1111.4,200.6 1111.5,194.7 1111.6,196.1 1111.7,198.8 1111.8,197.6 1111.9,199.7 1112.0,200.1 1112.1,197.3 1112.2,195.6 1112.3,204.2 1112.4,199.7 1112.5,188.1 1112.6,200.7 1112.7,192.4 1112.8,193.9 1112.9,199.2 1113.0,197.9 1113.1,197.9 1113.2,196.5 1113.3,201.0 1113.4,205.1 1113.5,205.1 1113.6,195.7 1113.7,196.0 1113.8,200.3 1113.9,200.6 1114.0,192.8 1114.1,201.9 1114.2,197.2 1114.3,197.5 1114.4,199.4 1114.5,188.6 1114.6,202.5 1114.7,197.8 1114.8,200.8 1114.9,203.4 1115.0,195.8 1115.1,206.1 1115.2,194.0 1115.3,202.5 1115.4,198.6 1115.5,192.1 1115.6,179.9 1115.7,207.4 1115.8,198.9 1115.9,196.0 1116.0,213.2 1116.1,206.0 1116.2,189.7 1116.3,193.5 1116.4,219.8 1116.5,197.9 1116.6,205.2 1116.7,185.2 1116.8,197.6 1116.9,188.6 1117.0,202.7 1117.1,198.7 1117.2,196.9 1117.3,192.2 1117.4,204.4 1117.5,209.7 1117.6,199.5 1117.7,198.8 1117.8,197.0 1117.9,194.2 1118.0,226.0 1118.1,201.9 1118.2,199.8 1118.3,211.1 1118.4,205.1 1118.5,208.2 1118.6,204.8 1118.7,185.7 1118.8,210.8 1118.9,203.9 1119.0,177.0 1119.1,204.4 1119.2,186.8 1119.3,187.7 1119.4,197.1 1119.5,202.4 1119.6,199.4 1119.7,205.5 1119.8,193.1 1119.9,200.8 1120.0,202.9 1120.1,191.8 1120.2,189.8 1120.3,200.3 1120.4,192.5 1120.5,192.4 1120.6,186.6 1120.7,196.6 1120.8,200.9 1120.9,200.8 1121.0,213.2 1121.1,197.3 1121.2,198.9 1121.3,196.0 1121.4,200.4 1121.5,189.9 1121.6,199.3 1121.7,203.7 1121.8,217.2 1121.9,183.9 1122.0,199.5 1122.1,197.5 1122.2,190.4 1122.3,191.9 1122.4,195.9 1122.5,194.7 1122.6,205.4 1122.7,202.6 1122.8,203.1 1122.9,196.9 1123.0,194.7 1123.1,187.6 1123.2,198.6 1123.3,208.0 1123.4,205.7 1123.5,189.4 1123.6,198.6 1123.7,202.3 1123.8,169.9 1123.9,211.7 1124.0,182.7 1124.1,209.5 1124.2,205.5 1124.3,186.1 1124.4,201.1 1124.5,182.6 1124.6,202.6 1124.7,210.1 1124.8,177.0 1124.9,202.1 1125.0,183.2 1125.1,189.8 1125.2,205.4 1125.3,186.1 1125.4,198.8 1125.5,181.3 1125.6,192.5 1125.7,195.0 1125.8,192.6 1125.9,196.0 1126.0,208.0 1126.1,207.9 1126.2,212.0 1126.3,211.6 1126.4,216.9 1126.5,206.0 1126.6,217.2 1126.7,204.1 1126.8,198.2 1126.9,209.3 1127.0,192.4 1127.1,210.7 1127.2,196.7 1127.3,198.8 1127.4,200.4 1127.5,207.4 1127.6,213.7 1127.7,218.2 1127.8,211.5 1127.9,189.9 1128.0,234.0 1128.1,195.1 1128.2,183.4 1128.3,202.0 1128.4,183.6 1128.5,194.8 1128.6,203.1 1128.7,218.4 1128.8,216.5 1128.9,223.6 1129.0,185.8 1129.1,199.5 1129.2,192.0 1129.3,200.0 1129.4,193.3 1129.5,201.4 1129.6,215.1 1129.7,185.3 1129.8,175.1 1129.9,194.7 1130.0,193.7 1130.1,183.6 1130.2,187.7 1130.3,187.8 1130.4,187.3 1130.5,193.3 1130.6,192.6 1130.7,207.5 1130.8,190.5 1130.9,191.4 1131.1,197.4 1131.2,199.9 1131.3,200.4 1131.4,188.5 1131.5,196.3 1131.6,206.6 1131.7,194.1 1131.8,211.7 1131.9,196.7 1132.0,199.7 1132.1,196.3 1132.2,197.1 1132.3,197.1 1132.4,198.8 1132.5,196.7 1132.6,178.3 1132.7,197.7 1132.8,187.8 1132.9,205.7 1133.0,231.0 1133.1,189.5 1133.2,212.7 1133.3,180.3 1133.4,191.3 1133.5,186.9 1133.6,180.8 1133.7,198.8 1133.8,211.0 1133.9,192.3 1134.0,200.9 1134.1,187.8 1134.2,179.2 1134.3,208.0 1134.4,199.3 1134.5,199.1 1134.6,199.2 1134.7,197.6 1134.8,220.0 1134.9,209.5 1135.0,209.1 1135.1,192.1 1135.2,186.4 1135.3,190.4 1135.4,195.0 1135.5,205.4 1135.6,216.3 1135.7,204.8 1135.8,193.2 1135.9,195.9 1136.0,207.0 1136.1,199.5 1136.2,207.2 1136.3,170.4 1136.4,209.6 1136.5,203.2 1136.6,211.9 1136.7,202.8 1136.8,203.2 1136.9,197.6 1137.0,214.9 1137.1,204.4 1137.2,198.1 1137.3,192.6 1137.4,208.0 1137.5,209.1 1137.6,240.4 1137.7,197.9 1137.8,197.5 1137.9,189.5 1138.0,195.0 1138.1,199.3 1138.2,200.1 1138.3,192.2 1138.4,196.4 1138.5,188.7 1138.6,199.2 1138.7,202.6 1138.8,190.5 1138.9,189.1 1139.0,201.1 1139.1,200.8 1139.2,187.1 1139.3,210.8 1139.4,183.8 1139.5,207.5 1139.6,213.7 1139.7,190.6 1139.8,224.1 1139.9,195.8 1140.0,208.8 1140.1,198.9 1140.2,187.6 1140.3,190.3 1140.4,198.8 1140.5,184.7 1140.6,173.8 1140.7,200.1 1140.8,230.0 1140.9,201.0 1141.0,184.4 1141.1,200.7 1141.2,197.0 1141.3,196.8 1141.4,199.0 1141.5,198.7 1141.6,188.0 1141.7,205.8 1141.8,208.1 1141.9,205.9 1142.0,208.8 1142.1,204.3 1142.2,199.4 1142.3,182.6 1142.4,193.3 1142.5,200.9 1142.6,196.2 1142.7,196.7 1142.8,186.5 1142.9,212.2 1143.0,195.8 1143.1,186.7 1143.2,197.8 1143.3,197.2 1143.4,192.0 1143.5,197.3 1143.6,197.9 1143.7,205.5 1143.8,195.2 1143.9,193.8 1144.0,176.5 1144.1,196.6 1144.2,207.1 1144.3,186.4 1144.4,200.7 1144.5,188.8 1144.6,198.7 1144.7,202.2 1144.8,202.5 1144.9,187.2 1145.0,203.5 1145.1,198.2 1145.2,193.7 1145.3,187.5 1145.4,200.4 1145.5,203.0 1145.6,196.1 1145.7,197.0 1145.8,200.0 1145.9,188.7 1146.0,202.4 1146.1,201.3 1146.2,183.0 1146.3,188.7 1146.4,199.2 1146.5,198.5 1146.6,196.8 1146.7,187.8 1146.8,201.6 1146.9,197.8 1147.0,202.8 1147.1,193.9 1147.2,203.7 1147.3,198.9 1147.4,196.4 1147.5,186.8 1147.6,199.2" fill="none" stroke="#0000FF" stroke-width="2" stroke-linejoin="round"/>
<polyline points="682.3,203.9 682.4,197.7 682.5,192.7 682.6,193.5 682.7,195.6 682.8,197.7 682.9,199.8 683.0,192.3 683.1,194.2 683.2,200.9 683.3,202.6 683.4,200.3 683.5,205.1 683.6,197.8 683.7,193.5 683.8,198.7 683.9,195.5 684.0,193.8 684.1,203.5 684.2,198.2 684.3,193.2 684.4,199.5 684.5,203.6 684.6,197.5 684.7,195.3 684.8,203.2 684.9,195.2 685.0,196.2 685.1,198.0 685.2,204.0 685.3,197.9 685.4,201.0 685.5,189.4 685.6,197.5 685.7,194.9 685.8,202.2 685.9,200.1 686.0,201.0 686.1,198.7 686.2,194.7 686.3,199.8 686.4,200.6 686.5,202.5 686.6,193.9 686.7,198.2 686.8,197.5 686.9,204.5 687.0,204.0 687.1,200.7 687.2,195.1 687.3,190.3 687.4,202.2 687.5,198.7 687.6,198.1 687.7,201.8 687.8,197.7 687.9,192.9 688.0,202.7 688.1,201.0 688.2,196.4 688.3,197.5 688.4,193.8 688.5,194.8 688.6,194.6 688.7,194.6 688.8,196.5 688.9,202.9 689.0,199.4 689.1,189.9 689.2,199.3 689.3,194.6 689.4,199.0 689.5,196.6 689.6,196.7 689.7,196.6 689.8,198.7 689.9,201.7 690.0,203.3 690.1,197.0 690.2,194.6 690.3,195.4 690.4,199.5 690.5,197.6 690.6,196.0 690.7,200.9 690.8,201.0 690.9,199.8 691.0,204.1 691.1,193.6 691.2,196.6 691.3,205.0 691.4,200.5 691.5,196.6 691.6,200.5 691.7,202.6 691.8,194.6 691.9,194.6 692.0,201.5 692.1,197.2 692.2,191.8 692.3,199.0 692.4,198.1 692.5,193.9 692.6,194.3 692.7,201.5 692.8,200.8 692.9,193.1 693.0,190.7 693.1,201.5 693.2,198.3 693.3,201.0 693.4,200.0 693.5,196.8 693.6,192.5 693.7,195.0 693.8,195.0 693.9,200.0 694.0,192.8 694.1,198.7 694.2,195.4 694.3,200.8 694.4,200.6 694.5,201.9 694.6,198.2 694.7,201.5 694.8,197.4 694.9,191.5 695.0,191.8 695.1,198.0 695.2,201.1 695.3,199.0 695.4,193.9 695.5,199.8 695.6,193.5 695.7,198.8 695.8,190.0 695.9,195.5 696.0,201.4 696.1,195.7 696.2,201.5 696.3,198.8 696.4,197.4 696.5,202.8 696.6,191.9 696.7,199.5 696.8,190.7 696.9,198.6 697.0,203.3 697.1,198.8 697.2,206.5 697.3,199.9 697.4,199.0 697.5,201.2 697.6,194.3 697.7,195.9 697.8,197.5 697.9,195.2 698.0,196.9 698.1,198.9 698.2,195.8 698.3,193.1 698.4,202.5 698.5,209.3 698.6,195.8 698.7,201.3 698.8,203.6 699.0,204.3 699.1,192.7 699.2,196.6 699.3,197.9 699.4,196.9 699.5,196.8 699.6,194.6 699.7,196.8 699.8,202.9 699.9,191.9 700.0,197.2 700.1,202.2 700.2,206.4 700.3,204.8 700.4,200.4 700.5,195.3 700.6,199.7 700.7,197.8 700.8,197.7 700.9,201.6 701.0,196.9 701.1,197.9 701.2,202.2 701.3,200.8 701.4,200.0 701.5,188.3 701.6,201.3 701.7,200.4 701.8,199.4 701.9,196.8 702.0,198.8 702.1,194.6 702.2,201.1 702.3,200.0 702.4,194.1 702.5,193.7 702.6,197.8 702.7,198.2 702.8,197.3 702.9,201.2 703.0,197.6 703.1,192.3 703.2,198.4 703.3,193.2 703.4,192.8 703.5,195.9 703.6,196.3 703.7,196.6 703.8,200.0 703.9,193.3 704.0,197.9 704.1,195.5 704.2,197.3 704.3,197.6 704.4,193.1 704.5,196.1 704.6,198.7 704.7,201.2 704.8,194.8 704.9,199.2 705.0,199.4 705.1,201.7 705.2,196.3 705.3,204.1 705.4,195.1 705.5,199.9 705.6,192.3 705.7,194.9 705.8,194.1 705.9,195.1 706.0,193.2 706.1,199.2 706.2,200.9 706.3,194.8 706.4,197.2 706.5,201.5 706.6,203.2 706.7,197.8 706.8,196.2 706.9,202.0 707.0,200.8 707.1,197.5 707.2,204.2 707.3,192.7 707.4,204.1 707.5,197.9 707.6,193.8 707.7,193.4 707.8,195.2 707.9,203.9 708.0,195.6 708.1,203.9 708.2,197.5 708.3,197.2 708.4,193.9 708.5,189.7 708.6,193.3 708.7,191.7 708.8,200.1 708.9,192.1 709.0,196.5 709.1,200.9 709.2,195.9 709.3,194.8 709.4,208.5 709.5,194.3 709.6,199.6 709.7,203.6 709.8,203.3 709.9,195.5 710.0,200.5 710.1,196.2 710.2,190.4 710.3,200.2 710.4,205.1 710.5,196.4 710.6,197.4 710.7,207.0 710.8,194.7 710.9,201.7 711.0,202.7 711.1,198.8 711.2,195.7 711.3,205.5 711.4,204.9 711.5,190.1 711.6,198.2 711.7,201.3 711.8,194.3 711.9,201.0 712.0,195.6 712.1,196.7 712.2,200.9 712.3,195.7 712.4,201.8 712.5,196.2 712.6,196.4 712.7,197.1 712.8,196.7 712.9,198.3 713.0,199.0 713.1,201.1 713.2,193.8 713.3,207.0 713.4,197.4 713.5,202.1 713.6,190.2 713.7,207.1 713.8,194.7 713.9,199.4 714.0,191.5 714.1,190.9 714.2,196.9 714.3,203.8 714.4,196.6 714.5,198.5 714.6,196.3 714.7,199.9 714.8,192.2 714.9,190.6 715.0,192.6 715.1,195.0 715.2,196.2 715.3,198.5 715.4,191.3 715.5,201.7 715.6,197.9 715.7,201.8 715.8,197.6 715.9,206.2 716.0,196.2 716.1,197.9 716.2,198.8 716.3,193.9 716.4,197.3 716.5,200.3 716.6,197.4 716.7,204.9 716.8,197.1 716.9,205.1 717.0,203.8 717.1,194.9 717.2,205.6 717.3,204.8 717.4,207.4 717.5,198.4 717.6,206.6 717.7,191.8 717.8,194.5 717.9,201.6 718.0,202.9 718.1,200.7 718.2,197.2 718.3,199.8 718.4,203.1 718.5,189.8 718.6,204.4 718.7,195.3 718.8,197.4 718.9,196.5 719.0,201.3 719.1,198.6 719.2,195.1 719.3,200.7 719.4,192.6 719.5,203.9 719.6,200.7 719.7,203.5 719.8,194.3 719.9,205.3 720.0,194.7 720.1,196.8 720.2,207.0 720.3,196.5 720.4,192.8 720.5,195.1 720.6,194.5 720.7,194.1 720.8,193.7 720.9,200.8 721.0,194.8 721.1,204.0 721.2,197.9 721.3,197.6 721.4,198.9 721.5,200.7 721.6,189.6 721.7,195.7 721.8,199.3 721.9,196.0 722.0,196.2 722.1,202.2 722.2,199.1 722.3,196.0 722.4,198.3 722.5,188.1 722.6,198.2 722.7,202.8 722.8,200.0 722.9,201.0 723.0,196.7 723.1,204.1 723.2,198.6 723.3,188.4 723.4,192.1 723.5,202.0 723.6,198.6 723.7,199.4 723.8,200.9 723.9,200.4 724.0,202.8 724.1,192.0 724.2,194.0 724.3,197.0 724.4,200.8 724.5,194.8 724.6,199.3 724.7,208.0 724.8,197.9 724.9,198.1 725.0,199.8 725.1,202.4 725.2,200.2 725.3,202.5 725.4,192.8 725.5,194.8 725.6,202.6 725.7,198.4 725.8,193.0 725.9,201.7 726.0,190.8 726.1,198.5 726.2,197.2 726.3,200.2 726.4,199.1 726.5,195.9 726.6,194.7 726.7,195.3 726.8,192.9 726.9,198.7 727.0,201.4 727.1,196.9 727.2,199.0 727.3,204.1 727.4,199.8 727.5,200.0 727.6,202.6 727.7,190.0 727.8,197.8 727.9,197.6 728.0,197.9 728.1,189.2 728.2,206.1 728.3,200.5 728.4,199.8 728.5,200.2 728.6,195.4 728.7,200.9 728.8,204.9 728.9,199.3 729.0,202.4 729.1,199.1 729.2,192.3 729.3,196.9 729.4,205.5 729.5,205.9 729.6,188.4 729.7,200.1 729.8,203.3 729.9,197.0 730.0,198.1 730.1,202.6 730.2,198.4 730.3,195.4 730.4,198.1 730.5,200.0 730.6,192.5 730.7,205.3 730.8,196.6 730.9,187.8 731.0,195.4 731.1,200.9 731.2,194.2 731.3,187.1 731.4,192.5 731.5,194.9 731.6,192.4 731.7,195.2 731.8,192.3 731.9,201.3 732.0,189.9 732.1,193.2 732.3,194.6 732.4,197.7 732.5,199.2 732.6,201.9 732.7,202.2 732.8,202.0 732.9,198.1 733.0,195.3 733.1,194.9 733.2,200.3 733.3,200.1 733.4,206.7 733.5,200.4 733.6,192.7 733.7,204.0 733.8,197.5 733.9,202.4 734.0,199.4 734.1,197.7 734.2,198.1 734.3,204.9 734.4,203.0 734.5,193.3 734.6,190.4 734.7,202.7 734.8,198.5 734.9,196.7 735.0,203.1 735.1,205.8 735.2,196.0 735.3,198.7 735.4,204.5 735.5,203.5 735.6,199.2 735.7,194.8 735.8,192.6 735.9,193.9 736.0,195.9 736.1,199.8 736.2,198.6 736.3,194.2 736.4,203.5 736.5,198.3 736.6,200.4 736.7,201.0 736.8,194.7 736.9,196.9 737.0,200.6 737.1,194.7 737.2,197.6 737.3,202.8 737.4,189.7 737.5,203.6 737.6,203.8 737.7,196.3 737.8,196.2 737.9,199.3 738.0,198.0 738.1,194.2 738.2,196.4 738.3,194.2 738.4,196.4 738.5,197.0 738.6,193.3 738.7,203.1 738.8,201.0 738.9,204.3 739.0,194.4 739.1,194.9 739.2,203.1 739.3,202.3 739.4,196.7 739.5,192.7 739.6,194.0 739.7,199.1 739.8,198.7 739.9,201.1 740.0,201.4 740.1,187.1 740.2,200.6 740.3,197.5 740.4,196.6 740.5,193.7 740.6,191.6 740.7,199.0 740.8,189.3 740.9,205.7 741.0,195.6 741.1,197.3 741.2,198.6 741.3,198.3 741.4,201.1 741.5,195.0 741.6,196.7 741.7,196.0 741.8,193.7 741.9,194.8 742.0,199.1 742.1,199.3 742.2,195.1 742.3,201.3 742.4,201.1 742.5,200.7 742.6,195.6 742.7,196.3 742.8,204.0 742.9,208.4 743.0,206.1 743.1,205.0 743.2,196.9 743.3,204.3 743.4,184.4 743.5,223.0 743.6,204.5 743.7,205.3 743.8,211.7 743.9,199.8 744.0,199.6 744.1,198.1 744.2,199.9 744.3,197.4 744.4,200.2 744.5,205.1 744.6,194.9 744.7,189.9 744.8,204.5 744.9,203.5 745.0,194.5 745.1,187.2 745.2,195.4 745.3,195.7 745.4,199.3 745.5,193.0 745.6,203.9 745.7,184.8 745.8,186.9 745.9,197.0 746.0,195.8 746.1,200.5 746.2,204.1 746.3,203.3 746.4,198.4 746.5,204.2 746.6,201.7 746.7,199.7 746.8,198.6 746.9,199.4 747.0,195.1 747.1,203.1 747.2,192.5 747.3,192.1 747.4,198.1 747.5,197.4 747.6,198.1 747.7,194.9 747.8,200.5 747.9,194.9 748.0,194.3 748.1,207.1 748.2,198.8 748.3,201.5 748.4,201.5 748.5,192.7 748.6,198.5 748.7,191.2 748.8,191.6 748.9,197.6 749.0,189.7 749.1,200.6 749.2,188.2 749.3,198.0 749.4,191.7 749.5,198.2 749.6,195.3 749.7,192.6 749.8,200.1 749.9,196.0 750.0,200.2 750.1,192.1 750.2,195.6 750.3,194.7 750.4,205.4 750.5,196.7 750.6,193.0 750.7,213.7 750.8,197.3 750.9,208.5 751.0,208.3 751.1,198.3 751.2,203.6 751.3,198.4 751.4,195.1 751.5,201.9 751.6,200.7 751.7,198.3 751.8,196.0 751.9,202.7 752.0,201.3 752.1,195.2 752.2,186.2 752.3,196.4 752.4,200.0 752.5,190.5 752.6,201.3 752.7,205.8 752.8,201.9 752.9,214.7 753.0,197.7 753.1,195.6 753.2,206.2 753.3,191.3 753.4,194.3 753.5,185.9 753.6,196.7 753.7,210.7 753.8,187.7 753.9,189.2 754.0,195.1 754.1,197.3 754.2,199.5 754.3,193.4 754.4,195.8 754.5,193.9 754.6,201.9 754.7,195.7 754.8,182.4 754.9,200.2 755.0,198.5 755.1,197.6 755.2,195.0 755.3,192.7 755.4,204.0 755.5,197.4 755.6,202.6 755.7,201.3 755.8,205.0 755.9,201.8 756.0,198.3 756.1,203.7 756.2,197.8 756.3,201.9 756.4,210.0 756.5,197.2 756.6,207.2 756.7,194.9 756.8,181.9 756.9,207.1 757.0,212.6 757.1,198.5 757.2,218.3 757.3,190.4 757.4,209.9 757.5,210.4 757.6,197.6 757.7,197.5 757.8,188.3 757.9,199.7 758.0,195.2 758.1,195.1 758.2,205.1 758.3,200.1 758.4,185.5 758.5,210.9 758.6,193.3 758.7,211.0 758.8,189.8 758.9,193.1 759.0,208.8 759.1,206.0 759.2,201.9 759.3,184.7 759.4,197.7 759.5,201.5 759.6,187.3 759.7,215.1 759.8,209.4 759.9,200.4 760.0,181.4 760.1,178.5 760.2,201.3 760.3,204.4 760.4,194.1 760.5,209.8 760.6,204.3 760.7,206.4 760.8,193.5 760.9,201.6 761.0,197.5 761.1,189.4 761.2,197.6 761.3,208.5 761.4,196.1 761.5,199.7 761.6,195.8 761.7,191.7 761.8,203.6 761.9,198.2 762.0,189.2 762.1,189.0 762.2,207.5 762.3,199.4 762.4,190.3 762.5,197.0 762.6,207.1 762.7,204.0 762.8,205.9 762.9,196.8 763.0,197.2 763.1,201.9 763.2,204.5 763.3,187.3 763.4,197.3 763.5,196.6 763.6,201.2 763.7,195.7 763.8,193.3 763.9,200.6 764.0,198.1 764.1,186.4 764.2,208.5 764.3,195.9 764.4,205.9 764.5,198.2 764.6,210.9 764.7,193.7 764.8,209.9 764.9,211.9 765.0,207.6 765.1,190.6 765.2,209.4 765.3,206.8 765.5,200.6 765.6,188.4 765.7,187.7 765.8,200.9 765.9,219.3 766.0,196.4 766.1,197.9 766.2,180.2 766.3,187.5 766.4,198.2 766.5,204.5 766.6,191.5 766.7,196.9 766.8,206.2 766.9,203.0 767.0,202.3 767.1,188.2 767.2,199.7 767.3,185.9 767.4,209.1 767.5,187.7 767.6,200.6 767.7,184.6 767.8,201.7 767.9,201.1 768.0,193.9 768.1,202.7 768.2,194.3 768.3,187.3 768.4,214.4 768.5,189.9 768.6,191.2 768.7,205.3 768.8,187.0 768.9,203.7 769.0,189.7 769.1,205.7 769.2,198.3 769.3,200.6 769.4,184.9 769.5,168.0 769.6,186.2 769.7,190.2 769.8,193.8 769.9,193.6 770.0,192.8 770.1,193.0 770.2,179.3 770.3,201.7 770.4,201.5 770.5,210.6 770.6,189.4 770.7,206.6 770.8,206.2 770.9,211.7 771.0,182.5 771.1,203.2 771.2,206.6 771.3,189.2 771.4,190.4 771.5,204.7 771.6,201.9 771.7,196.2 771.8,209.2 771.9,195.1 772.0,174.5 772.1,187.8 772.2,214.5 772.3,201.9 772.4,203.7 772.5,205.2 772.6,208.6 772.7,188.7 772.8,193.8 772.9,207.1 773.0,213.9 773.1,200.8 773.2,195.3 773.3,199.0 773.4,202.1 773.5,214.4 773.6,195.8 773.7,208.1 773.8,206.3 773.9,197.6 774.0,198.4 774.1,209.2 774.2,216.0 774.3,201.0 774.4,202.5 774.5,176.0 774.6,181.4 774.7,194.5 774.8,199.5 774.9,196.3 775.0,207.0 775.1,188.9 775.2,209.6 775.3,200.0 775.4,199.4 775.5,201.7 775.6,198.8 775.7,199.5 775.8,207.2 775.9,205.8 776.0,188.5 776.1,206.1 776.2,194.6 776.3,210.1 776.4,190.0 776.5,205.6 776.6,198.4 776.7,190.8 776.8,197.6 776.9,197.9 777.0,200.5 777.1,187.9 777.2,211.1 777.3,195.4 777.4,206.4 777.5,206.5 777.6,192.1 777.7,195.7 777.8,192.8 777.9,199.0 778.0,199.6 778.1,214.2 778.2,200.2 778.3,199.6 778.4,202.8 778.5,185.0 778.6,191.9 778.7,195.5 778.8,212.2 778.9,198.7 779.0,206.2 779.1,193.4 779.2,189.2 779.3,207.7 779.4,200.7 779.5,199.3 779.6,195.2 779.7,202.1 779.8,202.6 779.9,191.7 780.0,188.5 780.1,197.9 780.2,202.5 780.3,187.3 780.4,203.4 780.5,195.3 780.6,186.2 780.7,207.8 780.8,202.2 780.9,217.2 781.0,189.8 781.1,200.4 781.2,186.4 781.3,206.3 781.4,207.7 781.5,182.1 781.6,185.6 781.7,198.3 781.8,202.0 781.9,199.0 782.0,208.6 782.1,191.7 782.2,200.0 782.3,184.5 782.4,201.0 782.5,217.8 782.6,184.8 782.7,178.3 782.8,207.5 782.9,226.4 783.0,203.0 783.1,180.3 783.2,233.1 783.3,220.9 783.4,199.9 783.5,120.0 783.6,196.6 783.7,180.5 783.8,203.2 783.9,267.0 784.0,235.6 784.1,169.8 784.2,159.6 784.3,194.4 784.4,199.6 784.5,198.7 784.6,205.5 784.7,193.7 784.8,249.3 784.9,250.8 785.0,202.9 785.1,168.5 785.2,157.2 785.3,197.6 785.4,255.0 785.5,175.2 785.6,216.2 785.7,191.7 785.8,202.7 785.9,188.3 786.0,186.6 786.1,202.2 786.2,226.1 786.3,174.3 786.4,248.1 786.5,174.3 786.6,240.0 786.7,155.6 786.8,234.9 786.9,152.5 787.0,195.1 787.1,186.7 787.2,187.0 787.3,221.1 787.4,218.3 787.5,161.0 787.6,223.2 787.7,233.3 787.8,165.2 787.9,181.4 788.0,191.5 788.1,190.8 788.2,186.9 788.3,201.2 788.4,192.0 788.5,215.5 788.6,204.7 788.7,219.7 788.8,196.4 788.9,206.8 789.0,184.5 789.1,198.7 789.2,191.8 789.3,167.9 789.4,179.9 789.5,196.7 789.6,189.2 789.7,193.9 789.8,205.0 789.9,177.6 790.0,150.0 790.1,218.1 790.2,180.8 790.3,186.1 790.4,250.0 790.5,183.2 790.6,199.8 790.7,165.3 790.8,200.1 790.9,214.0 791.0,180.6 791.1,180.2 791.2,192.3 791.3,206.6 791.4,204.7 791.5,210.8 791.6,206.0 791.7,214.1 791.8,215.5 791.9,195.0 792.0,184.9 792.1,194.6 792.2,190.3 792.3,173.1 792.4,205.8 792.5,200.3 792.6,225.5 792.7,188.8 792.8,168.1 792.9,201.7 793.0,192.6 793.1,191.9 793.2,207.8 793.3,199.6 793.4,194.4 793.5,196.5 793.6,191.0 793.7,192.6 793.8,222.2 793.9,193.2 794.0,211.1 794.1,196.0 794.2,202.7 794.3,202.6 794.4,197.8 794.5,203.8 794.6,189.3 794.7,197.6 794.8,207.8 794.9,211.8 795.0,204.7 795.1,193.5 795.2,194.5 795.3,202.1 795.4,199.9 795.5,182.6 795.6,198.9 795.7,188.4 795.8,218.6 795.9,188.6 796.0,174.1 796.1,191.5 796.2,212.9 796.3,208.5 796.4,195.9 796.5,199.0 796.6,178.7 796.7,216.0 796.8,182.0 796.9,188.2 797.0,200.8 797.1,216.8 797.2,202.5 797.3,183.4 797.4,208.7 797.5,174.4 797.6,178.4 797.7,180.3 797.8,182.8 797.9,183.2 798.0,202.8 798.1,198.3 798.2,184.4 798.3,182.6 798.4,203.0 798.5,206.2 798.7,203.3 798.8,182.3 798.9,198.7 799.0,194.6 799.1,189.8 799.2,199.0 799.3,196.0 799.4,194.5 799.5,216.1 799.6,189.8 799.7,220.6 799.8,218.5 799.9,183.7 800.0,200.8 800.1,195.7 800.2,202.9 800.3,190.4 800.4,196.3 800.5,186.4 800.6,208.4 800.7,202.7 800.8,189.4 800.9,202.0 801.0,193.3 801.1,215.1 801.2,177.5 801.3,200.1 801.4,190.2 801.5,209.2 801.6,207.0 801.7,209.1 801.8,207.3 801.9,202.4 802.0,215.1 802.1,196.3 802.2,179.5 802.3,207.4 802.4,214.5 802.5,213.5 802.6,216.9 802.7,175.5 802.8,196.4 802.9,191.4 803.0,220.0 803.1,210.5 803.2,186.2 803.3,203.8 803.4,206.6 803.5,214.7 803.6,196.4 803.7,196.9 803.8,198.8 803.9,198.0 804.0,208.4 804.1,214.4 804.2,205.3 804.3,193.5 804.4,208.0 804.5,194.6 804.6,182.4 804.7,190.6 804.8,208.0 804.9,195.1 805.0,194.6 805.1,191.0 805.2,213.3 805.3,198.3 805.4,200.0 805.5,196.6 805.6,196.3 805.7,184.0 805.8,189.5 805.9,199.5 806.0,186.6 806.1,191.9 806.2,194.9 806.3,201.7 806.4,198.7 806.5,210.0 806.6,207.7 806.7,194.0 806.8,205.6 806.9,191.8 807.0,198.5 807.1,206.7 807.2,204.7 807.3,204.7 807.4,197.5 807.5,190.8 807.6,201.2 807.7,178.4 807.8,182.9 807.9,207.8 808.0,187.6 808.1,193.6 808.2,194.4 808.3,195.1 808.4,191.9 808.5,208.6 808.6,212.3 808.7,202.6 808.8,200.4 808.9,187.1 809.0,207.9 809.1,184.6 809.2,198.2 809.3,203.3 809.4,201.2 809.5,203.6 809.6,203.4 809.7,195.5 809.8,198.0 809.9,194.0 810.0,211.2 810.1,192.3 810.2,191.2 810.3,196.3 810.4,207.3 810.5,205.3 810.6,197.7 810.7,200.1 810.8,187.9 810.9,187.8 811.0,180.6 811.1,189.7 811.2,205.4 811.3,210.3 811.4,200.1 811.5,188.5 811.6,210.5 811.7,198.7 811.8,197.6 811.9,195.3 812.0,200.1 812.1,194.8 812.2,183.8 812.3,198.9 812.4,204.5 812.5,197.0 812.6,187.8 812.7,191.8 812.8,194.8 812.9,193.2 813.0,190.2 813.1,197.1 813.2,197.7 813.3,194.7 813.4,189.3 813.5,194.2 813.6,192.3 813.7,202.3 813.8,211.7 813.9,203.3 814.0,194.6 814.1,202.0 814.2,203.2 814.3,196.9 814.4,207.3 814.5,196.1 814.6,184.5 814.7,198.5 814.8,201.3 814.9,196.9 815.0,194.9 815.1,197.9 815.2,208.0 815.3,202.8 815.4,197.6 815.5,192.6 815.6,192.7 815.7,192.3 815.8,200.8 815.9,202.1 816.0,202.5 816.1,195.2 816.2,205.3 816.3,195.8 816.4,196.5 816.5,201.5 816.6,197.1 816.7,199.3 816.8,199.2 816.9,184.6 817.0,200.7 817.1,202.3 817.2,196.9 817.3,194.3 817.4,198.0 817.5,196.5 817.6,213.7 817.7,208.6 817.8,202.5 817.9,200.8 818.0,202.4 818.1,200.9 818.2,206.1 818.3,198.4 818.4,207.5 818.5,194.0 818.6,195.2 818.7,203.7 818.8,199.8 818.9,195.2 819.0,201.6 819.1,200.7 819.2,191.3 819.3,193.9 819.4,193.4 819.5,197.0 819.6,201.4 819.7,194.8 819.8,192.6 819.9,191.8 820.0,197.2 820.1,192.8 820.2,194.4 820.3,193.1 820.4,213.9 820.5,203.7 820.6,193.9 820.7,202.5 820.8,204.8 820.9,201.3 821.0,195.6 821.1,193.9 821.2,201.2 821.3,211.4 821.4,206.5 821.5,190.5 821.6,209.4 821.7,205.6 821.8,189.6 821.9,192.8 822.0,194.6 822.1,192.6 822.2,206.4 822.3,207.4 822.4,188.7 822.5,222.4 822.6,201.8 822.7,201.2 822.8,174.4 822.9,199.7 823.0,198.5 823.1,197.4 823.2,199.2 823.3,191.2 823.4,208.4 823.5,206.3 823.6,182.0 823.7,211.4 823.8,216.4 823.9,212.4 824.0,204.1 824.1,185.0 824.2,201.5 824.3,195.0 824.4,178.3 824.5,193.9 824.6,190.3 824.7,205.3 824.8,210.5 824.9,190.2 825.0,192.2 825.1,184.2 825.2,186.8 825.3,193.1 825.4,194.5 825.5,186.3 825.6,186.1 825.7,196.7 825.8,204.1 825.9,190.4 826.0,204.3 826.1,207.5 826.2,191.1 826.3,201.2 826.4,208.3 826.5,186.3 826.6,223.7 826.7,195.9 826.8,182.2 826.9,221.5 827.0,203.9 827.1,184.8 827.2,203.1 827.3,208.3 827.4,218.1 827.5,191.5 827.6,205.9 827.7,185.4 827.8,190.4 827.9,214.9 828.0,187.9 828.1,212.4 828.2,203.4 828.3,224.5 828.4,198.5 828.5,203.8 828.6,187.6 828.7,206.1 828.8,176.3 828.9,213.9 829.0,203.8 829.1,208.9 829.2,223.4 829.3,190.1 829.4,196.8 829.5,197.4 829.6,203.0 829.7,197.9 829.8,204.6 829.9,194.5 830.0,203.3 830.1,207.1 830.2,189.5 830.3,200.4 830.4,200.1 830.5,190.4 830.6,198.2 830.7,191.6 830.8,202.8 830.9,203.4 831.0,192.2 831.1,197.0 831.2,203.2 831.3,210.0 831.4,196.7 831.5,198.0 831.6,200.4 831.7,208.0 831.8,198.4 832.0,185.9 832.1,192.0 832.2,202.8 832.3,197.3 832.4,199.2 832.5,207.9 832.6,200.3 832.7,206.6 832.8,203.0 832.9,198.1 833.0,197.3 833.1,198.3 833.2,200.1 833.3,191.2 833.4,193.6 833.5,198.6 833.6,199.1 833.7,203.8 833.8,190.0 833.9,202.8 834.0,199.1 834.1,197.5 834.2,197.7 834.3,198.8 834.4,196.1 834.5,206.2 834.6,199.7 834.7,196.8 834.8,196.0 834.9,187.8 835.0,197.9 835.1,200.1 835.2,200.0 835.3,196.0 835.4,198.2 835.5,199.9 835.6,191.5 835.7,201.0 835.8,192.0 835.9,194.6 836.0,203.6 836.1,200.8 836.2,196.6 836.3,206.6 836.4,194.6 836.5,198.8 836.6,199.1 836.7,203.5 836.8,192.5 836.9,189.9 837.0,196.7 837.1,201.4 837.2,202.1 837.3,202.0 837.4,200.5 837.5,192.4 837.6,189.1 837.7,189.4 837.8,199.1 837.9,194.7 838.0,197.9 838.1,196.5 838.2,197.3 838.3,194.7 838.4,198.4 838.5,198.4 838.6,197.8 838.7,195.0 838.8,193.0 838.9,205.9 839.0,202.9 839.1,198.8 839.2,195.7 839.3,201.5 839.4,199.2 839.5,202.8 839.6,195.3 839.7,201.8 839.8,208.7 839.9,193.9 840.0,199.9 840.1,191.8 840.2,193.9 840.3,194.0 840.4,196.3 840.5,198.3 840.6,199.6 840.7,194.5 840.8,188.0 840.9,198.9 841.0,202.3 841.1,189.4 841.2,198.3 841.3,196.1 841.4,196.4 841.5,199.8 841.6,202.7 841.7,202.5 841.8,192.5 841.9,195.7 842.0,192.2 842.1,198.4 842.2,202.1 842.3,197.0 842.4,197.8 842.5,194.8 842.6,203.6 842.7,194.2 842.8,196.4 842.9,204.6 843.0,199.3 843.1,202.8 843.2,191.1 843.3,198.2 843.4,205.3 843.5,200.1 843.6,195.9 843.7,200.1 843.8,195.3 843.9,191.2 844.0,200.4 844.1,203.0 844.2,196.8 844.3,197.9 844.4,194.7 844.5,197.5 844.6,202.9 844.7,201.4 844.8,197.3 844.9,207.8 845.0,198.1 845.1,192.3 845.2,196.9 845.3,202.4 845.4,189.3 845.5,199.6 845.6,202.5 845.7,201.4 845.8,205.5 845.9,205.1 846.0,198.0 846.1,193.7 846.2,198.6 846.3,195.7 846.4,196.8 846.5,193.4 846.6,197.3 846.7,194.5 846.8,203.7 846.9,191.4 847.0,195.2 847.1,197.4 847.2,196.3 847.3,195.1 847.4,201.6 847.5,202.9 847.6,202.0 847.7,198.4 847.8,199.6 847.9,202.6 848.0,192.3 848.1,199.6 848.2,193.7 848.3,196.9 848.4,197.6 848.5,194.3 848.6,200.7 848.7,197.0 848.8,202.8 848.9,197.8 849.0,200.3 849.1,200.9 849.2,198.7 849.3,197.2 849.4,194.1 849.5,202.1 849.6,200.7 849.7,205.6 849.8,203.6 849.9,195.5 850.0,195.7 850.1,205.4 850.2,201.5 850.3,186.4 850.4,191.1 850.5,199.6 850.6,199.8 850.7,191.6 850.8,191.4 850.9,194.4 851.0,192.8 851.1,198.8 851.2,201.1 851.3,202.4 851.4,192.7 851.5,199.1 851.6,199.5 851.7,201.8 851.8,194.8 851.9,202.5 852.0,192.9 852.1,196.1 852.2,203.1 852.3,204.5 852.4,202.6 852.5,201.2 852.6,200.1 852.7,198.7 852.8,196.4 852.9,201.8 853.0,193.9 853.1,198.7 853.2,197.7 853.3,195.7 853.4,205.9 853.5,206.5 853.6,208.1 853.7,202.4 853.8,205.3 853.9,206.3 854.0,186.6 854.1,193.9 854.2,194.1 854.3,220.5 854.4,174.9 854.5,203.4 854.6,201.2 854.7,207.8 854.8,185.7 854.9,201.1 855.0,247.0 855.1,205.0 855.2,218.4 855.3,215.2 855.4,228.5 855.5,166.0 855.6,205.5 855.7,205.7 855.8,213.4 855.9,207.0 856.0,202.2 856.1,197.6 856.2,185.8 856.3,192.5 856.4,196.9 856.5,189.5 856.6,197.0 856.7,176.4 856.8,175.8 856.9,191.5 857.0,203.0 857.1,198.5 857.2,204.4 857.3,194.5 857.4,204.4 857.5,194.8 857.6,206.8 857.7,202.1 857.8,196.7 857.9,208.5 858.0,197.0 858.1,210.4 858.2,213.0 858.3,210.5 858.4,187.1 858.5,188.1 858.6,200.7 858.7,218.4 858.8,199.1 858.9,207.4 859.0,195.9 859.1,190.3 859.2,181.4 859.3,198.6 859.4,225.6 859.5,199.9 859.6,184.2 859.7,210.0 859.8,188.1 859.9,188.6 860.0,195.3 860.1,204.1 860.2,201.6 860.3,199.8 860.4,181.0 860.5,192.6 860.6,188.6 860.7,193.2 860.8,203.1 860.9,201.3 861.0,188.0 861.1,181.2 861.2,195.9 861.3,207.3 861.4,204.0 861.5,212.1 861.6,194.4 861.7,181.5 861.8,189.8 861.9,198.0 862.0,168.0 862.1,193.8 862.2,189.5 862.3,228.0 862.4,190.1 862.5,197.7 862.6,194.4 862.7,204.6 862.8,198.1 862.9,197.9 863.0,185.3 863.1,211.4 863.2,179.7 863.3,196.6 863.4,203.7 863.5,188.7 863.6,205.3 863.7,196.4 863.8,201.7 863.9,201.9 864.0,193.5 864.1,199.1 864.2,198.8 864.3,188.1 864.4,199.8 864.5,201.1 864.6,197.1 864.7,210.7 864.8,200.4 864.9,196.2 865.0,208.5 865.2,190.5 865.3,197.1 865.4,197.5 865.5,201.3 865.6,188.4 865.7,198.8 865.8,191.9 865.9,193.6 866.0,200.6 866.1,200.7 866.2,200.6 866.3,203.4 866.4,194.6 866.5,198.3 866.6,188.8 866.7,187.6 866.8,195.4 866.9,211.0 867.0,195.8 867.1,193.8 867.2,195.4 867.3,190.2 867.4,190.2 867.5,196.3 867.6,197.4 867.7,196.9 867.8,197.2 867.9,196.3 868.0,204.9 868.1,191.9 868.2,192.5 868.3,199.8 868.4,196.0 868.5,193.9 868.6,189.6 868.7,186.2 868.8,206.8 868.9,206.2 869.0,204.0 869.1,197.1 869.2,196.3 869.3,205.3 869.4,196.4 869.5,204.0 869.6,197.0 869.7,188.6 869.8,200.0 869.9,208.5 870.0,192.1 870.1,199.2 870.2,201.2 870.3,210.8 870.4,193.4 870.5,188.0 870.6,193.5 870.7,189.4 870.8,190.6 870.9,198.4 871.0,192.9 871.1,200.4 871.2,196.3 871.3,197.1 871.4,189.9 871.5,191.2 871.6,191.4 871.7,194.1 871.8,202.1 871.9,194.5 872.0,200.9 872.1,195.1 872.2,199.1 872.3,194.3 872.4,194.4 872.5,200.4 872.6,207.3 872.7,193.7 872.8,199.5 872.9,196.4 873.0,195.6 873.1,194.5 873.2,205.1 873.3,205.0 873.4,195.6 873.5,196.1 873.6,194.2 873.7,197.5 873.8,198.6 873.9,205.8 874.0,200.5 874.1,197.4 874.2,193.5 874.3,199.9 874.4,189.6 874.5,199.0 874.6,197.2 874.7,198.8 874.8,187.3 874.9,192.6 875.0,201.3 875.1,190.5 875.2,197.5 875.3,198.6 875.4,200.6 875.5,197.5 875.6,190.3 875.7,196.8 875.8,194.2 875.9,201.3 876.0,207.9 876.1,208.2 876.2,194.5 876.3,200.7 876.4,208.3 876.5,206.1 876.6,193.1 876.7,195.1 876.8,205.6 876.9,188.1 877.0,195.9 877.1,195.5 877.2,193.1 877.3,200.6 877.4,193.5 877.5,199.4 877.6,197.4 877.7,189.0 877.8,197.1 877.9,201.8 878.0,202.2 878.1,189.1 878.2,198.1 878.3,199.7 878.4,191.8 878.5,194.9 878.6,200.8 878.7,184.5 878.8,199.8 878.9,197.2 879.0,196.9 879.1,197.9 879.2,192.9 879.3,196.0 879.4,205.1 879.5,199.1 879.6,196.9 879.7,204.5 879.8,186.3 879.9,205.0 880.0,197.2 880.1,189.8 880.2,204.3 880.3,200.6 880.4,201.4 880.5,194.3 880.6,194.6 880.7,202.5 880.8,195.4 880.9,208.0 881.0,194.1 881.1,198.8 881.2,196.6 881.3,197.9 881.4,200.1 881.5,199.2 881.6,190.2 881.7,207.6 881.8,203.6 881.9,202.0 882.0,203.2 882.1,199.2 882.2,200.2 882.3,194.6 882.4,192.4 882.5,204.2 882.6,192.6 882.7,201.1 882.8,199.5 882.9,203.8 883.0,198.1 883.1,197.7 883.2,197.3 883.3,196.9 883.4,205.3 883.5,196.1 883.6,204.0 883.7,196.7 883.8,201.5 883.9,193.5 884.0,202.3 884.1,199.2 884.2,193.9 884.3,189.6 884.4,205.0 884.5,197.1 884.6,192.8 884.7,207.4 884.8,192.8 884.9,202.3 885.0,202.5 885.1,200.2 885.2,199.5 885.3,201.4 885.4,194.8 885.5,197.1 885.6,206.1 885.7,205.6 885.8,197.5 885.9,202.0 886.0,194.8 886.1,197.3 886.2,199.2 886.3,190.1 886.4,199.2 886.5,189.0 886.6,200.3 886.7,195.4 886.8,189.4 886.9,199.7 887.0,204.0 887.1,192.1 887.2,201.3 887.3,209.2 887.4,197.4 887.5,197.5 887.6,198.9 887.7,197.5 887.8,199.2 887.9,202.4 888.0,192.3 888.1,194.4 888.2,199.2 888.3,199.1 888.4,198.8 888.5,194.6 888.6,195.3 888.7,205.7 888.8,195.8 888.9,193.5 889.0,195.0 889.1,201.5 889.2,202.2 889.3,198.5 889.4,200.3 889.5,205.1 889.6,202.3 889.7,191.8 889.8,198.4 889.9,200.2 890.0,195.9 890.1,201.0 890.2,196.4 890.3,197.9 890.4,194.0 890.5,200.6 890.6,199.6 890.7,202.3 890.8,198.6 890.9,200.0 891.0,192.7 891.1,199.5 891.2,190.6 891.3,198.1 891.4,203.8 891.5,199.6 891.6,200.7 891.7,206.8 891.8,197.1 891.9,197.7 892.0,194.2 892.1,198.7 892.2,199.3 892.3,199.6 892.4,193.6 892.5,191.9 892.6,196.7 892.7,196.1 892.8,193.4 892.9,202.7 893.0,203.6 893.1,204.2 893.2,196.5 893.3,198.2 893.4,196.6 893.5,198.2 893.6,193.9 893.7,190.1 893.8,194.3 893.9,207.9 894.0,198.6 894.1,193.0 894.2,201.2 894.3,201.8 894.4,202.4 894.5,198.6 894.6,200.7 894.7,197.2 894.8,193.2 894.9,201.9 895.0,194.2 895.1,194.9 895.2,197.9 895.3,204.6 895.4,202.3 895.5,202.2 895.6,195.3 895.7,201.9 895.8,196.2 895.9,198.8 896.0,207.4 896.1,197.1 896.2,202.9 896.3,196.1 896.4,196.0 896.5,197.9 896.6,197.4 896.7,190.5 896.8,190.5 896.9,190.6 897.0,197.7 897.1,206.1 897.2,194.8 897.3,201.2 897.4,198.4 897.5,196.9 897.6,202.8 897.7,199.7 897.8,188.9 897.9,204.7 898.0,196.6 898.1,202.5 898.2,195.3 898.4,200.4 898.5,196.2 898.6,201.8 898.7,201.5 898.8,191.9 898.9,198.5 899.0,190.4 899.1,202.5 899.2,202.8 899.3,197.5 899.4,201.8 899.5,202.0 899.6,199.2 899.7,191.2 899.8,198.6 899.9,200.6 900.0,190.3 900.1,202.9 900.2,185.8 900.3,195.0 900.4,194.4 900.5,202.0 900.6,194.5 900.7,201.8 900.8,199.2 900.9,197.7 901.0,196.8 901.1,197.1 901.2,202.4 901.3,206.6 901.4,196.5 901.5,206.4 901.6,198.3 901.7,201.3 901.8,201.0 901.9,198.9 902.0,203.8 902.1,195.2 902.2,194.8 902.3,187.9 902.4,209.5 902.5,198.3 902.6,193.3 902.7,199.3 902.8,200.8 902.9,195.8 903.0,198.0 903.1,198.3 903.2,199.7 903.3,200.6 903.4,189.2 903.5,192.6 903.6,202.4 903.7,195.3 903.8,190.3 903.9,207.6 904.0,199.2 904.1,200.8 904.2,197.2 904.3,194.5 904.4,198.6 904.5,197.1 904.6,199.5 904.7,192.0 904.8,199.4 904.9,204.0 905.0,203.5 905.1,195.2 905.2,193.9 905.3,202.0 905.4,202.5 905.5,195.0 905.6,209.2 905.7,195.4 905.8,199.2 905.9,193.9 906.0,197.2 906.1,195.1 906.2,197.0 906.3,196.6 906.4,202.2 906.5,199.2 906.6,201.4 906.7,195.4 906.8,204.9 906.9,194.6 907.0,193.6 907.1,196.7 907.2,200.6 907.3,198.8 907.4,198.4 907.5,196.9 907.6,195.3 907.7,200.4 907.8,193.1 907.9,188.0 908.0,192.3 908.1,201.8 908.2,200.5 908.3,195.4 908.4,195.7 908.5,195.6 908.6,205.7 908.7,199.8 908.8,202.9 908.9,204.8 909.0,200.1 909.1,209.7 909.2,199.2 909.3,198.2 909.4,201.8 909.5,197.8 909.6,204.8 909.7,194.2 909.8,198.2 909.9,197.4 910.0,199.4 910.1,195.3 910.2,196.0 910.3,192.6 910.4,195.2 910.5,187.7 910.6,199.4 910.7,198.4 910.8,190.9 910.9,203.7 911.0,203.9 911.1,201.0 911.2,199.8 911.3,193.1 911.4,195.5 911.5,190.4 911.6,196.0 911.7,197.8 911.8,198.3 911.9,202.0 912.0,188.3 912.1,207.0 912.2,195.1 912.3,201.0 912.4,194.9 912.5,199.3 912.6,197.1 912.7,192.6 912.8,193.7 912.9,194.0 913.0,193.4 913.1,189.0 913.2,202.1 913.3,201.8 913.4,204.2 913.5,195.5 913.6,196.0 913.7,200.0 913.8,202.3 913.9,204.1 914.0,197.8 914.1,204.3 914.2,199.4 914.3,192.6 914.4,196.2 914.5,205.7 914.6,198.8 914.7,201.4 914.8,204.1 914.9,203.7 915.0,195.2 915.1,194.3 915.2,203.6 915.3,196.3 915.4,191.5 915.5,196.8 915.6,197.3 915.7,195.5 915.8,192.9 915.9,198.5 916.0,198.4 916.1,204.9 916.2,199.8 916.3,204.7 916.4,193.1 916.5,190.6 916.6,199.0 916.7,199.9 916.8,199.6 916.9,203.4 917.0,208.3 917.1,198.7 917.2,206.9 917.3,201.7 917.4,205.0 917.5,198.2 917.6,203.3 917.7,199.3 917.8,198.5 917.9,203.6 918.0,195.9 918.1,199.6 918.2,186.0 918.3,196.4 918.4,198.4 918.5,199.6 918.6,204.4 918.7,198.3 918.8,202.8 918.9,198.1 919.0,201.8 919.1,200.6 919.2,194.0 919.3,199.4 919.4,201.8 919.5,206.2 919.6,199.4 919.7,200.4 919.8,195.2 919.9,203.3 920.0,194.7 920.1,195.4 920.2,199.7 920.3,201.3 920.4,197.4 920.5,195.4 920.6,205.6 920.7,197.0 920.8,201.1 920.9,201.4 921.0,198.0 921.1,198.1 921.2,202.7 921.3,201.5 921.4,207.3 921.5,201.8 921.6,200.1 921.7,192.6 921.8,197.0 921.9,194.2 922.0,205.9 922.1,194.6 922.2,201.4 922.3,196.4 922.4,201.2 922.5,202.4 922.6,199.8 922.7,199.2 922.8,195.0 922.9,197.5 923.0,197.9 923.1,200.1 923.2,199.3 923.3,202.0 923.4,204.1 923.5,197.9 923.6,196.5 923.7,202.7 923.8,200.8 923.9,196.3 924.0,197.9 924.1,201.4 924.2,201.3 924.3,200.8 924.4,194.0 924.5,205.1 924.6,199.3 924.7,189.7 924.8,197.3 924.9,199.1 925.0,198.7 925.1,195.1 925.2,200.9 925.3,196.4 925.4,199.0 925.5,200.6 925.6,196.8 925.7,199.3 925.8,199.4 925.9,192.5 926.0,192.6 926.1,199.0 926.2,186.6 926.3,200.6 926.4,191.0 926.5,192.9 926.6,196.3 926.7,202.5 926.8,205.7 926.9,199.0 927.0,202.5 927.1,190.0 927.2,193.5 927.3,199.0 927.4,195.8 927.5,195.8 927.6,191.9 927.7,197.7 927.8,198.6 927.9,205.1 928.0,195.1 928.1,202.2 928.2,206.9 928.3,200.7 928.4,199.8 928.5,207.7 928.6,203.7 928.7,195.3 928.8,193.3 928.9,193.5 929.0,198.8 929.1,200.9 929.2,203.3 929.3,205.8 929.4,196.4 929.5,196.5 929.6,208.0 929.7,196.9 929.8,195.1 929.9,193.4 930.0,197.1 930.1,201.8 930.2,195.4 930.3,196.0 930.4,200.9 930.5,203.2 930.6,196.7 930.7,193.1 930.8,195.9 930.9,208.2 931.0,205.8 931.1,196.0 931.2,203.7 931.3,192.7 931.4,193.9 931.5,199.9 931.7,197.0 931.8,206.6 931.9,198.8 932.0,200.2 932.1,198.2 932.2,193.8 932.3,185.9 932.4,197.0 932.5,194.3 932.6,198.2 932.7,205.6 932.8,196.9 932.9,195.9 933.0,197.6 933.1,199.3 933.2,202.7 933.3,190.6 933.4,194.0 933.5,190.0 933.6,193.0 933.7,195.0 933.8,200.9 933.9,201.3 934.0,192.5 934.1,198.6 934.2,200.8 934.3,191.4 934.4,199.0 934.5,212.0 934.6,195.4 934.7,185.4 934.8,191.3 934.9,201.5 935.0,197.3 935.1,199.4 935.2,194.0 935.3,192.7 935.4,199.0 935.5,188.8 935.6,197.1 935.7,195.6 935.8,195.7 935.9,187.1 936.0,199.8 936.1,200.3 936.2,190.1 936.3,198.8 936.4,193.9 936.5,197.7 936.6,183.0 936.7,194.0 936.8,202.7 936.9,201.4 937.0,193.8 937.1,187.8 937.2,201.5 937.3,210.9 937.4,204.4 937.5,199.1 937.6,198.2 937.7,187.7 937.8,196.6 937.9,197.1 938.0,198.9 938.1,194.7 938.2,196.2 938.3,199.5 938.4,206.3 938.5,200.9 938.6,199.6 938.7,202.6 938.8,202.1 938.9,209.3 939.0,196.2 939.1,204.4 939.2,204.7 939.3,188.5 939.4,195.3 939.5,205.5 939.6,206.2 939.7,198.6 939.8,202.1 939.9,210.2 940.0,194.0 940.1,195.7 940.2,194.3 940.3,188.2 940.4,197.5 940.5,200.4 940.6,201.4 940.7,201.9 940.8,202.0 940.9,200.1 941.0,203.6 941.1,192.8 941.2,186.6 941.3,187.8 941.4,203.2 941.5,211.6 941.6,197.4 941.7,202.0 941.8,193.3 941.9,199.0 942.0,189.5 942.1,194.9 942.2,198.2 942.3,195.3 942.4,198.4 942.5,196.6 942.6,192.4 942.7,196.4 942.8,188.9 942.9,198.6 943.0,196.0 943.1,201.3 943.2,194.8 943.3,204.2 943.4,200.6 943.5,203.8 943.6,194.4 943.7,201.0 943.8,211.4 943.9,198.3 944.0,195.8 944.1,192.9 944.2,196.4 944.3,198.9 944.4,201.9 944.5,198.0 944.6,194.6 944.7,190.1 944.8,203.3 944.9,201.4 945.0,191.0 945.1,194.4 945.2,191.4 945.3,199.4 945.4,197.1 945.5,201.7 945.6,192.2 945.7,196.1 945.8,201.3 945.9,196.9 946.0,195.2 946.1,195.3 946.2,198.9 946.3,200.4 946.4,197.0 946.5,189.9 946.6,202.9 946.7,194.2 946.8,194.9 946.9,196.7 947.0,191.0 947.1,197.5 947.2,196.1 947.3,197.3 947.4,197.8 947.5,198.1 947.6,204.2 947.7,187.6 947.8,196.3 947.9,192.0 948.0,200.5 948.1,193.4 948.2,195.9 948.3,193.2 948.4,193.4 948.5,207.6 948.6,203.1 948.7,195.9 948.8,187.9 948.9,197.6 949.0,201.5 949.1,195.3 949.2,197.7 949.3,189.3 949.4,201.5 949.5,198.6 949.6,198.4 949.7,196.2 949.8,192.9 949.9,192.5 950.0,200.4 950.1,198.5 950.2,200.2 950.3,201.5 950.4,191.0 950.5,202.2 950.6,190.8 950.7,201.2 950.8,197.3 950.9,200.6 951.0,198.0 951.1,199.2 951.2,206.4 951.3,194.9 951.4,193.4 951.5,201.9 951.6,201.9 951.7,201.8 951.8,205.4 951.9,194.2 952.0,197.2 952.1,201.0 952.2,192.4 952.3,195.5 952.4,196.7 952.5,205.3 952.6,203.4 952.7,200.8 952.8,198.1 952.9,201.3 953.0,187.8 953.1,198.7 953.2,201.0 953.3,187.8 953.4,201.9 953.5,195.4 953.6,190.5 953.7,201.1 953.8,184.8 953.9,200.2 954.0,203.4 954.1,199.6 954.2,193.7 954.3,205.4 954.4,189.8 954.5,206.7 954.6,205.2 954.7,205.8 954.8,199.8 954.9,203.4 955.0,199.3 955.1,202.9 955.2,204.2 955.3,201.3 955.4,193.2 955.5,194.2 955.6,195.4 955.7,203.3 955.8,204.4 955.9,205.8 956.0,209.4 956.1,187.2 956.2,199.8 956.3,200.5 956.4,216.6 956.5,171.0 956.6,184.6 956.7,201.1 956.8,228.0 956.9,220.9 957.0,212.6 957.1,224.4 957.2,223.2 957.3,189.7 957.4,196.1 957.5,207.6 957.6,190.4 957.7,198.1 957.8,211.7 957.9,185.3 958.0,203.0 958.1,205.0 958.2,182.5 958.3,185.8 958.4,204.4 958.5,207.2 958.6,203.2 958.7,192.2 958.8,215.5 958.9,200.9 959.0,190.5 959.1,204.4 959.2,186.2 959.3,195.4 959.4,188.9 959.5,198.8 959.6,193.7 959.7,204.5 959.8,207.8 959.9,185.4 960.0,193.2 960.1,191.2 960.2,199.2 960.3,198.6 960.4,199.9 960.5,208.3 960.6,191.2 960.7,195.6 960.8,205.1 960.9,192.0 961.0,191.6 961.1,199.0 961.2,203.7 961.3,201.5 961.4,195.0 961.5,194.8 961.6,194.6 961.7,193.1 961.8,190.2 961.9,202.9 962.0,198.6 962.1,200.2 962.2,194.0 962.3,188.5 962.4,197.2 962.5,204.6 962.6,210.6 962.7,201.3 962.8,190.2 962.9,205.6 963.0,209.6 963.1,204.0 963.2,194.2 963.3,208.1 963.4,188.7 963.5,195.0 963.6,191.5 963.7,198.7 963.8,195.9 963.9,194.1 964.0,202.3 964.1,212.2 964.2,195.5 964.3,196.1 964.4,194.6 964.5,206.2 964.6,191.1 964.7,182.1 964.9,186.6 965.0,194.8 965.1,195.5 965.2,203.5 965.3,206.5 965.4,192.4 965.5,180.2 965.6,189.3 965.7,201.2 965.8,200.7 965.9,196.1 966.0,182.1 966.1,197.6 966.2,197.7 966.3,191.6 966.4,209.6 966.5,196.0 966.6,194.6 966.7,205.3 966.8,201.4 966.9,203.7 967.0,205.1 967.1,189.5 967.2,194.8 967.3,196.5 967.4,200.2 967.5,206.3 967.6,204.9 967.7,185.3 967.8,207.3 967.9,210.9 968.0,200.5 968.1,189.8 968.2,194.3 968.3,205.7 968.4,205.2 968.5,208.0 968.6,200.7 968.7,187.4 968.8,202.3 968.9,204.0 969.0,191.7 969.1,187.6 969.2,179.0 969.3,204.3 969.4,207.8 969.5,194.4 969.6,208.1 969.7,196.2 969.8,201.7 969.9,199.9 970.0,216.0 970.1,201.7 970.2,194.9 970.3,198.4 970.4,191.9 970.5,193.5 970.6,183.2 970.7,196.3 970.8,197.3 970.9,202.6 971.0,200.7 971.1,198.3 971.2,189.5 971.3,196.7 971.4,201.7 971.5,195.3 971.6,189.3 971.7,198.2 971.8,202.9 971.9,197.8 972.0,188.2 972.1,205.9 972.2,193.4 972.3,197.8 972.4,188.6 972.5,204.7 972.6,199.8 972.7,186.0 972.8,193.6 972.9,203.5 973.0,203.4 973.1,188.7 973.2,203.4 973.3,196.7 973.4,194.6 973.5,195.5 973.6,196.3 973.7,194.0 973.8,194.4 973.9,200.7 974.0,207.3 974.1,201.6 974.2,205.7 974.3,206.2 974.4,194.7 974.5,193.4 974.6,205.1 974.7,196.6 974.8,197.9 974.9,203.9 975.0,208.5 975.1,198.2 975.2,197.1 975.3,197.5 975.4,198.6 975.5,198.3 975.6,199.3 975.7,209.9 975.8,201.4 975.9,194.4 976.0,202.0 976.1,205.9 976.2,192.9 976.3,199.2 976.4,197.6 976.5,198.3 976.6,195.7 976.7,194.2 976.8,202.1 976.9,198.4 977.0,217.5 977.1,180.2 977.2,200.3 977.3,196.9 977.4,203.9 977.5,189.8 977.6,205.5 977.7,195.2 977.8,224.0 977.9,210.7 978.0,193.4 978.1,198.7 978.2,198.0 978.3,191.7 978.4,182.1 978.5,197.3 978.6,198.0 978.7,201.9 978.8,200.0 978.9,196.8 979.0,191.1 979.1,204.5 979.2,184.5 979.3,196.3 979.4,193.5 979.5,195.3 979.6,193.3 979.7,200.2 979.8,196.8 979.9,196.5 980.0,202.4 980.1,197.6 980.2,197.7 980.3,200.7 980.4,198.2 980.5,192.6 980.6,203.4 980.7,198.1 980.8,200.5 980.9,194.7 981.0,198.0 981.1,195.6 981.2,198.0 981.3,195.3 981.4,196.4 981.5,201.0 981.6,196.9 981.7,200.0 981.8,199.1 981.9,198.1 982.0,195.7 982.1,196.3 982.2,202.7 982.3,200.9 982.4,195.9 982.5,194.3 982.6,202.2 982.7,191.4 982.8,201.6 982.9,198.8 983.0,198.9 983.1,199.6 983.2,196.4 983.3,194.2 983.4,198.9 983.5,199.3 983.6,208.8 983.7,202.2 983.8,196.3 983.9,200.4 984.0,193.1 984.1,199.2 984.2,193.7 984.3,202.6 984.4,196.4 984.5,204.4 984.6,195.5 984.7,196.7 984.8,201.0 984.9,196.2 985.0,196.1 985.1,202.3 985.2,196.9 985.3,202.5 985.4,200.8 985.5,190.9 985.6,195.6 985.7,192.6 985.8,201.0 985.9,198.3 986.0,193.1 986.1,192.5 986.2,199.1 986.3,200.1 986.4,196.7 986.5,205.0 986.6,197.4 986.7,193.9 986.8,194.3 986.9,191.3 987.0,199.0 987.1,197.6 987.2,203.3 987.3,202.6 987.4,198.4 987.5,199.6 987.6,197.8 987.7,207.1 987.8,192.0 987.9,195.5 988.0,200.3 988.1,199.0 988.2,198.9 988.3,190.2 988.4,195.4 988.5,194.7 988.6,197.8 988.7,200.1 988.8,197.2 988.9,200.3 989.0,195.3 989.1,198.6 989.2,205.3 989.3,196.3 989.4,199.6 989.5,196.6 989.6,198.6 989.7,196.4 989.8,195.5 989.9,208.7 990.0,201.0 990.1,199.1 990.2,199.0 990.3,194.1 990.4,200.7 990.5,198.3 990.6,197.2 990.7,203.3 990.8,197.6 990.9,197.9 991.0,197.0 991.1,204.5 991.2,203.3 991.3,195.2 991.4,197.4 991.5,199.7 991.6,199.1 991.7,199.8 991.8,196.8 991.9,198.4 992.0,196.8 992.1,195.8 992.2,194.7 992.3,194.5 992.4,197.2 992.5,198.6 992.6,199.8 992.7,200.0 992.8,197.6 992.9,200.1 993.0,200.8 993.1,193.8 993.2,198.4 993.3,197.0 993.4,196.2 993.5,195.2 993.6,200.0 993.7,197.8 993.8,192.6 993.9,193.6 994.0,196.3 994.1,199.8 994.2,196.3 994.3,201.2 994.4,201.5 994.5,198.1 994.6,197.5 994.7,199.2 994.8,196.2 994.9,199.1 995.0,193.8 995.1,199.0 995.2,200.0 995.3,200.2 995.4,198.1 995.5,201.0 995.6,198.7 995.7,198.5 995.8,197.7 995.9,201.8 996.0,198.8 996.1,195.8 996.2,194.7 996.3,199.2 996.4,200.6 996.5,194.8 996.6,199.5 996.7,198.6 996.8,200.6 996.9,198.0 997.0,196.4 997.1,201.5 997.2,198.2 997.3,190.7 997.4,194.0 997.5,197.7 997.6,195.0 997.7,198.2 997.8,198.9 997.9,200.1 998.1,198.7 998.2,192.5 998.3,196.5 998.4,201.0 998.5,193.2 998.6,196.4 998.7,195.3 998.8,194.7 998.9,198.5 999.0,195.1 999.1,197.5 999.2,196.0 999.3,196.4 999.4,202.4 999.5,204.5 999.6,193.4 999.7,199.7 999.8,193.5 999.9,198.7 1000.0,196.6 1000.1,196.4 1000.2,203.6 1000.3,193.2 1000.4,194.8 1000.5,198.7 1000.6,200.4 1000.7,199.5 1000.8,199.7 1000.9,198.6 1001.0,197.2 1001.1,197.6 1001.2,201.7 1001.3,198.2 1001.4,192.0 1001.5,195.8 1001.6,197.4 1001.7,197.9 1001.8,194.2 1001.9,202.2 1002.0,195.3 1002.1,202.2 1002.2,198.1 1002.3,195.6 1002.4,198.4 1002.5,198.9 1002.6,196.7 1002.7,196.2 1002.8,193.9 1002.9,197.4 1003.0,204.3 1003.1,196.4 1003.2,200.1 1003.3,200.1 1003.4,195.5 1003.5,197.6 1003.6,200.6 1003.7,198.8 1003.8,202.7 1003.9,198.1 1004.0,199.1 1004.1,200.4 1004.2,197.2 1004.3,199.4 1004.4,198.5 1004.5,201.1 1004.6,198.8 1004.7,197.2 1004.8,199.6 1004.9,196.2 1005.0,198.8 1005.1,203.9 1005.2,197.1 1005.3,204.2 1005.4,192.4 1005.5,200.4 1005.6,195.0 1005.7,193.4 1005.8,200.7 1005.9,196.9 1006.0,192.1 1006.1,197.2 1006.2,201.3 1006.3,196.0 1006.4,199.7 1006.5,202.3 1006.6,200.0 1006.7,198.5 1006.8,199.2 1006.9,197.1 1007.0,202.0 1007.1,196.0 1007.2,199.4 1007.3,195.4 1007.4,196.2 1007.5,198.5 1007.6,200.7 1007.7,195.4 1007.8,198.0 1007.9,194.3 1008.0,196.9 1008.1,197.8 1008.2,199.8 1008.3,199.2 1008.4,198.8 1008.5,199.7 1008.6,195.8 1008.7,198.0 1008.8,202.3 1008.9,197.9 1009.0,201.8 1009.1,204.5 1009.2,197.2 1009.3,196.4 1009.4,196.8 1009.5,202.0 1009.6,195.6 1009.7,196.9 1009.8,197.6 1009.9,196.4 1010.0,201.5 1010.1,200.3 1010.2,201.7 1010.3,195.3 1010.4,194.0 1010.5,203.0 1010.6,195.4 1010.7,198.7 1010.8,198.1 1010.9,199.8 1011.0,202.7 1011.1,198.5 1011.2,197.3 1011.3,200.5 1011.4,197.6 1011.5,198.0 1011.6,196.8 1011.7,193.0 1011.8,201.4 1011.9,195.4 1012.0,196.9 1012.1,194.3 1012.2,198.2 1012.3,194.8 1012.4,197.5 1012.5,195.7 1012.6,199.4 1012.7,199.3 1012.8,199.2 1012.9,195.6 1013.0,193.4 1013.1,195.7 1013.2,195.0 1013.3,197.9 1013.4,197.4 1013.5,196.6 1013.6,196.4 1013.7,197.4 1013.8,199.8 1013.9,199.4 1014.0,202.5 1014.1,196.8 1014.2,193.4 1014.3,198.1 1014.4,200.1 1014.5,195.3 1014.6,194.0 1014.7,195.7 1014.8,201.3 1014.9,198.0 1015.0,198.2 1015.1,195.6 1015.2,202.3 1015.3,194.2 1015.4,200.0 1015.5,196.7 1015.6,198.4 1015.7,197.0 1015.8,198.8 1015.9,194.5 1016.0,197.0 1016.1,195.4 1016.2,200.2 1016.3,196.5 1016.4,195.9 1016.5,192.5 1016.6,198.8 1016.7,193.7 1016.8,198.8 1016.9,194.0 1017.0,202.2 1017.1,198.0 1017.2,198.2 1017.3,200.6 1017.4,187.3 1017.5,207.6 1017.6,196.3 1017.7,198.4 1017.8,198.2 1017.9,204.0 1018.0,200.9 1018.1,207.9 1018.2,212.6 1018.3,198.0 1018.4,228.8 1018.5,181.7 1018.6,176.7 1018.7,199.5 1018.8,191.6 1018.9,203.0 1019.0,193.0 1019.1,206.6 1019.2,203.3 1019.3,198.8 1019.4,215.4 1019.5,197.9 1019.6,199.0 1019.7,205.4 1019.8,198.4 1019.9,197.8 1020.0,180.6 1020.1,208.6 1020.2,197.7 1020.3,198.2 1020.4,185.9 1020.5,215.9 1020.6,177.4 1020.7,190.4 1020.8,181.9 1020.9,191.6 1021.0,206.8 1021.1,196.5 1021.2,183.4 1021.3,185.2 1021.4,193.8 1021.5,203.7 1021.6,201.1 1021.7,185.8 1021.8,207.1 1021.9,201.1 1022.0,180.0 1022.1,177.0 1022.2,197.3 1022.3,206.1 1022.4,210.2 1022.5,204.6 1022.6,181.5 1022.7,187.5 1022.8,210.6 1022.9,198.0 1023.0,209.5 1023.1,175.6 1023.2,207.8 1023.3,191.4 1023.4,191.5 1023.5,195.4 1023.6,199.1 1023.7,201.2 1023.8,191.5 1023.9,204.3 1024.0,191.4 1024.1,188.5 1024.2,199.2 1024.3,196.4 1024.4,193.6 1024.5,202.1 1024.6,194.0 1024.7,192.0 1024.8,201.5 1024.9,196.9 1025.0,195.3 1025.1,201.7 1025.2,208.8 1025.3,203.3 1025.4,208.4 1025.5,197.1 1025.6,193.6 1025.7,193.4 1025.8,203.7 1025.9,189.5 1026.0,205.2 1026.1,199.1 1026.2,200.2 1026.3,202.0 1026.4,202.1 1026.5,193.1 1026.6,201.7 1026.7,194.7 1026.8,203.0 1026.9,199.9 1027.0,193.6 1027.1,197.3 1027.2,184.9 1027.3,198.6 1027.4,198.3 1027.5,204.4 1027.6,202.0 1027.7,204.1 1027.8,203.4 1027.9,193.2 1028.0,195.7 1028.1,192.6 1028.2,199.2 1028.3,198.6 1028.4,200.6 1028.5,201.9 1028.6,200.1 1028.7,199.0 1028.8,194.1 1028.9,194.0 1029.0,198.7 1029.1,199.6 1029.2,189.6 1029.3,192.4 1029.4,205.4 1029.5,202.2 1029.6,196.7 1029.7,203.5 1029.8,194.1 1029.9,188.8 1030.0,206.0 1030.1,203.2 1030.2,207.0 1030.3,195.6 1030.4,196.6 1030.5,200.5 1030.6,203.4 1030.7,193.0 1030.8,195.9 1030.9,197.4 1031.0,197.8 1031.1,191.6 1031.2,192.2 1031.4,199.1 1031.5,209.2 1031.6,197.3 1031.7,199.4 1031.8,198.5 1031.9,195.1 1032.0,199.9 1032.1,196.9 1032.2,190.3 1032.3,207.1 1032.4,202.8 1032.5,186.4 1032.6,193.2 1032.7,198.7 1032.8,200.1 1032.9,195.6 1033.0,195.7 1033.1,204.1 1033.2,193.5 1033.3,189.0 1033.4,191.6 1033.5,204.9 1033.6,201.8 1033.7,212.1 1033.8,199.8 1033.9,196.8 1034.0,198.3 1034.1,196.5 1034.2,205.9 1034.3,195.5 1034.4,201.8 1034.5,196.3 1034.6,194.9 1034.7,198.0 1034.8,197.1 1034.9,206.1 1035.0,196.5 1035.1,207.9 1035.2,208.8 1035.3,199.1 1035.4,204.2 1035.5,180.7 1035.6,194.4 1035.7,199.7 1035.8,201.9 1035.9,199.8 1036.0,185.9 1036.1,199.8 1036.2,204.4 1036.3,187.6 1036.4,189.1 1036.5,188.3 1036.6,199.3 1036.7,190.3 1036.8,211.6 1036.9,209.7 1037.0,193.4 1037.1,211.7 1037.2,195.0 1037.3,204.1 1037.4,181.2 1037.5,214.2 1037.6,174.1 1037.7,209.6 1037.8,205.3 1037.9,209.1 1038.0,201.4 1038.1,188.5 1038.2,195.4 1038.3,212.5 1038.4,201.7 1038.5,186.3 1038.6,201.1 1038.7,203.9 1038.8,200.8 1038.9,199.7 1039.0,211.1 1039.1,192.7 1039.2,199.0 1039.3,188.0 1039.4,207.5 1039.5,195.5 1039.6,205.9 1039.7,207.9 1039.8,193.2 1039.9,186.1 1040.0,199.9 1040.1,213.8 1040.2,186.6 1040.3,190.7 1040.4,187.0 1040.5,203.1 1040.6,187.2 1040.7,190.1 1040.8,172.7 1040.9,184.6 1041.0,196.4 1041.1,198.2 1041.2,201.5 1041.3,213.9 1041.4,189.4 1041.5,197.2 1041.6,202.2 1041.7,199.7 1041.8,197.4 1041.9,200.2 1042.0,200.0 1042.1,190.4 1042.2,198.9 1042.3,192.7 1042.4,193.2 1042.5,204.3 1042.6,194.8 1042.7,199.9 1042.8,204.0 1042.9,195.3 1043.0,187.8 1043.1,203.0 1043.2,199.1 1043.3,187.8 1043.4,199.8 1043.5,192.3 1043.6,211.2 1043.7,208.3 1043.8,199.5 1043.9,200.5 1044.0,205.7 1044.1,192.4 1044.2,192.7 1044.3,195.6 1044.4,202.2 1044.5,194.5 1044.6,193.6 1044.7,204.8 1044.8,184.2 1044.9,193.9 1045.0,199.3 1045.1,191.3 1045.2,198.6 1045.3,192.0 1045.4,202.1 1045.5,204.0 1045.6,202.5 1045.7,196.9 1045.8,191.4 1045.9,204.2 1046.0,196.2 1046.1,197.3 1046.2,206.9 1046.3,186.7 1046.4,200.5 1046.5,200.4 1046.6,200.8 1046.7,201.2 1046.8,201.3 1046.9,189.9 1047.0,189.9 1047.1,194.8 1047.2,206.1 1047.3,190.7 1047.4,198.4 1047.5,205.0 1047.6,194.0 1047.7,204.3 1047.8,192.4 1047.9,191.9 1048.0,199.2 1048.1,203.6 1048.2,196.8 1048.3,194.6 1048.4,195.5 1048.5,192.0 1048.6,201.4 1048.7,191.2 1048.8,206.1 1048.9,193.5 1049.0,191.7 1049.1,201.9 1049.2,196.4 1049.3,196.1 1049.4,193.0 1049.5,199.9 1049.6,202.9 1049.7,208.4 1049.8,197.6 1049.9,200.6 1050.0,201.6 1050.1,192.7 1050.2,202.2 1050.3,201.2 1050.4,194.6 1050.5,199.0 1050.6,206.2 1050.7,193.1 1050.8,196.7 1050.9,198.6 1051.0,195.1 1051.1,195.5 1051.2,197.2 1051.3,200.7 1051.4,194.3 1051.5,205.7 1051.6,205.5 1051.7,195.9 1051.8,201.5 1051.9,202.9 1052.0,194.9 1052.1,186.8 1052.2,206.2 1052.3,201.7 1052.4,200.6 1052.5,195.8 1052.6,188.7 1052.7,199.3 1052.8,184.1 1052.9,195.9 1053.0,189.3 1053.1,197.2 1053.2,195.9 1053.3,198.3 1053.4,198.4 1053.5,197.6 1053.6,203.9 1053.7,201.7 1053.8,195.6 1053.9,208.2 1054.0,188.6 1054.1,188.2 1054.2,197.9 1054.3,193.7 1054.4,187.7 1054.5,200.5 1054.6,196.4 1054.7,200.8 1054.8,192.8 1054.9,199.1 1055.0,189.1 1055.1,201.7 1055.2,193.7 1055.3,189.0 1055.4,199.8 1055.5,199.4 1055.6,202.7 1055.7,200.5 1055.8,194.7 1055.9,185.4 1056.0,197.4 1056.1,198.9 1056.2,188.8 1056.3,190.5 1056.4,186.4 1056.5,196.1 1056.6,190.5 1056.7,186.9 1056.8,215.9 1056.9,202.1 1057.0,196.7 1057.1,201.4 1057.2,197.3 1057.3,197.7 1057.4,209.0 1057.5,187.4 1057.6,214.9 1057.7,212.8 1057.8,205.3 1057.9,202.1 1058.0,195.5 1058.1,207.8 1058.2,200.7 1058.3,204.2 1058.4,198.8 1058.5,209.2 1058.6,196.3 1058.7,194.5 1058.8,195.1 1058.9,198.9 1059.0,199.9 1059.1,203.2 1059.2,205.4 1059.3,194.5 1059.4,202.4 1059.5,191.9 1059.6,202.4 1059.7,201.1 1059.8,194.0 1059.9,188.7 1060.0,195.7 1060.1,194.0 1060.2,197.3 1060.3,195.2 1060.4,195.9 1060.5,191.1 1060.6,204.4 1060.7,194.8 1060.8,195.5 1060.9,197.0 1061.0,191.4 1061.1,196.1 1061.2,204.1 1061.3,196.7 1061.4,198.3 1061.5,198.4 1061.6,196.9 1061.7,194.9 1061.8,200.6 1061.9,199.7 1062.0,201.5 1062.1,194.5 1062.2,197.0 1062.3,199.6 1062.4,201.1 1062.5,200.9 1062.6,191.3 1062.7,193.8 1062.8,190.5 1062.9,198.6 1063.0,203.5 1063.1,193.5 1063.2,195.4 1063.3,193.5 1063.4,205.1 1063.5,199.7 1063.6,196.0 1063.7,205.7 1063.8,192.5 1063.9,201.4 1064.0,197.1 1064.1,195.2 1064.2,200.3 1064.3,202.8 1064.4,201.2 1064.6,194.3 1064.7,190.1 1064.8,190.3 1064.9,201.5 1065.0,197.1 1065.1,201.3 1065.2,204.2 1065.3,196.9 1065.4,208.0 1065.5,195.3 1065.6,199.0 1065.7,197.8 1065.8,197.7 1065.9,194.5 1066.0,200.4 1066.1,196.4 1066.2,194.2 1066.3,190.1 1066.4,198.8 1066.5,196.5 1066.6,186.9 1066.7,198.9 1066.8,196.8 1066.9,200.0 1067.0,199.7 1067.1,197.3 1067.2,200.8 1067.3,196.1 1067.4,198.6 1067.5,206.3 1067.6,197.1 1067.7,192.5 1067.8,199.6 1067.9,190.7 1068.0,199.2 1068.1,200.2 1068.2,198.2 1068.3,206.2 1068.4,193.7 1068.5,201.8 1068.6,195.2 1068.7,199.5 1068.8,197.9 1068.9,196.8 1069.0,199.1 1069.1,195.4 1069.2,201.5 1069.3,200.1 1069.4,195.6 1069.5,194.8 1069.6,202.6 1069.7,200.8 1069.8,202.1 1069.9,190.8 1070.0,216.5 1070.1,185.7 1070.2,190.1 1070.3,214.2 1070.4,182.6 1070.5,203.8 1070.6,181.2 1070.7,167.9 1070.8,196.8 1070.9,214.1 1071.0,178.6 1071.1,208.7 1071.2,291.0 1071.3,212.9 1071.4,197.5 1071.5,209.2 1071.6,209.7 1071.7,196.0 1071.8,197.8 1071.9,186.0 1072.0,135.0 1072.1,192.0 1072.2,188.6 1072.3,189.2 1072.4,196.6 1072.5,201.5 1072.6,228.5 1072.7,216.6 1072.8,215.3 1072.9,195.8 1073.0,205.7 1073.1,219.8 1073.2,191.0 1073.3,243.0 1073.4,186.8 1073.5,196.2 1073.6,209.9 1073.7,208.2 1073.8,186.3 1073.9,201.5 1074.0,228.4 1074.1,208.7 1074.2,191.6 1074.3,193.7 1074.4,209.1 1074.5,158.0 1074.6,194.0 1074.7,189.1 1074.8,213.6 1074.9,186.3 1075.0,205.7 1075.1,228.9 1075.2,199.9 1075.3,190.1 1075.4,194.3 1075.5,194.6 1075.6,193.6 1075.7,190.6 1075.8,190.6 1075.9,180.0 1076.0,203.3 1076.1,197.7 1076.2,191.0 1076.3,208.4 1076.4,190.0 1076.5,189.3 1076.6,206.8 1076.7,212.7 1076.8,172.0 1076.9,200.4 1077.0,241.0 1077.1,179.1 1077.2,198.1 1077.3,191.7 1077.4,194.4 1077.5,207.1 1077.6,204.0 1077.7,197.4 1077.8,209.7 1077.9,200.4 1078.0,203.8 1078.1,192.6 1078.2,192.3 1078.3,197.7 1078.4,204.4 1078.5,186.0 1078.6,191.4 1078.7,204.7 1078.8,187.1 1078.9,202.2 1079.0,207.5 1079.1,191.7 1079.2,198.3 1079.3,214.0 1079.4,203.8 1079.5,210.1 1079.6,202.0 1079.7,190.1 1079.8,184.0 1079.9,208.2 1080.0,200.0 1080.1,208.8 1080.2,199.1 1080.3,202.9 1080.4,201.3 1080.5,202.6 1080.6,198.0 1080.7,189.9 1080.8,205.5 1080.9,190.8 1081.0,181.8 1081.1,187.4 1081.2,207.6 1081.3,198.3 1081.4,203.5 1081.5,200.9 1081.6,209.7 1081.7,202.3 1081.8,194.9 1081.9,185.2 1082.0,195.0 1082.1,198.0 1082.2,190.3 1082.3,185.0 1082.4,189.8 1082.5,199.6 1082.6,204.0 1082.7,198.3 1082.8,207.7 1082.9,190.2 1083.0,204.5 1083.1,184.7 1083.2,182.1 1083.3,183.1 1083.4,208.2 1083.5,199.2 1083.6,202.8 1083.7,190.1 1083.8,200.3 1083.9,209.1 1084.0,200.0 1084.1,199.1 1084.2,198.4 1084.3,200.8 1084.4,198.2 1084.5,199.4 1084.6,217.4 1084.7,192.6 1084.8,200.7 1084.9,200.3 1085.0,185.2 1085.1,207.6 1085.2,199.1 1085.3,196.4 1085.4,207.5 1085.5,190.6 1085.6,208.5 1085.7,189.1 1085.8,198.1 1085.9,213.0 1086.0,192.5 1086.1,183.8 1086.2,202.7 1086.3,202.1 1086.4,197.0 1086.5,203.5 1086.6,211.4 1086.7,200.8 1086.8,197.1 1086.9,199.4 1087.0,185.6 1087.1,198.8 1087.2,200.2 1087.3,191.0 1087.4,189.1 1087.5,192.8 1087.6,211.9 1087.7,197.7 1087.8,190.8 1087.9,203.9 1088.0,189.3 1088.1,205.4 1088.2,203.9 1088.3,199.8 1088.4,194.2 1088.5,193.0 1088.6,196.9 1088.7,200.2 1088.8,196.1 1088.9,196.5 1089.0,191.6 1089.1,199.6 1089.2,205.8 1089.3,195.0 1089.4,191.0 1089.5,205.0 1089.6,202.5 1089.7,191.8 1089.8,201.8 1089.9,205.5 1090.0,207.5 1090.1,192.6 1090.2,202.2 1090.3,195.3 1090.4,200.5 1090.5,192.8 1090.6,203.7 1090.7,196.4 1090.8,205.3 1090.9,195.7 1091.0,198.7 1091.1,194.5 1091.2,196.8 1091.3,187.6 1091.4,196.3 1091.5,195.6 1091.6,197.2 1091.7,197.6 1091.8,205.9 1091.9,202.5 1092.0,208.5 1092.1,190.6 1092.2,193.0 1092.3,198.4 1092.4,198.9 1092.5,203.3 1092.6,199.0 1092.7,198.2 1092.8,207.9 1092.9,191.4 1093.0,197.0 1093.1,200.6 1093.2,205.7 1093.3,192.8 1093.4,193.9 1093.5,194.6 1093.6,201.5 1093.7,195.0 1093.8,197.5 1093.9,198.3 1094.0,193.4 1094.1,201.4 1094.2,204.0 1094.3,196.9 1094.4,190.1 1094.5,197.4 1094.6,205.1 1094.7,191.9 1094.8,194.6 1094.9,204.1 1095.0,204.1 1095.1,196.0 1095.2,192.8 1095.3,195.7 1095.4,198.3 1095.5,201.2 1095.6,204.9 1095.7,200.4 1095.8,192.2 1095.9,198.1 1096.0,188.0 1096.1,203.7 1096.2,194.1 1096.3,203.5 1096.4,198.1 1096.5,200.5 1096.6,197.7 1096.7,186.8 1096.8,201.8 1096.9,200.3 1097.0,198.2 1097.1,197.2 1097.2,191.7 1097.3,204.0 1097.4,200.4 1097.5,191.3 1097.6,202.7 1097.8,208.1 1097.9,199.2 1098.0,198.9 1098.1,196.8 1098.2,188.8 1098.3,205.6 1098.4,197.2 1098.5,201.7 1098.6,191.5 1098.7,192.2 1098.8,202.7 1098.9,191.0 1099.0,201.3 1099.1,192.0 1099.2,205.3 1099.3,201.3 1099.4,187.7 1099.5,211.3 1099.6,208.1 1099.7,201.7 1099.8,205.3 1099.9,205.2 1100.0,201.9 1100.1,190.6 1100.2,194.8 1100.3,202.4 1100.4,187.6 1100.5,204.7 1100.6,190.3 1100.7,192.5 1100.8,198.3 1100.9,199.4 1101.0,195.8 1101.1,209.0 1101.2,200.6 1101.3,201.2 1101.4,201.6 1101.5,207.8 1101.6,192.7 1101.7,195.9 1101.8,199.7 1101.9,205.2 1102.0,198.9 1102.1,198.3 1102.2,201.1 1102.3,197.8 1102.4,197.9 1102.5,195.6 1102.6,187.9 1102.7,188.8 1102.8,202.2 1102.9,200.1 1103.0,212.3 1103.1,200.4 1103.2,196.7 1103.3,198.1 1103.4,195.7 1103.5,198.9 1103.6,194.6 1103.7,198.2 1103.8,207.0 1103.9,195.4 1104.0,198.4 1104.1,194.4 1104.2,198.0 1104.3,198.1 1104.4,186.9 1104.5,201.7 1104.6,195.8 1104.7,200.6 1104.8,197.9 1104.9,208.0 1105.0,206.4 1105.1,200.6 1105.2,201.8 1105.3,195.1 1105.4,188.7 1105.5,193.1 1105.6,195.8 1105.7,205.9 1105.8,202.1 1105.9,199.0 1106.0,199.5 1106.1,205.3 1106.2,197.6 1106.3,202.0 1106.4,196.5 1106.5,190.5 1106.6,200.2 1106.7,192.9 1106.8,203.0 1106.9,196.7 1107.0,198.0 1107.1,195.1 1107.2,193.8 1107.3,193.6 1107.4,204.5 1107.5,202.6 1107.6,201.8 1107.7,191.8 1107.8,202.2 1107.9,193.1 1108.0,194.2 1108.1,194.4 1108.2,199.1 1108.3,197.9 1108.4,197.0 1108.5,197.2 1108.6,194.0 1108.7,200.7 1108.8,198.5 1108.9,191.6 1109.0,201.2 1109.1,196.4 1109.2,201.2 1109.3,196.2 1109.4,200.0 1109.5,199.8 1109.6,200.3 1109.7,198.0 1109.8,198.1 1109.9,202.3 1110.0,206.1 1110.1,196.6 1110.2,197.1 1110.3,198.1 1110.4,186.5 1110.5,201.0 1110.6,199.8 1110.7,195.0 1110.8,201.6 1110.9,192.0 1111.0,190.1 1111.1,202.9 1111.2,200.7 1111.3,200.3 1111.4,200.7 1111.5,194.0 1111.6,197.1 1111.7,202.1 1111.8,195.5 1111.9,200.6 1112.0,200.3 1112.1,193.5 1112.2,195.8 1112.3,202.7 1112.4,201.1 1112.5,189.5 1112.6,202.5 1112.7,192.0 1112.8,192.1 1112.9,199.3 1113.0,202.1 1113.1,200.6 1113.2,195.8 1113.3,200.3 1113.4,207.7 1113.5,204.8 1113.6,194.2 1113.7,198.3 1113.8,202.3 1113.9,199.8 1114.0,191.3 1114.1,199.9 1114.2,198.7 1114.3,199.3 1114.4,196.7 1114.5,188.7 1114.6,197.9 1114.7,202.8 1114.8,199.1 1114.9,200.3 1115.0,190.9 1115.1,210.4 1115.2,194.7 1115.3,200.6 1115.4,197.2 1115.5,189.8 1115.6,180.8 1115.7,206.7 1115.8,199.6 1115.9,193.7 1116.0,210.4 1116.1,206.8 1116.2,201.1 1116.3,193.9 1116.4,219.1 1116.5,196.7 1116.6,210.4 1116.7,192.3 1116.8,196.3 1116.9,189.2 1117.0,199.6 1117.1,201.0 1117.2,201.0 1117.3,195.7 1117.4,204.6 1117.5,212.2 1117.6,200.0 1117.7,192.4 1117.8,190.2 1117.9,193.7 1118.0,207.5 1118.1,198.7 1118.2,197.4 1118.3,209.7 1118.4,204.9 1118.5,209.7 1118.6,205.6 1118.7,186.2 1118.8,210.9 1118.9,203.9 1119.0,203.5 1119.1,204.6 1119.2,190.1 1119.3,188.9 1119.4,202.0 1119.5,199.9 1119.6,204.3 1119.7,199.9 1119.8,195.5 1119.9,199.7 1120.0,200.3 1120.1,193.1 1120.2,188.7 1120.3,198.9 1120.4,199.0 1120.5,192.4 1120.6,189.1 1120.7,194.4 1120.8,203.8 1120.9,202.9 1121.0,212.6 1121.1,196.5 1121.2,203.2 1121.3,195.7 1121.4,203.5 1121.5,191.9 1121.6,196.2 1121.7,197.9 1121.8,215.8 1121.9,189.3 1122.0,199.8 1122.1,188.6 1122.2,193.6 1122.3,190.7 1122.4,199.4 1122.5,190.9 1122.6,206.5 1122.7,201.2 1122.8,200.4 1122.9,194.6 1123.0,196.0 1123.1,188.7 1123.2,195.2 1123.3,208.6 1123.4,208.5 1123.5,188.8 1123.6,202.6 1123.7,208.8 1123.8,169.7 1123.9,209.5 1124.0,190.6 1124.1,212.9 1124.2,201.6 1124.3,186.8 1124.4,201.6 1124.5,180.5 1124.6,201.9 1124.7,212.1 1124.8,187.9 1124.9,197.8 1125.0,179.6 1125.1,188.9 1125.2,202.8 1125.3,190.2 1125.4,197.6 1125.5,179.2 1125.6,195.3 1125.7,192.5 1125.8,191.6 1125.9,196.8 1126.0,208.2 1126.1,197.3 1126.2,218.8 1126.3,213.4 1126.4,216.0 1126.5,203.5 1126.6,216.4 1126.7,206.3 1126.8,199.7 1126.9,209.2 1127.0,189.7 1127.1,208.3 1127.2,190.5 1127.3,199.6 1127.4,195.7 1127.5,212.9 1127.6,211.2 1127.7,217.8 1127.8,215.4 1127.9,195.6 1128.0,186.3 1128.1,196.2 1128.2,198.8 1128.3,198.6 1128.4,181.9 1128.5,189.9 1128.6,203.1 1128.7,214.8 1128.8,221.1 1128.9,223.2 1129.0,187.2 1129.1,195.0 1129.2,196.0 1129.3,200.9 1129.4,198.8 1129.5,205.7 1129.6,214.5 1129.7,188.0 1129.8,179.0 1129.9,190.9 1130.0,196.4 1130.1,182.2 1130.2,196.0 1130.3,190.1 1130.4,188.7 1130.5,193.5 1130.6,180.5 1130.7,209.9 1130.8,197.3 1130.9,197.8 1131.1,201.1 1131.2,212.4 1131.3,198.7 1131.4,184.3 1131.5,195.5 1131.6,207.8 1131.7,192.7 1131.8,214.1 1131.9,192.8 1132.0,198.1 1132.1,195.1 1132.2,195.7 1132.3,201.3 1132.4,197.8 1132.5,200.7 1132.6,186.7 1132.7,192.9 1132.8,190.0 1132.9,204.1 1133.0,207.1 1133.1,196.8 1133.2,208.0 1133.3,180.8 1133.4,188.4 1133.5,183.5 1133.6,180.9 1133.7,206.8 1133.8,212.1 1133.9,198.7 1134.0,205.4 1134.1,187.7 1134.2,179.9 1134.3,208.2 1134.4,200.1 1134.5,191.8 1134.6,197.4 1134.7,195.1 1134.8,222.1 1134.9,209.3 1135.0,201.6 1135.1,184.7 1135.2,186.0 1135.3,187.3 1135.4,206.7 1135.5,208.8 1135.6,211.4 1135.7,202.5 1135.8,191.8 1135.9,195.1 1136.0,201.0 1136.1,204.4 1136.2,201.8 1136.3,186.1 1136.4,216.1 1136.5,205.3 1136.6,214.1 1136.7,201.3 1136.8,202.6 1136.9,203.2 1137.0,217.0 1137.1,213.2 1137.2,193.4 1137.3,197.1 1137.4,203.5 1137.5,211.1 1137.6,191.5 1137.7,195.7 1137.8,203.6 1137.9,185.0 1138.0,198.3 1138.1,198.6 1138.2,206.3 1138.3,195.8 1138.4,160.0 1138.5,184.6 1138.6,202.5 1138.7,198.2 1138.8,188.2 1138.9,189.9 1139.0,201.8 1139.1,194.1 1139.2,181.9 1139.3,204.7 1139.4,196.3 1139.5,209.1 1139.6,208.4 1139.7,189.9 1139.8,224.2 1139.9,196.5 1140.0,208.9 1140.1,197.4 1140.2,196.3 1140.3,192.2 1140.4,204.3 1140.5,185.2 1140.6,172.0 1140.7,201.8 1140.8,210.8 1140.9,204.2 1141.0,184.2 1141.1,197.8 1141.2,199.1 1141.3,191.8 1141.4,198.2 1141.5,201.9 1141.6,191.8 1141.7,210.2 1141.8,208.5 1141.9,199.0 1142.0,210.0 1142.1,201.5 1142.2,200.7 1142.3,183.1 1142.4,193.0 1142.5,204.8 1142.6,201.2 1142.7,191.7 1142.8,187.1 1142.9,210.2 1143.0,199.4 1143.1,183.1 1143.2,198.4 1143.3,194.9 1143.4,193.3 1143.5,195.4 1143.6,193.4 1143.7,202.0 1143.8,190.3 1143.9,192.9 1144.0,199.7 1144.1,196.8 1144.2,206.0 1144.3,185.6 1144.4,200.3 1144.5,191.3 1144.6,198.0 1144.7,198.4 1144.8,204.7 1144.9,192.9 1145.0,206.2 1145.1,200.3 1145.2,192.3 1145.3,188.7 1145.4,200.0 1145.5,204.0 1145.6,196.4 1145.7,194.2 1145.8,198.7 1145.9,188.8 1146.0,200.9 1146.1,200.3 1146.2,181.6 1146.3,188.6 1146.4,198.5 1146.5,197.6 1146.6,195.2 1146.7,194.1 1146.8,200.7 1146.9,196.7 1147.0,200.6 1147.1,195.8 1147.2,206.1 1147.3,197.9 1147.4,196.7 1147.5,184.7 1147.6,199.1" fill="none" stroke="#FFFF00" stroke-width="1" stroke-linejoin="round"/>
<rect x="665.5" y="65.5" width="501.0" height="253.0" fill="none" stroke="#000" stroke-width="1"/>
<line x1="688.5" y1="318.5" x2="688.5" y2="326.5" stroke="#000" stroke-width="1"/>
<line x1="814.5" y1="318.5" x2="814.5" y2="326.5" stroke="#000" stroke-width="1"/>
<line x1="940.5" y1="318.5" x2="940.5" y2="326.5" stroke="#000" stroke-width="1"/>
<line x1="1066.5" y1="318.5" x2="1066.5" y2="326.5" stroke="#000" stroke-width="1"/>
<line x1="657" y1="91.5" x2="665.5" y2="91.5" stroke="#000" stroke-width="1"/>
<line x1="657" y1="127.5" x2="665.5" y2="127.5" stroke="#000" stroke-width="1"/>
<line x1="657" y1="162.5" x2="665.5" y2="162.5" stroke="#000" stroke-width="1"/>
<line x1="657" y1="198.5" x2="665.5" y2="198.5" stroke="#000" stroke-width="1"/>
<line x1="657" y1="234.5" x2="665.5" y2="234.5" stroke="#000" stroke-width="1"/>
<line x1="657" y1="269.5" x2="665.5" y2="269.5" stroke="#000" stroke-width="1"/>
<line x1="657" y1="305.5" x2="665.5" y2="305.5" stroke="#000" stroke-width="1"/>
<rect x="1002.5" y="65.5" width="164.0" height="48.0" fill="#fff" stroke="#000" stroke-width="1"/>
<line x1="1014" y1="81" x2="1039" y2="81" stroke="#0000FF" stroke-width="2"/>
<line x1="1014" y1="97.5" x2="1039" y2="97.5" stroke="#FFFF00" stroke-width="1"/>
<polyline points="79.0,708.8 79.5,708.8 80.0,708.8 80.5,708.8 81.0,708.8 81.5,708.8 82.0,708.8 82.5,708.8 83.0,708.8 83.5,708.8 84.0,708.8 84.5,708.8 85.0,708.8 85.5,708.8 86.0,708.8 86.5,708.8 87.0,708.8 87.5,708.8 88.0,708.8 88.5,708.8 89.0,708.8 89.5,708.8 90.0,708.8 90.5,708.8 91.0,708.8 91.5,708.8 92.0,708.8 92.5,708.8 93.0,708.8 93.5,708.8 94.0,708.8 94.5,708.8 95.0,708.8 95.5,708.8 96.0,708.8 96.5,708.8 97.0,708.8 97.5,708.8 98.0,708.8 98.5,708.8 99.0,708.8 99.5,708.8 100.0,708.8 100.5,708.8 101.0,708.8 101.5,708.8 102.0,708.8 102.5,708.8 103.0,708.8 103.5,708.8 104.0,708.8 104.5,708.8 105.0,708.8 105.5,708.8 106.0,708.8 106.5,708.8 107.0,708.8 107.5,708.8 108.0,708.8 108.5,708.8 109.0,708.8 109.5,708.8 110.0,708.8 110.5,708.8 111.0,708.8 111.5,708.8 112.0,708.8 112.5,708.8 113.0,708.8 113.5,708.8 114.0,708.8 114.5,708.8 115.0,708.8 115.5,708.8 116.0,708.8 116.5,708.8 117.0,708.8 117.5,708.8 118.0,708.8 118.5,708.8 119.0,708.8 119.5,708.8 120.0,708.8 120.5,708.8 121.0,708.8 121.5,708.8 122.0,708.8 122.5,708.8 123.0,708.8 123.5,708.8 124.0,708.8 124.5,708.8 125.0,708.7 125.5,708.7 126.0,708.7 126.5,708.7 127.0,708.7 127.5,708.7 128.0,708.7 128.5,708.7 129.0,708.7 129.5,708.7 130.0,708.7 130.5,708.7 131.0,708.7 131.5,708.7 132.0,708.7 132.5,708.7 133.0,708.7 133.5,708.7 134.0,708.7 134.5,708.7 135.0,708.7 135.5,708.7 136.0,708.7 136.5,708.7 137.0,708.7 137.5,708.7 138.0,708.7 138.5,708.7 139.0,708.7 139.5,708.7 140.0,708.7 140.5,708.7 141.0,708.7 141.5,708.7 142.0,708.7 142.5,708.7 143.0,708.7 143.5,708.7 144.0,708.7 144.5,708.7 145.0,708.7 145.5,708.7 146.0,708.7 146.5,708.7 147.0,708.7 147.5,708.7 148.0,708.7 148.5,708.7 149.0,708.7 149.5,708.7 150.0,708.7 150.5,708.6 151.0,708.4 151.5,707.9 152.0,707.5 152.5,707.4 153.0,707.8 153.5,708.3 154.0,708.6 154.5,708.7 155.0,708.7 155.5,708.7 156.0,708.7 156.5,708.7 157.0,708.7 157.5,708.7 158.0,708.7 158.5,708.7 159.0,708.7 159.5,708.7 160.0,708.7 160.5,708.7 161.0,708.6 161.5,708.6 162.0,708.6 162.5,708.6 163.0,708.6 163.5,708.6 164.0,708.6 164.5,708.5 165.0,708.3 165.5,707.9 166.0,707.5 166.5,707.5 167.0,707.8 167.5,708.2 168.0,708.5 168.5,708.6 169.0,708.6 169.5,708.6 170.0,708.6 170.5,708.6 171.0,708.6 171.5,708.6 172.0,708.6 172.5,708.6 173.0,708.6 173.5,708.6 174.0,708.6 174.5,708.6 175.0,708.6 175.5,708.6 176.0,708.6 176.5,708.6 177.0,708.6 177.5,708.6 178.0,708.6 178.5,708.6 179.0,708.6 179.5,708.5 180.0,708.5 180.5,708.5 181.0,708.5 181.5,708.5 182.0,708.5 182.5,708.4 183.0,708.2 183.5,707.7 184.0,707.3 184.5,707.4 185.0,707.8 185.5,708.2 186.0,708.4 186.5,708.5 187.0,708.5 187.5,708.5 188.0,708.5 188.5,708.5 189.0,708.4 189.5,708.3 190.0,707.9 190.5,707.5 191.0,707.3 191.5,707.5 192.0,707.9 192.5,708.3 193.0,708.4 193.5,708.4 194.0,708.4 194.5,708.4 195.0,708.4 195.5,708.4 196.0,708.4 196.5,708.4 197.0,708.4 197.5,708.4 198.0,708.4 198.5,708.4 199.0,708.4 199.5,708.4 200.0,708.4 200.5,708.3 201.0,708.0 201.5,707.6 202.0,707.1 202.5,707.0 203.0,707.4 203.5,707.9 204.0,708.2 204.5,708.3 205.0,708.3 205.5,708.3 206.0,708.3 206.5,708.2 207.0,707.9 207.5,707.5 208.0,707.1 208.5,707.1 209.0,707.5 209.5,707.9 210.0,708.2 210.5,708.2 211.0,708.2 211.5,708.2 212.0,708.2 212.5,708.2 213.0,708.2 213.5,708.2 214.0,708.2 214.5,708.2 215.0,708.1 215.5,708.1 216.0,708.1 216.5,707.9 217.0,707.6 217.5,707.2 218.0,706.9 218.5,707.1 219.0,707.6 219.5,707.9 220.0,708.0 220.5,708.0 221.0,708.0 221.5,708.0 222.0,708.0 222.5,708.0 223.0,708.0 223.5,707.9 224.0,707.8 224.5,707.5 225.0,706.9 225.5,706.3 226.0,706.2 226.5,706.7 227.0,707.3 227.5,707.7 228.0,707.8 228.5,707.8 229.0,707.8 229.5,707.7 230.0,707.7 230.5,707.7 231.0,707.7 231.5,707.7 232.0,707.6 232.5,707.6 233.0,707.6 233.5,707.6 234.0,707.5 234.5,707.5 235.0,707.5 235.5,707.4 236.0,707.4 236.5,707.4 237.0,707.4 237.5,707.3 238.0,707.3 238.5,707.3 239.0,707.2 239.5,707.2 240.0,707.2 240.5,707.1 241.0,707.1 241.5,707.0 242.0,707.0 242.5,707.0 243.0,706.9 243.5,706.9 244.0,706.8 244.5,706.8 245.0,706.7 245.5,706.7 246.0,706.6 246.5,706.5 247.0,706.4 247.5,706.4 248.0,706.3 248.5,706.2 249.0,706.1 249.5,706.0 250.0,705.9 250.5,705.8 251.0,705.7 251.5,705.6 252.0,705.5 252.5,705.4 253.0,705.3 253.5,705.2 254.0,705.1 254.5,704.9 255.0,704.8 255.5,704.7 256.0,704.5 256.5,704.4 257.0,704.3 257.5,704.1 258.0,704.0 258.5,703.8 259.0,703.7 259.5,703.5 260.0,703.3 260.5,703.2 261.0,703.0 261.5,702.8 262.0,702.6 262.5,702.3 263.0,702.1 263.5,701.8 264.0,701.6 264.5,701.3 265.0,701.0 265.5,700.8 266.0,700.5 266.5,700.1 267.0,699.8 267.5,699.5 268.0,699.2 268.5,698.8 269.0,698.5 269.5,698.1 270.0,697.7 270.5,697.3 271.0,696.9 271.5,696.5 272.0,696.1 272.5,695.6 273.0,695.2 273.5,694.7 274.0,694.1 274.5,693.6 275.0,693.0 275.5,692.4 276.0,691.7 276.5,691.0 277.0,690.3 277.5,689.5 278.0,688.7 278.5,687.9 279.0,687.0 279.5,685.9 280.0,684.8 280.5,683.5 281.0,682.1 281.5,680.5 282.0,678.9 282.5,677.1 283.0,675.2 283.5,673.2 284.0,671.1 284.5,668.7 285.0,665.8 285.5,662.6 286.0,659.1 286.5,655.5 287.0,651.8 287.5,647.7 288.0,643.3 288.5,638.7 289.0,633.9 289.5,629.1 290.0,624.2 290.5,619.3 291.0,614.3 291.5,609.2 292.0,604.0 292.5,598.6 293.0,593.1 293.5,587.4 294.0,581.4 294.5,575.1 295.0,568.7 295.5,562.4 296.0,556.4 296.5,550.3 297.0,544.1 297.5,538.1 298.0,532.5 298.5,527.6 299.0,523.6 299.5,520.2 300.0,517.4 300.5,514.8 301.0,512.4 301.5,510.4 302.0,509.3 302.5,508.6 303.0,507.9 303.5,508.1 304.0,508.7 304.5,509.5 305.0,510.8 305.5,512.8 306.0,515.3 306.5,517.9 307.0,520.9 307.5,524.3 308.0,528.5 308.5,533.5 309.0,539.3 309.5,545.3 310.0,551.5 310.5,557.6 311.0,563.6 311.5,570.0 312.0,576.3 312.5,582.6 313.0,588.6 313.5,594.2 314.0,599.7 314.5,605.1 315.0,610.3 315.5,615.4 316.0,620.3 316.5,625.2 317.0,630.1 317.5,634.9 318.0,639.6 318.5,644.2 319.0,648.5 319.5,652.5 320.0,656.3 320.5,659.8 321.0,663.3 321.5,666.4 322.0,669.2 322.5,671.5 323.0,673.6 323.5,675.6 324.0,677.4 324.5,679.2 325.0,680.8 325.5,682.4 326.0,683.8 326.5,685.0 327.0,686.2 327.5,687.2 328.0,688.0 328.5,688.9 329.0,689.7 329.5,690.5 330.0,691.2 330.5,691.9 331.0,692.5 331.5,693.1 332.0,693.7 332.5,694.2 333.0,694.8 333.5,695.3 334.0,695.7 334.5,696.2 335.0,696.6 335.5,697.0 336.0,697.4 336.5,697.8 337.0,698.2 337.5,698.5 338.0,698.9 338.5,699.2 339.0,699.6 339.5,699.9 340.0,700.2 340.5,700.5 341.0,700.8 341.5,701.1 342.0,701.4 342.5,701.6 343.0,701.9 343.5,702.1 344.0,702.4 344.5,702.6 345.0,702.8 345.5,703.0 346.0,703.2 346.5,703.4 347.0,703.5 347.5,703.7 348.0,703.8 348.5,704.0 349.0,704.1 349.5,704.3 350.0,704.4 350.5,704.6 351.0,704.7 351.5,704.8 352.0,705.0 352.5,705.1 353.0,705.2 353.5,705.3 354.0,705.4 354.5,705.5 355.0,705.7 355.5,705.8 356.0,705.9 356.5,706.0 357.0,706.0 357.5,706.1 358.0,706.2 358.5,706.3 359.0,706.4 359.5,706.5 360.0,706.5 360.5,706.6 361.0,706.7 361.5,706.7 362.0,706.8 362.5,706.7 363.0,706.5 363.5,706.0 364.0,705.7 364.5,705.8 365.0,706.3 365.5,706.8 366.0,707.0 366.5,707.1 367.0,707.2 367.5,707.2 368.0,707.3 368.5,707.3 369.0,707.3 369.5,707.4 370.0,707.4 370.5,707.4 371.0,707.5 371.5,707.5 372.0,707.5 372.5,707.5 373.0,707.6 373.5,707.6 374.0,707.6 374.5,707.6 375.0,707.7 375.5,707.7 376.0,707.7 376.5,707.7 377.0,707.7 377.5,707.8 378.0,707.8 378.5,707.8 379.0,707.8 379.5,707.8 380.0,707.9 380.5,707.9 381.0,707.9 381.5,707.9 382.0,707.9 382.5,707.9 383.0,707.9 383.5,708.0 384.0,708.0 384.5,708.0 385.0,708.0 385.5,708.0 386.0,708.0 386.5,708.0 387.0,708.0 387.5,708.1 388.0,708.1 388.5,708.1 389.0,708.1 389.5,708.1 390.0,708.1 390.5,708.1 391.0,708.1 391.5,708.1 392.0,708.2 392.5,708.2 393.0,708.2 393.5,708.2 394.0,708.2 394.5,708.2 395.0,708.2 395.5,708.2 396.0,708.2 396.5,708.2 397.0,708.2 397.5,708.3 398.0,708.3 398.5,708.3 399.0,708.3 399.5,708.3 400.0,708.3 400.5,708.3 401.0,708.3 401.5,708.3 402.0,708.3 402.5,708.3 403.0,708.3 403.5,708.3 404.0,708.3 404.5,708.4 405.0,708.4 405.5,708.4 406.0,708.4 406.5,708.4 407.0,708.4 407.5,708.4 408.0,708.4 408.5,708.4 409.0,708.4 409.5,708.4 410.0,708.4 410.5,708.4 411.0,708.4 411.5,708.4 412.0,708.4 412.5,708.4 413.0,708.4 413.5,708.4 414.0,708.5 414.5,708.5 415.0,708.5 415.5,708.5 416.0,708.5 416.5,708.5 417.0,708.5 417.5,708.5 418.0,708.5 418.5,708.5 419.0,708.5 419.5,708.5 420.0,708.5 420.5,708.5 421.0,708.5 421.5,708.5 422.0,708.5 422.5,708.5 423.0,708.5 423.5,708.5 424.0,708.5 424.5,708.5 425.0,708.5 425.5,708.5 426.0,708.5 426.5,708.5 427.0,708.5 427.5,708.6 428.0,708.6 428.5,708.6 429.0,708.6 429.5,708.6 430.0,708.6 430.5,708.6 431.0,708.6 431.5,708.6 432.0,708.6 432.5,708.6 433.0,708.6 433.5,708.6 434.0,708.6 434.5,708.6 435.0,708.6 435.5,708.6 436.0,708.6 436.5,708.6 437.0,708.6 437.5,708.6 438.0,708.6 438.5,708.6 439.0,708.6 439.5,708.6 440.0,708.6 440.5,708.6 441.0,708.6 441.5,708.6 442.0,708.6 442.5,708.6 443.0,708.6 443.5,708.6 444.0,708.6 444.5,708.6 445.0,708.6 445.5,708.6 446.0,708.7 446.5,708.7 447.0,708.7 447.5,708.7 448.0,708.7 448.5,708.7 449.0,708.7 449.5,708.7 450.0,708.7 450.5,708.7 451.0,708.6 451.5,708.5 452.0,708.1 452.5,707.7 453.0,707.5 453.5,707.7 454.0,708.2 454.5,708.5 455.0,708.6 455.5,708.7 456.0,708.7 456.5,708.7 457.0,708.7 457.5,708.7 458.0,708.7 458.5,708.7 459.0,708.7 459.5,708.7 460.0,708.7 460.5,708.7 461.0,708.7 461.5,708.7 462.0,708.7 462.5,708.7 463.0,708.7 463.5,708.7 464.0,708.7 464.5,708.7 465.0,708.7 465.5,708.7 466.0,708.7 466.5,708.7 467.0,708.7 467.5,708.7 468.0,708.7 468.5,708.7 469.0,708.7 469.5,708.7 470.0,708.7 470.5,708.7 471.0,708.7 471.5,708.7 472.0,708.7 472.5,708.7 473.0,708.7 473.5,708.7 474.0,708.7 474.5,708.7 475.0,708.7 475.5,708.7 476.0,708.7 476.5,708.7 477.0,708.7 477.5,708.7 478.0,708.7 478.5,708.7 479.0,708.7 479.5,708.7 480.0,708.7 480.5,708.7 481.0,708.7 481.5,708.7 482.0,708.8 482.5,708.8 483.0,708.8 483.5,708.8 484.0,708.8 484.5,708.8 485.0,708.8 485.5,708.8 486.0,708.8 486.5,708.8 487.0,708.8 487.5,708.8 488.0,708.8 488.5,708.8 489.0,708.8 489.5,708.8 490.0,708.8 490.5,708.8 491.0,708.8 491.5,708.8 492.0,708.8 492.5,708.8 493.0,708.8 493.5,708.8 494.0,708.8 494.5,708.8 495.0,708.8 495.5,708.8 496.0,708.8 496.5,708.8 497.0,708.8 497.5,708.8 498.0,708.8 498.5,708.8 499.0,708.8 499.5,708.8 500.0,708.8 500.5,708.8 501.0,708.8 501.5,708.8 502.0,708.8 502.5,708.8 503.0,708.8 503.5,708.8 504.0,708.8 504.5,708.8 505.0,708.8 505.5,708.8 506.0,708.8 506.5,708.8 507.0,708.8 507.5,708.8 508.0,708.8 508.5,708.8 509.0,708.8 509.5,708.8 510.0,708.8 510.5,708.8 511.0,708.8 511.5,708.8 512.0,708.8 512.5,708.8 513.0,708.8 513.5,708.8 514.0,708.8 514.5,708.8 515.0,708.8 515.5,708.8 516.0,708.8 516.5,708.8 517.0,708.8 517.5,708.8 518.0,708.8 518.5,708.8 519.0,708.8 519.5,708.8 520.0,708.8 520.5,708.8 521.0,708.8 521.5,708.8 522.0,708.8 522.5,708.8 523.0,708.8 523.5,708.8 524.0,708.8 524.5,708.8 525.0,708.8 525.5,708.8 526.0,708.8 526.5,708.8 527.0,708.8 527.5,708.8 528.0,708.8 528.5,708.8 529.0,708.8 529.5,708.8 530.0,708.8 530.5,708.8 531.0,708.8 531.5,708.8 532.0,708.8 532.5,708.8 533.0,708.8 533.5,708.8 534.0,708.8 534.5,708.8 535.0,708.8 535.5,708.8 536.0,708.8 536.5,708.8 537.0,708.8 537.5,708.8 538.0,708.9 538.5,708.9 539.0,708.9 539.5,708.9 540.0,708.9 540.5,708.9 541.0,708.9 541.5,708.9 542.0,708.9 542.5,708.9 543.0,708.9 543.5,708.9 544.0,708.9 544.5,708.9 545.0,708.9 545.5,708.9 546.0,708.9 546.5,708.9 547.0,708.9 547.5,708.9 548.0,708.9 548.5,708.9 549.0,708.9 549.5,708.9 550.0,708.9 550.5,708.9 551.0,708.9 551.5,708.9 552.0,708.9 552.5,708.9 553.0,708.9 553.5,708.9" fill="none" stroke="#228B22" stroke-width="2" stroke-linejoin="round"/>
<line x1="65.5" y1="709.5" x2="566.5" y2="709.5" stroke="#BEBEBE" stroke-width="1"/>
<line x1="169" y1="708.5" x2="173" y2="708.5" stroke="#FFA500" stroke-width="1"/>
<line x1="190" y1="708.5" x2="192.5" y2="708.5" stroke="#FFA500" stroke-width="1"/>
<line x1="204" y1="708.5" x2="206" y2="708.5" stroke="#FFA500" stroke-width="1"/>
<line x1="213" y1="708.5" x2="219" y2="708.5" stroke="#FFA500" stroke-width="1"/>
<line x1="396" y1="708.5" x2="401" y2="708.5" stroke="#FFA500" stroke-width="1"/>
<line x1="427.5" y1="708.5" x2="431.5" y2="708.5" stroke="#FFA500" stroke-width="1"/>
<polyline points="225.0,708.3 225.5,708.3 226.0,708.3 226.5,708.3 227.0,708.3 227.5,708.2 228.0,708.2 228.5,708.2 229.0,708.2 229.5,708.2 230.0,708.2 230.5,708.1 231.0,708.1 231.5,708.1 232.0,708.1 232.5,708.1 233.0,708.0 233.5,708.0 234.0,708.0 234.5,708.0 235.0,707.9 235.5,707.9 236.0,707.9 236.5,707.9 237.0,707.8 237.5,707.8 238.0,707.8 238.5,707.7 239.0,707.7 239.5,707.7 240.0,707.7 240.5,707.6 241.0,707.6 241.5,707.6 242.0,707.5 242.5,707.5 243.0,707.4 243.5,707.4 244.0,707.4 244.5,707.3 245.0,707.3 245.5,707.2 246.0,707.2 246.5,707.1 247.0,707.1 247.5,707.0 248.0,707.0 248.5,706.9 249.0,706.9 249.5,706.8 250.0,706.7 250.5,706.6 251.0,706.6 251.5,706.5 252.0,706.4 252.5,706.3 253.0,706.2 253.5,706.1 254.0,706.0 254.5,706.0 255.0,705.9 255.5,705.8 256.0,705.6 256.5,705.5 257.0,705.4 257.5,705.3 258.0,705.2 258.5,705.1 259.0,704.9 259.5,704.8 260.0,704.7 260.5,704.5 261.0,704.4 261.5,704.2 262.0,704.0 262.5,703.8 263.0,703.6 263.5,703.4 264.0,703.2 264.5,702.9 265.0,702.7 265.5,702.4 266.0,702.1 266.5,701.8 267.0,701.5 267.5,701.2 268.0,700.8 268.5,700.5 269.0,700.1 269.5,699.8 270.0,699.4 270.5,699.0 271.0,698.6 271.5,698.2 272.0,697.8 272.5,697.3 273.0,696.8 273.5,696.2 274.0,695.6 274.5,694.9 275.0,694.2 275.5,693.5 276.0,692.7 276.5,691.9 277.0,691.1 277.5,690.2 278.0,689.3 278.5,688.3 279.0,687.3 279.5,686.3 280.0,685.2 280.5,684.0 281.0,682.7 281.5,681.3 282.0,679.9 282.5,678.3 283.0,676.7 283.5,674.9 284.0,673.0 284.5,671.1 285.0,668.8 285.5,666.2 286.0,663.3 286.5,660.2 287.0,656.8 287.5,653.4 288.0,649.7 288.5,645.7 289.0,641.5 289.5,637.0 290.0,632.5 290.5,627.9 291.0,623.2 291.5,618.5 292.0,613.6 292.5,608.5 293.0,603.3 293.5,598.1 294.0,592.9 294.5,587.7 295.0,582.6 295.5,577.5 296.0,572.2 296.5,566.7 297.0,560.9 297.5,554.5 298.0,547.9 298.5,541.0 299.0,533.9 299.5,526.5 300.0,518.8 300.5,511.1 301.0,503.2 301.5,495.1 302.0,488.6 302.5,483.3 303.0,480.3 303.5,478.7 304.0,480.3 304.5,483.3 305.0,488.6 305.5,495.1 306.0,503.2 306.5,511.1 307.0,518.8 307.5,526.5 308.0,533.9 308.5,541.0 309.0,547.9 309.5,554.5 310.0,560.9 310.5,566.7 311.0,572.2 311.5,577.5 312.0,582.6 312.5,587.7 313.0,592.9 313.5,598.1 314.0,603.3 314.5,608.4 315.0,613.1 315.5,617.4 316.0,621.4 316.5,625.1 317.0,628.7 317.5,632.3 318.0,635.9 318.5,639.5 319.0,643.1 319.5,646.8 320.0,650.5 320.5,654.1 321.0,657.5 321.5,660.8 322.0,663.9 322.5,666.8 323.0,669.3 323.5,671.5 324.0,673.4 324.5,675.3 325.0,677.0 325.5,678.6 326.0,680.2 326.5,681.6 327.0,683.0 327.5,684.2 328.0,685.4 328.5,686.5 329.0,687.5 329.5,688.5 330.0,689.5 330.5,690.4 331.0,691.2 331.5,692.1 332.0,692.9 332.5,693.7 333.0,694.4 333.5,695.1 334.0,695.7 334.5,696.3 335.0,696.9 335.5,697.4 336.0,697.8 336.5,698.3 337.0,698.7 337.5,699.1 338.0,699.5 338.5,699.8 339.0,700.2 339.5,700.6 340.0,700.9 340.5,701.2 341.0,701.6 341.5,701.9 342.0,702.2 342.5,702.4 343.0,702.7 343.5,703.0 344.0,703.2 344.5,703.4 345.0,703.7 345.5,703.9 346.0,704.1 346.5,704.2 347.0,704.4 347.5,704.6 348.0,704.7 348.5,704.8 349.0,705.0 349.5,705.1 350.0,705.2 350.5,705.3 351.0,705.4 351.5,705.6 352.0,705.7 352.5,705.8 353.0,705.9 353.5,706.0 354.0,706.1 354.5,706.2 355.0,706.3 355.5,706.3 356.0,706.4 356.5,706.5 357.0,706.6 357.5,706.7 358.0,706.7 358.5,706.8 359.0,706.9 359.5,706.9 360.0,707.0 360.5,707.0 361.0,707.1 361.5,707.2 362.0,707.2 362.5,707.3 363.0,707.3 363.5,707.3 364.0,707.4 364.5,707.4 365.0,707.5 365.5,707.5 366.0,707.5 366.5,707.6 367.0,707.6 367.5,707.6 368.0,707.7 368.5,707.7 369.0,707.7 369.5,707.8 370.0,707.8 370.5,707.8 371.0,707.8 371.5,707.9 372.0,707.9 372.5,707.9 373.0,707.9 373.5,708.0 374.0,708.0 374.5,708.0 375.0,708.0 375.5,708.1 376.0,708.1 376.5,708.1 377.0,708.1 377.5,708.1 378.0,708.2 378.5,708.2 379.0,708.2 379.5,708.2 380.0,708.2 380.5,708.2 381.0,708.3 381.5,708.3 382.0,708.3 382.5,708.3 383.0,708.3 383.5,708.3 384.0,708.3 384.5,708.3 385.0,708.4 385.5,708.4 386.0,708.4 386.5,708.4 387.0,708.4 387.5,708.4 388.0,708.4 388.5,708.4 389.0,708.4 389.5,708.4 390.0,708.4 390.5,708.5 391.0,708.5 391.5,708.5 392.0,708.5 392.5,708.5 393.0,708.5" fill="none" stroke="#FFA500" stroke-width="1" stroke-linejoin="round"/>
<rect x="65.5" y="465.5" width="501.0" height="253.0" fill="none" stroke="#000" stroke-width="1"/>
<line x1="91.5" y1="718.5" x2="91.5" y2="726.5" stroke="#000" stroke-width="1"/>
<line x1="162.5" y1="718.5" x2="162.5" y2="726.5" stroke="#000" stroke-width="1"/>
<line x1="232.5" y1="718.5" x2="232.5" y2="726.5" stroke="#000" stroke-width="1"/>
<line x1="302.5" y1="718.5" x2="302.5" y2="726.5" stroke="#000" stroke-width="1"/>
<line x1="373.5" y1="718.5" x2="373.5" y2="726.5" stroke="#000" stroke-width="1"/>
<line x1="443.5" y1="718.5" x2="443.5" y2="726.5" stroke="#000" stroke-width="1"/>
<line x1="514.5" y1="718.5" x2="514.5" y2="726.5" stroke="#000" stroke-width="1"/>
<line x1="57" y1="482.5" x2="65.5" y2="482.5" stroke="#000" stroke-width="1"/>
<line x1="57" y1="520.5" x2="65.5" y2="520.5" stroke="#000" stroke-width="1"/>
<line x1="57" y1="557.5" x2="65.5" y2="557.5" stroke="#000" stroke-width="1"/>
<line x1="57" y1="595.5" x2="65.5" y2="595.5" stroke="#000" stroke-width="1"/>
<line x1="57" y1="633.5" x2="65.5" y2="633.5" stroke="#000" stroke-width="1"/>
<line x1="57" y1="671.5" x2="65.5" y2="671.5" stroke="#000" stroke-width="1"/>
<line x1="57" y1="708.5" x2="65.5" y2="708.5" stroke="#000" stroke-width="1"/>
<rect x="65.5" y="465.5" width="195.0" height="48.0" fill="#fff" stroke="#000" stroke-width="1"/>
<line x1="77" y1="481" x2="102" y2="481" stroke="#228B22" stroke-width="2"/>
<line x1="77" y1="497.5" x2="102" y2="497.5" stroke="#FFA500" stroke-width="1"/>
<clipPath id="cp4"><rect x="665.5" y="465.5" width="501" height="253"/></clipPath>
<g clip-path="url(#cp4)">
<line x1="683.0" y1="716.5" x2="689.0" y2="716.5" stroke="#000"/>
<line x1="688.0" y1="716.5" x2="695.0" y2="716.5" stroke="#000"/>
<line x1="699.0" y1="716.5" x2="705.0" y2="716.5" stroke="#000"/>
<line x1="704.0" y1="716.5" x2="710.0" y2="716.5" stroke="#000"/>
<line x1="715.0" y1="716.5" x2="721.0" y2="716.5" stroke="#000"/>
<line x1="720.0" y1="716.5" x2="726.0" y2="716.5" stroke="#000"/>
<line x1="730.0" y1="716.5" x2="736.0" y2="716.5" stroke="#000"/>
<line x1="735.0" y1="716.5" x2="742.0" y2="716.5" stroke="#000"/>
<line x1="746.0" y1="716.5" x2="752.0" y2="716.5" stroke="#000"/>
<line x1="751.0" y1="716.5" x2="757.0" y2="716.5" stroke="#000"/>
<rect x="761.5" y="715.5" width="6.0" height="1.0" fill="#0000FF" stroke="#000"/>
<rect x="767.5" y="715.5" width="5.0" height="1.0" fill="#FFFF00" stroke="#000"/>
<rect x="777.5" y="715.5" width="5.0" height="1.0" fill="#0000FF" stroke="#000"/>
<line x1="782.0" y1="716.5" x2="789.0" y2="716.5" stroke="#000"/>
<rect x="793.5" y="715.5" width="5.0" height="1.0" fill="#0000FF" stroke="#000"/>
<line x1="798.0" y1="716.5" x2="804.0" y2="716.5" stroke="#000"/>
<rect x="808.5" y="715.5" width="6.0" height="1.0" fill="#0000FF" stroke="#000"/>
<rect x="814.5" y="715.5" width="5.0" height="1.0" fill="#FFFF00" stroke="#000"/>
<rect x="824.5" y="714.5" width="5.0" height="2.0" fill="#0000FF" stroke="#000"/>
<rect x="829.5" y="714.5" width="6.0" height="2.0" fill="#FFFF00" stroke="#000"/>
<rect x="840.5" y="712.5" width="5.0" height="4.0" fill="#0000FF" stroke="#000"/>
<rect x="845.5" y="712.5" width="5.0" height="4.0" fill="#FFFF00" stroke="#000"/>
<rect x="855.5" y="707.5" width="6.0" height="9.0" fill="#0000FF" stroke="#000"/>
<rect x="861.5" y="706.5" width="5.0" height="10.0" fill="#FFFF00" stroke="#000"/>
<rect x="871.5" y="688.5" width="5.0" height="28.0" fill="#0000FF" stroke="#000"/>
<rect x="876.5" y="686.5" width="5.0" height="30.0" fill="#FFFF00" stroke="#000"/>
<rect x="887.5" y="576.5" width="5.0" height="140.0" fill="#0000FF" stroke="#000"/>
<rect x="892.5" y="587.5" width="5.0" height="129.0" fill="#FFFF00" stroke="#000"/>
<rect x="902.5" y="475.5" width="6.0" height="241.0" fill="#0000FF" stroke="#000"/>
<rect x="908.5" y="455.5" width="5.0" height="261.0" fill="#FFFF00" stroke="#000"/>
<rect x="918.5" y="659.5" width="5.0" height="57.0" fill="#0000FF" stroke="#000"/>
<rect x="923.5" y="657.5" width="5.0" height="59.0" fill="#FFFF00" stroke="#000"/>
<rect x="934.5" y="703.5" width="5.0" height="13.0" fill="#0000FF" stroke="#000"/>
<rect x="939.5" y="704.5" width="5.0" height="12.0" fill="#FFFF00" stroke="#000"/>
<rect x="949.5" y="713.5" width="6.0" height="3.0" fill="#0000FF" stroke="#000"/>
<rect x="955.5" y="713.5" width="5.0" height="3.0" fill="#FFFF00" stroke="#000"/>
<rect x="965.5" y="714.5" width="5.0" height="2.0" fill="#0000FF" stroke="#000"/>
<rect x="970.5" y="714.5" width="5.0" height="2.0" fill="#FFFF00" stroke="#000"/>
<rect x="981.5" y="715.5" width="5.0" height="1.0" fill="#0000FF" stroke="#000"/>
<rect x="986.5" y="715.5" width="5.0" height="1.0" fill="#FFFF00" stroke="#000"/>
<rect x="996.5" y="715.5" width="5.0" height="1.0" fill="#0000FF" stroke="#000"/>
<rect x="1001.5" y="715.5" width="6.0" height="1.0" fill="#FFFF00" stroke="#000"/>
<line x1="1012.0" y1="716.5" x2="1018.0" y2="716.5" stroke="#000"/>
<line x1="1017.0" y1="716.5" x2="1023.0" y2="716.5" stroke="#000"/>
<line x1="1028.0" y1="716.5" x2="1034.0" y2="716.5" stroke="#000"/>
<line x1="1033.0" y1="716.5" x2="1039.0" y2="716.5" stroke="#000"/>
<line x1="1043.0" y1="716.5" x2="1049.0" y2="716.5" stroke="#000"/>
<line x1="1048.0" y1="716.5" x2="1055.0" y2="716.5" stroke="#000"/>
<line x1="1059.0" y1="716.5" x2="1065.0" y2="716.5" stroke="#000"/>
<line x1="1064.0" y1="716.5" x2="1070.0" y2="716.5" stroke="#000"/>
<line x1="1075.0" y1="716.5" x2="1081.0" y2="716.5" stroke="#000"/>
<line x1="1080.0" y1="716.5" x2="1086.0" y2="716.5" stroke="#000"/>
<line x1="1090.0" y1="716.5" x2="1096.0" y2="716.5" stroke="#000"/>
<line x1="1095.0" y1="716.5" x2="1102.0" y2="716.5" stroke="#000"/>
<line x1="1106.0" y1="716.5" x2="1112.0" y2="716.5" stroke="#000"/>
<line x1="1111.0" y1="716.5" x2="1117.0" y2="716.5" stroke="#000"/>
<line x1="1121.0" y1="716.5" x2="1128.0" y2="716.5" stroke="#000"/>
<line x1="1127.0" y1="716.5" x2="1133.0" y2="716.5" stroke="#000"/>
<line x1="1137.0" y1="716.5" x2="1143.0" y2="716.5" stroke="#000"/>
<line x1="1142.0" y1="716.5" x2="1149.0" y2="716.5" stroke="#000"/>
</g>
<rect x="665.5" y="465.5" width="501.0" height="253.0" fill="none" stroke="#000" stroke-width="1"/>
<line x1="657" y1="499.5" x2="665.5" y2="499.5" stroke="#000" stroke-width="1"/>
<line x1="657" y1="553.5" x2="665.5" y2="553.5" stroke="#000" stroke-width="1"/>
<line x1="657" y1="608.5" x2="665.5" y2="608.5" stroke="#000" stroke-width="1"/>
<line x1="657" y1="662.5" x2="665.5" y2="662.5" stroke="#000" stroke-width="1"/>
<line x1="657" y1="716.5" x2="665.5" y2="716.5" stroke="#000" stroke-width="1"/>
<rect x="993.5" y="465.5" width="173.0" height="48.0" fill="#fff" stroke="#000" stroke-width="1"/>
<rect x="1005.5" y="477.5" width="9" height="8" fill="#0000FF" stroke="#000"/>
<rect x="1005.5" y="493.5" width="9" height="8" fill="#FFFF00" stroke="#000"/>
</g>
<g font-family="'Liberation Sans', sans-serif" fill="#000">
<text x="215.00" y="39.50" font-size="16" font-weight="bold" textLength="200.11" lengthAdjust="spacingAndGlyphs">EOI stock price time-series</text>
<text x="749.60" y="39.50" font-size="16" font-weight="bold" textLength="329.61" lengthAdjust="spacingAndGlyphs">EOI versus S&amp;P500 stock return time-series</text>
<text x="147.60" y="439.50" font-size="16" font-weight="bold" textLength="333.89" lengthAdjust="spacingAndGlyphs">EOI versus S&amp;P500 stock return distribution</text>
<text x="730.70" y="439.50" font-size="16" font-weight="bold" textLength="368.59" lengthAdjust="spacingAndGlyphs">EOI versus S&amp;P500 return frequency distribution</text>
<text x="73.95" y="347.80" font-size="14" textLength="27.30" lengthAdjust="spacingAndGlyphs">2005</text>
<text x="199.75" y="347.80" font-size="14" textLength="27.30" lengthAdjust="spacingAndGlyphs">2010</text>
<text x="325.85" y="347.80" font-size="14" textLength="27.30" lengthAdjust="spacingAndGlyphs">2015</text>
<text x="451.95" y="347.80" font-size="14" textLength="27.30" lengthAdjust="spacingAndGlyphs">2020</text>
<text transform="translate(47.00,274.70) rotate(-90)" font-size="14" textLength="6.40" lengthAdjust="spacingAndGlyphs">5</text>
<text transform="translate(47.00,203.60) rotate(-90)" font-size="14" textLength="12.60" lengthAdjust="spacingAndGlyphs">10</text>
<text transform="translate(47.00,128.10) rotate(-90)" font-size="14" textLength="12.60" lengthAdjust="spacingAndGlyphs">15</text>
<text x="673.95" y="347.80" font-size="14" textLength="27.30" lengthAdjust="spacingAndGlyphs">2005</text>
<text x="799.75" y="347.80" font-size="14" textLength="27.30" lengthAdjust="spacingAndGlyphs">2010</text>
<text x="925.85" y="347.80" font-size="14" textLength="27.30" lengthAdjust="spacingAndGlyphs">2015</text>
<text x="1051.95" y="347.80" font-size="14" textLength="27.30" lengthAdjust="spacingAndGlyphs">2020</text>
<text transform="translate(647.00,104.00) rotate(-90)" font-size="14" textLength="24.40" lengthAdjust="spacingAndGlyphs">0.15</text>
<text transform="translate(647.00,175.00) rotate(-90)" font-size="14" textLength="24.00" lengthAdjust="spacingAndGlyphs">0.05</text>
<text transform="translate(647.00,248.40) rotate(-90)" font-size="14" textLength="27.80" lengthAdjust="spacingAndGlyphs">-0.05</text>
<text transform="translate(647.00,319.40) rotate(-90)" font-size="14" textLength="27.80" lengthAdjust="spacingAndGlyphs">-0.15</text>
<text x="1050.30" y="86.70" font-size="14" textLength="93.90" lengthAdjust="spacingAndGlyphs">EOI stock return</text>
<text x="1050.30" y="102.80" font-size="14" textLength="109.20" lengthAdjust="spacingAndGlyphs">GSPC stock return</text>
<text x="76.90" y="748.10" font-size="14" textLength="27.70" lengthAdjust="spacingAndGlyphs">-0.15</text>
<text x="147.80" y="748.10" font-size="14" textLength="27.60" lengthAdjust="spacingAndGlyphs">-0.10</text>
<text x="217.50" y="748.10" font-size="14" textLength="27.70" lengthAdjust="spacingAndGlyphs">-0.05</text>
<text x="290.00" y="748.10" font-size="14" textLength="23.60" lengthAdjust="spacingAndGlyphs">0.00</text>
<text x="360.40" y="748.10" font-size="14" textLength="24.00" lengthAdjust="spacingAndGlyphs">0.05</text>
<text x="430.60" y="748.10" font-size="14" textLength="23.80" lengthAdjust="spacingAndGlyphs">0.10</text>
<text x="501.60" y="748.10" font-size="14" textLength="23.80" lengthAdjust="spacingAndGlyphs">0.15</text>
<text transform="translate(47.00,711.90) rotate(-90)" font-size="14" textLength="6.40" lengthAdjust="spacingAndGlyphs">0</text>
<text transform="translate(47.00,677.30) rotate(-90)" font-size="14" textLength="12.60" lengthAdjust="spacingAndGlyphs">10</text>
<text transform="translate(47.00,639.30) rotate(-90)" font-size="14" textLength="12.60" lengthAdjust="spacingAndGlyphs">20</text>
<text transform="translate(47.00,601.60) rotate(-90)" font-size="14" textLength="12.60" lengthAdjust="spacingAndGlyphs">30</text>
<text transform="translate(47.00,563.60) rotate(-90)" font-size="14" textLength="12.60" lengthAdjust="spacingAndGlyphs">40</text>
<text transform="translate(47.00,526.50) rotate(-90)" font-size="14" textLength="12.60" lengthAdjust="spacingAndGlyphs">50</text>
<text transform="translate(47.00,488.30) rotate(-90)" font-size="14" textLength="12.60" lengthAdjust="spacingAndGlyphs">60</text>
<text x="113.40" y="486.60" font-size="14" textLength="125.09" lengthAdjust="spacingAndGlyphs">EOI return distribution</text>
<text x="113.40" y="502.80" font-size="14" textLength="140.00" lengthAdjust="spacingAndGlyphs">GSPC return distribution</text>
<text x="648.00" y="748.20" font-size="14" textLength="83.25" lengthAdjust="spacingAndGlyphs">[-0.155,-0.144)</text>
<text x="750.00" y="748.20" font-size="14" textLength="97.50" lengthAdjust="spacingAndGlyphs">[-0.0786,-0.0676)</text>
<text x="878.75" y="748.20" font-size="14" textLength="89.25" lengthAdjust="spacingAndGlyphs">[0.0092,0.0202)</text>
<text x="995.50" y="748.20" font-size="14" textLength="75.24" lengthAdjust="spacingAndGlyphs">[0.086,0.097)</text>
<text x="1090.00" y="748.20" font-size="14" textLength="74.99" lengthAdjust="spacingAndGlyphs">[0.152,0.163)</text>
<text x="898.25" y="779.50" font-size="14" textLength="32.50" lengthAdjust="spacingAndGlyphs">return</text>
<text transform="translate(615.00,620.80) rotate(-90)" font-size="14" textLength="56.20" lengthAdjust="spacingAndGlyphs">frequency</text>
<text transform="translate(647.00,719.80) rotate(-90)" font-size="14" textLength="6.40" lengthAdjust="spacingAndGlyphs">0</text>
<text transform="translate(647.00,672.60) rotate(-90)" font-size="14" textLength="20.01" lengthAdjust="spacingAndGlyphs">500</text>
<text transform="translate(647.00,620.70) rotate(-90)" font-size="14" textLength="25.80" lengthAdjust="spacingAndGlyphs">1000</text>
<text transform="translate(647.00,566.20) rotate(-90)" font-size="14" textLength="25.80" lengthAdjust="spacingAndGlyphs">1500</text>
<text transform="translate(647.00,512.80) rotate(-90)" font-size="14" textLength="26.60" lengthAdjust="spacingAndGlyphs">2000</text>
<text x="1026.50" y="486.60" font-size="14" textLength="117.60" lengthAdjust="spacingAndGlyphs">EOI return frequency</text>
<text x="1026.50" y="502.80" font-size="14" textLength="132.70" lengthAdjust="spacingAndGlyphs">GSPC return frequency</text>
</g>
</svg>
</body></html>
